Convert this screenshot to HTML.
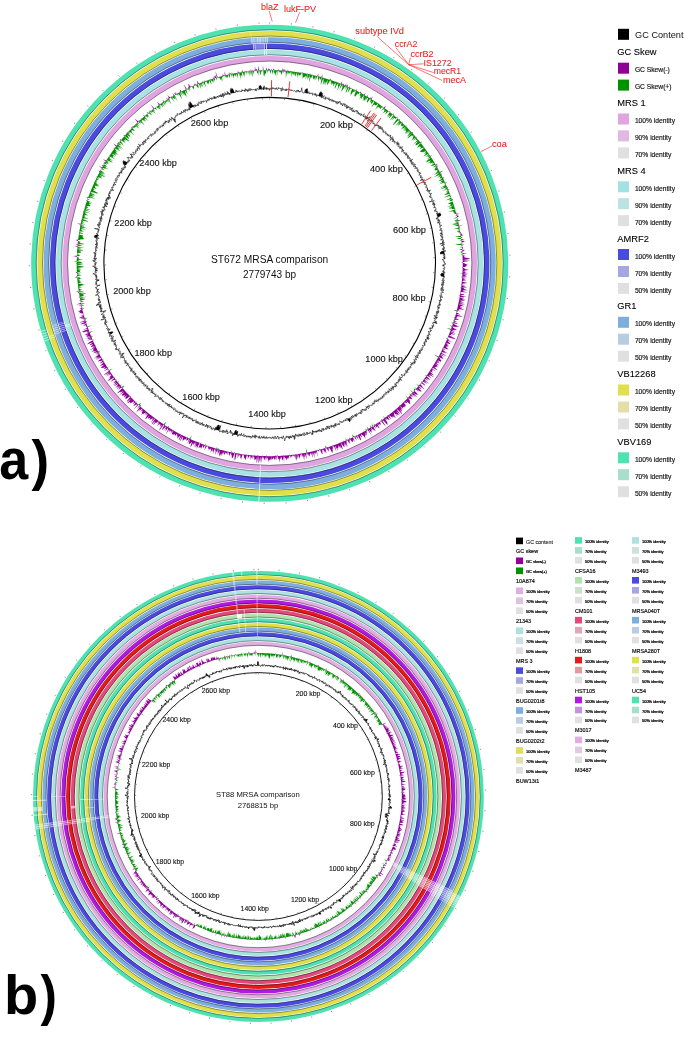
<!DOCTYPE html>
<html><head><meta charset="utf-8"><title>BRIG comparison</title>
<style>
html,body{margin:0;padding:0;background:#fff;}
body{width:685px;height:1056px;overflow:hidden;}
svg{display:block;font-family:"Liberation Sans", sans-serif;will-change:transform;}
</style></head><body>
<svg width="685" height="1056" viewBox="0 0 685 1056">
<rect width="685" height="1056" fill="#fff"/>
<circle cx="269.7" cy="263.2" r="235.8" fill="none" stroke="#4ee2b0" stroke-width="5.5"/>
<circle cx="269.7" cy="263.2" r="233.5" fill="none" stroke="#000" stroke-opacity="0.42" stroke-width="0.9"/>
<circle cx="269.7" cy="263.2" r="229.5" fill="none" stroke="#e0e04c" stroke-width="5.5"/>
<circle cx="269.7" cy="263.2" r="227.2" fill="none" stroke="#000" stroke-opacity="0.42" stroke-width="0.9"/>
<circle cx="269.7" cy="263.2" r="223.3" fill="none" stroke="#7caede" stroke-width="5.5"/>
<circle cx="269.7" cy="263.2" r="221" fill="none" stroke="#000" stroke-opacity="0.42" stroke-width="0.9"/>
<circle cx="269.7" cy="263.2" r="217" fill="none" stroke="#4a4adf" stroke-width="5.5"/>
<circle cx="269.7" cy="263.2" r="214.8" fill="none" stroke="#000" stroke-opacity="0.42" stroke-width="0.9"/>
<circle cx="269.7" cy="263.2" r="210.8" fill="none" stroke="#a8e2e2" stroke-width="5.5"/>
<circle cx="269.7" cy="263.2" r="208.5" fill="none" stroke="#000" stroke-opacity="0.42" stroke-width="0.9"/>
<circle cx="269.7" cy="263.2" r="204.5" fill="none" stroke="#e0a4e0" stroke-width="5.5"/>
<circle cx="269.7" cy="263.2" r="202.2" fill="none" stroke="#000" stroke-opacity="0.42" stroke-width="0.9"/>
<path d="M250.4 37.9L268.1 37.1L268.2 42.8L250.9 43.6Z" fill="#fff" fill-opacity="0.22"/>
<path d="M251.2 37.9L252 37.8L252.4 43.4L251.6 43.5Z" fill="#fff" fill-opacity="0.5"/>
<path d="M253.3 37.7L254.1 37.6L254.5 43.3L253.7 43.3Z" fill="#fff" fill-opacity="0.45"/>
<path d="M257.1 37.5L257.9 37.4L258.2 43.1L257.4 43.1Z" fill="#fff" fill-opacity="0.5"/>
<path d="M258.7 37.4L259.4 37.3L259.7 43L258.9 43Z" fill="#fff" fill-opacity="0.5"/>
<path d="M260.2 37.3L261 37.3L261.2 42.9L260.5 42.9Z" fill="#fff" fill-opacity="0.5"/>
<path d="M262.6 37.2L263.4 37.2L263.5 42.8L262.8 42.9Z" fill="#fff" fill-opacity="0.5"/>
<path d="M265.4 37.1L266.1 37.1L266.2 42.8L265.5 42.8Z" fill="#fff" fill-opacity="0.5"/>
<path d="M266.9 37.1L267.7 37.1L267.8 42.8L267 42.8Z" fill="#fff" fill-opacity="0.5"/>
<path d="M252.8 44L263.6 43.4L263.7 49.1L253.3 49.6Z" fill="#fff" fill-opacity="0.3"/>
<path d="M252.8 44L253.6 43.9L254 49.6L253.3 49.6Z" fill="#fff" fill-opacity="0.6"/>
<path d="M254.7 43.9L255.5 43.8L255.9 49.4L255.1 49.5Z" fill="#fff" fill-opacity="0.45"/>
<path d="M263.8 43.4L264.6 43.4L264.8 49.1L263.9 49.1ZM264 49.7L264.8 49.7L264.9 55.3L264.1 55.3Z" fill="#fff" fill-opacity="0.85"/>
<path d="M266.1 43.4L266.9 43.4L267 49L266.1 49ZM266.2 49.6L267 49.6L267.1 55.3L266.3 55.3Z" fill="#fff" fill-opacity="0.85"/>
<path d="M250.3 31.7L251 31.6L251.5 37.2L250.8 37.3Z" fill="#fff" fill-opacity="0.35"/>
<path d="M259.3 501.6L258.4 501.5L258.7 495.9L259.6 495.9ZM259.6 495.3L258.7 495.3L259 489.6L259.9 489.7ZM259.9 489.1L259 489L259.3 483.4L260.1 483.4ZM260.1 482.8L259.3 482.8L259.6 477.2L260.4 477.2ZM260.4 476.6L259.6 476.6L259.9 470.9L260.7 471ZM260.7 470.4L259.9 470.3L260.2 464.7L260.9 464.7Z" fill="#fff" fill-opacity="0.8"/>
<path d="M44.4 341.7L44.1 340.8L49.4 339L49.7 339.8Z" fill="#fff" fill-opacity="0.6"/>
<path d="M43.6 339.3L43.3 338.5L48.6 336.7L48.9 337.5Z" fill="#fff" fill-opacity="0.6"/>
<path d="M42.8 337L42.5 336.1L47.9 334.4L48.2 335.2Z" fill="#fff" fill-opacity="0.55"/>
<path d="M42 334.6L41.8 333.7L47.2 332L47.4 332.9Z" fill="#fff" fill-opacity="0.6"/>
<path d="M41.2 331.8L40.9 330.9L46.3 329.3L46.6 330.2Z" fill="#fff" fill-opacity="0.55"/>
<path d="M50 338.9L49.7 338L55.1 336.2L55.4 337Z" fill="#fff" fill-opacity="0.55"/>
<path d="M49.4 337L49.1 336.1L54.5 334.3L54.7 335.2Z" fill="#fff" fill-opacity="0.55"/>
<path d="M55.2 334.6L54.9 333.8L60.3 332L60.5 332.8ZM61.1 332.6L60.8 331.8L66.2 330.1L66.5 330.8Z" fill="#fff" fill-opacity="0.6"/>
<path d="M54.6 332.7L54.3 331.9L59.7 330.2L59.9 331ZM60.5 330.8L60.2 330L65.6 328.3L65.9 329.1Z" fill="#fff" fill-opacity="0.6"/>
<path d="M54 330.9L53.7 330L59.1 328.4L59.3 329.2ZM59.9 329L59.7 328.2L65.1 326.5L65.3 327.3Z" fill="#fff" fill-opacity="0.65"/>
<path d="M53.4 329L53.1 328.1L58.5 326.5L58.8 327.3ZM59.4 327.1L59.1 326.3L64.5 324.7L64.8 325.5Z" fill="#fff" fill-opacity="0.6"/>
<path d="M52.8 327.1L52.6 326.2L58 324.7L58.2 325.5ZM58.8 325.3L58.6 324.5L64 322.9L64.2 323.7Z" fill="#fff" fill-opacity="0.55"/>
<path d="M52.4 325.6L52.1 324.7L57.6 323.2L57.8 324ZM58.4 323.8L58.1 323L63.6 321.5L63.8 322.3Z" fill="#fff" fill-opacity="0.4"/>
<path d="M66.1 327.6L65.8 326.9L71.2 325.2L71.4 325.9Z" fill="#fff" fill-opacity="0.7"/>
<path d="M65.5 325.9L65.3 325.1L70.7 323.4L70.9 324.2Z" fill="#fff" fill-opacity="0.7"/>
<path d="M269.7 70.2L270.2 72.7L270.6 74.3L271.1 70.5L271.6 70.2L272 71.7L272.5 73L272.9 74.6L273.4 70.2L273.9 70.2L274.3 73.6L274.8 73.1L275.1 75.7L275.6 74.3L276.2 71.7L276.7 71.2L276.9 77.8L277.6 71.2L278.1 70.4L278.6 70.4L278.9 72.3L279.4 72.4L279.9 71.2L280.3 71.9L280.8 72.8L281.2 73.9L281.5 74.9L282.1 72.7L282.7 70.6L283 74L283.7 70.7L284.1 71.9L284.6 70.8L284.9 72.4L285.5 70.9L285.8 73L285.8 78.4L286.8 72.4L287.1 74.7L287.9 71.1L288.2 72L288.5 74.4L289.1 72.6L289.5 73.8L290 73.1L290.6 71.3L290.8 74.4L291.6 71.4L291.3 77.7L292.5 71.9L292.6 74.9L293.2 73.3L293.4 75.7L294.3 71.9L294.3 75.9L295.1 73.2L295.1 76.7L295.8 75.2L296.4 74L297.1 72.2L297.1 75.7L297.6 75L297.7 78L298.9 73.1L299 75.5L299.4 75.4L300 74.9L300.5 74.8L300.9 74.8L301.7 73L302.2 73L302.5 73.6L302.6 76.1L302.6 78.5L303.3 77.3L303.7 77.5L304.3 76.9L304.8 76.8L305.5 75.6L305.7 77.2L305.6 79.7L307.1 74.7L307.7 74L306.9 80.4L308.2 76.3L308.2 78.2L308.7 78.1L310 74.4L308.9 81.9L309.6 80.5L310.9 76.7L311 78.2L311.8 76.8L312.7 75.1L312.9 76.4L313 77.7L313.1 79.6L313.7 78.8L314.6 77.3L314.3 80.5L315.9 75.8L315.5 79.4L315.7 80.3L317 77L317.7 76.3L318.1 76.4L318 78.6L318.3 79.4L318.1 82L320 76.9L320 78.5L320 80.2L321 78.4L321.8 77.4L320.9 82.1L320.6 84.8L321.6 82.8L323.4 78.3L323.5 79.6L323.5 81.3L322.7 85.4L324.1 82.5L324.9 81.4L324.3 85L325.9 81.2L324.9 86L327.3 80.1L327.5 80.7L327.1 83.7L327 85.5L328 83.8L328.7 83.1L330.2 79.9L330.4 81L330.7 81.4L331.1 81.7L330.6 84.5L331.8 82.5L331.3 85.3L332.3 83.8L333.1 83L333.2 84.2L333.4 85.1L333.4 86.2L335 83.2L335.2 84L336.4 82.1L334.5 88.6L335 88.4L336.9 84.7L337.6 84.2L338.6 82.9L337.9 86L338.3 86.3L337.2 90.4L339.1 86.7L340.5 84.5L341.2 83.9L339.3 89.9L340.8 87.3L342.5 84.4L341.7 87.6L343.3 84.8L340.9 91.9L342.1 90.3L343 89.2L344.2 87.7L345.5 85.7L345 88.1L346.3 86.1L345.1 90.1L347.2 86.4L347.4 87.1L345.7 92.1L345.7 93.3L348.9 87.2L349.3 87.4L347.7 92.1L348.1 92.2L350.5 88.2L350.6 89.1L351 89.3L351.9 88.6L351.8 89.7L350.2 94.3L351.2 93.2L350.3 96.1L352.9 91.9L353.3 91.9L354.7 90.2L354.2 92.4L355.7 90.4L356.1 90.6L354.5 94.8L354 96.7L355.1 95.6L355 96.9L356.6 94.7L358.1 92.7L357.6 94.7L358.5 93.9L359.8 92.5L360.2 92.7L360.6 93L359.7 95.6L360 96.2L361.1 95L359.2 99.4L361.1 96.9L361.1 98L360.7 99.6L363.6 95.4L364.3 95L362.4 99.2L364.6 96.3L362.5 100.9L364.1 99L363.7 100.7L364.4 100.4L367.1 96.6L365.2 100.8L367.4 98L367.9 98.1L367.9 99L366.7 101.8L367 102.3L367.2 102.8L370.3 98.5L370.1 99.8L371.1 99L370.2 101.4L369.7 103.1L371.9 100.5L370.9 102.8L371.3 103.1L370.7 104.9L373.5 101.3L373.9 101.6L374.2 102L371.2 107.5L372.5 106.3L374.5 104.1L374.4 105L375 105.1L375.2 105.5L376.2 104.9L376.7 104.9L378.2 103.6L377.9 104.8L375.1 109.8L377 107.7L378.1 107L378.8 106.7L378.8 107.5L378.8 108.4L380.6 106.6L379.7 108.6L380.1 109L381.9 107.2L382.3 107.4L383 107.3L383.5 107.4L381 111.6L384.3 107.9L383.4 109.8L384.3 109.4L384.7 109.7L384 111.4L382.8 113.7L384.7 111.9L385.4 111.8L386.5 111.1L386.1 112.3L384.9 114.7L387.3 112.4L388.7 111.3L389.1 111.6L389.5 111.9L389.8 112.1L386.8 116.7L388.3 115.6L389.6 114.7L387.2 118.3L390.9 114.5L389.1 117.5L389.3 117.9L392.7 114.5L393.1 114.8L393.2 115.4L390.6 119.2L390.3 120.3L394.5 116L391.4 120.4L394.1 118L394.4 118.2L395 118.2L395 119L396.6 117.8L396.8 118.3L397.3 118.4L395 121.7L393 124.6L393.4 124.9L397.5 121.1L399.1 120L398.3 121.6L399.5 120.9L395 126.5L397.6 124.3L400.2 122.2L397.7 125.6L398.7 125.2L401.8 122.5L401.2 123.9L401 124.7L400.9 125.5L401 126L402.2 125.5L401.6 126.8L403.3 125.7L404.2 125.5L400.3 130.1L402.6 128.3L402.8 128.8L405.8 126.4L404.5 128.4L403.1 130.4L406.8 127.4L403.2 131.6L406.2 129.3L405.1 131L406.4 130.4L406.1 131.3L404.6 133.4L407.8 130.9L404.6 134.7L409.2 131L409.8 131L407.1 134.2L410.6 131.5L409.7 133L407.7 135.5L407.4 136.4L412 132.8L409.3 135.8L407.1 138.5L408.7 137.7L411.6 135.6L412.6 135.4L412.4 136.2L414.2 135.2L412.9 136.9L413.1 137.4L413.3 137.8L411.1 140.4L414.1 138.4L416 137.3L412.2 141.2L416.6 138.1L415.7 139.4L415.4 140.3L416.1 140.3L417.6 139.6L416.5 141.2L412.6 145L417.8 141.3L417.1 142.4L415 144.8L416 144.5L416.3 144.9L416.4 145.4L420.5 142.7L420.3 143.4L418.6 145.3L418.2 146.3L416.9 147.9L418.8 147L420.5 146.2L420.2 147L421 147L420.4 148.1L419.8 149.1L422.1 147.9L423.3 147.6L423.7 147.9L420.1 151.2L420 151.8L420.8 151.7L421.3 151.9L421.7 152.2L423.6 151.4L422.5 152.7L426.3 150.6L424.8 152.2L426.2 151.8L423.5 154.3L426.4 152.8L425.7 153.8L424.9 154.9L423.2 156.7L427.9 154L428.5 154.2L425.1 157L429.3 154.7L426.4 157.3L428.7 156.2L428 157.3L430.4 156.3L426.8 159.2L429.6 157.9L430.7 157.7L425.1 161.9L427.8 160.7L425.6 162.7L429 161L430.8 160.4L430.1 161.4L427.2 163.8L430.9 162L430.1 163L430.2 163.5L433.5 162L431.5 163.8L433.1 163.3L434.6 163L430.6 165.9L431.3 166L432.8 165.7L435.2 164.8L435.8 165L432.6 167.4L434.1 167L436.5 166.2L434.5 167.9L437 167L434.9 168.7L434.8 169.3L434.5 170L435.1 170.2L435.4 170.5L438.4 169.4L437 170.7L437.5 170.9L437.2 171.7L436.3 172.7L435.7 173.5L433.7 175.1L439.9 172.3L436.8 174.4L438.4 174.1L434 177L436.3 176.3L441 174.3L437.9 176.5L440.2 175.8L437 178L441.8 176L439.9 177.5L440.1 177.9L440.3 178.4L441.6 178.2L442.9 178.1L439.6 180.2L438.6 181.2L441.2 180.5L443.5 179.9L441 181.6L440.4 182.4L442.2 182L442.1 182.6L439 184.5L444.9 182.3L443.9 183.3L445.3 183.1L444.6 184L444.9 184.4L445.6 184.6L445.1 185.3L439.6 188.2L444.4 186.6L444.4 187.1L439.9 189.5L444.6 188L447.2 187.4L443.9 189.3L447.2 188.4L441.4 191.3L447.9 189.1L446.9 190.1L448.3 190L445.7 191.5L448.4 190.9L446.4 192.2L447.3 192.4L448 192.6L444.6 194.5L444.7 194.9L446.9 194.5L449.4 194.1L449.9 194.4L447 196L443.3 197.8L449 196.2L449.9 196.3L449.9 196.9L451 197L450.8 197.5L449.2 198.6L445.5 200.4L449 199.6L450.4 199.6L451.9 199.6L449 201.1L449.7 201.3L452.4 200.9L452.5 201.4L450.2 202.6L447.8 203.9L448.9 204L450 204.1L451.4 204.2L450 205.1L450.9 205.3L446.5 207.2L453.8 205.3L452.2 206.3L448.4 208L452.2 207.3L448.3 209L452 208.3L451.7 208.9L453 209L454.9 208.9L454.7 209.4L448 211.9L451.1 211.4L453.7 211.2L453 211.9L454.1 212L453.1 212.8L455.9 212.5L456 212.9L453.5 214.1L456.3 213.8L456.4 214.3L456.5 214.8L456.6 215.2L455 216.1L456.9 216.1L457 216.6L457.1 217L453.2 218.4L457.2 217.9L456.8 218.5L457.3 218.9L456.7 219.5L455.2 220.3L454.2 221L457.9 220.6L454.5 221.9L457.9 221.6L458.3 222L452.2 223.8L458.5 222.9L451.6 224.8L454.1 224.8L458.7 224.3L455.4 225.4L454.9 226L457.1 226L459.1 226.1L457.8 226.8L457.5 227.4L459.4 227.5L452.8 229.2L457.9 228.7L458.4 229.1L458.2 229.6L459.5 229.8L459.6 230.3L457.5 231.1L457 231.7L459.1 231.8L458.2 232.4L460.3 232.5L459 233.2L460.4 233.5L459.9 234L460.5 234.4L460.6 234.9L460.1 235.4L460.7 235.8L454.7 237.1L460.9 236.7L460.9 237.2L461 237.6L457.1 238.6L457.7 239L460.4 239.1L461.2 239.5L461.3 239.9L459.8 240.6L461.4 240.9L461.5 241.3L461.5 241.8L461.6 242.3L461.6 242.7L461.7 243.2L461.7 243.6L454.8 244.8L457.4 245L461.8 245L461 245.6L461.7 246L462 246.4L459.4 247.1L462 247.4L462.1 247.8L462.1 248.3L462.2 248.8L459 249.5L460.3 249.8L462.3 250.2L462.3 250.6L462.3 251.1L460.3 251.7L461.8 252L460.2 252.6L462.4 252.9L462.5 253.4L461.3 253.9L461.9 254.4L461.2 254.9L462.5 255.3L462.4 255.7L462.6 256.2L462.6 256.7L462.6 257.1L462.6 257.6L462.6 258.1L462.6 258.5L462.7 259L462.7 259.5L462.6 259.9L462.7 260.4L462.7 260.9L462.7 261.3L462.7 261.8L461.3 262.3L462.5 262.7L462.7 263.2L462.7 263.7L462.7 264.1L462.7 264.6L462.7 265.1L462.7 265.5L462.7 266L462.7 266.5L462.7 266.9L461.8 267.4L462.6 267.9L462.6 268.3L462.6 268.8L462.6 269.3L462.6 269.7L462.6 270.2L462.6 270.7L462.2 271.1L462.5 271.6L462.5 272.1L462.5 272.5L462.5 273L460 273.3L462.4 273.9L462.4 274.4L462.3 274.9L462.3 275.3L462.3 275.8L462.3 276.2L462.2 276.7L460.1 277L462.2 277.6L462.1 278.1L462.1 278.6L462 279L462 279.5L462 280L461.9 280.4L461.9 280.9L461.6 281.3L461.8 281.8L461.8 282.3L461.7 282.8L461.7 283.2L461.6 283.7L460.5 284L461.5 284.6L461.5 285.1L461.2 285.5L461.3 286L461.3 286.5L461.2 286.9L460.4 287.3L461.1 287.9L461.1 288.3L461 288.8L460.9 289.2L460.9 289.7L460.8 290.2L460.7 290.6L460.7 291.1L460.6 291.5L460.2 292L460.5 292.5L460.4 292.9L459.8 293.3L460.3 293.9L460.2 294.3L460.1 294.8L458.6 295L459.9 295.7L459.9 296.2L459.8 296.6L459.7 297.1L458.7 297.4L459.5 298L459.5 298.4L459.4 298.9L459.3 299.4L459.2 299.8L459.1 300.3L459 300.7L458.9 301.2L458.8 301.7L458.7 302.1L458.6 302.6L458.5 303L458.5 303.5L457.7 303.8L458.3 304.4L458.2 304.8L458.1 305.3L457.9 305.8L457.8 306.2L457.7 306.7L457.6 307.1L457.5 307.6L457.4 308L457.3 308.5L457.2 308.9L457.1 309.4L457 309.8L456.9 310.3L453.2 309.9L456.6 311.2L456.5 311.6L456.4 312.1L456.3 312.6L456.2 313L456 313.5L455.9 313.9L455.8 314.4L455.7 314.8L455.5 315.3L455.4 315.7L455.3 316.1L455.2 316.6L455 317L454.9 317.5L453.6 317.6L454.6 318.4L454.5 318.8L454.4 319.3L454.2 319.7L454.1 320.2L453 320.3L453.8 321.1L453.5 321.5L453.5 322L453.4 322.4L453.3 322.8L450.8 322.5L453 323.7L452.8 324.2L452.7 324.6L452.5 325.1L452.4 325.5L452.2 325.9L449.2 325.4L451.9 326.8L451.8 327.3L451.6 327.7L451.4 328.1L451.3 328.6L451.1 329L446.5 327.8L450.8 329.9L450.6 330.3L450.4 330.7L450.3 331.2L450.2 331.6L449.6 331.9L449.8 332.5L449.7 332.9L449.5 333.4L449.3 333.8L449.1 334.2L449 334.7L448.8 335.1L448.6 335.5L448.5 336L448.3 336.4L448.1 336.8L447.6 337.1L447.7 337.7L446.9 337.9L445.6 337.8L447.2 339L447 339.4L446.8 339.8L446.6 340.3L446.5 340.7L446.3 341.1L446.1 341.6L445.9 342L445.7 342.4L445.1 342.7L445.3 343.3L445.1 343.7L444.9 344.1L444.7 344.5L444.5 345L444.3 345.4L444.1 345.8L443.9 346.2L443.7 346.6L443.5 347.1L443.3 347.5L443.1 347.9L441.8 347.8L442.7 348.7L442.5 349.2L442.3 349.6L442.1 350L441.9 350.4L441.7 350.8L441.5 351.2L441.1 351.6L441 352.1L440.8 352.5L440.6 352.9L440.4 353.3L440.2 353.7L439.9 354.1L439.7 354.5L439.5 354.9L439.3 355.4L439.1 355.8L438.8 356.2L438.6 356.6L434 354.6L438.1 357.4L437.9 357.8L437.7 358.2L437.5 358.6L437.2 359L437 359.4L436.8 359.8L436.5 360.2L436.3 360.6L436.1 361L435.8 361.4L435.6 361.8L435.3 362.2L435.1 362.6L434.9 363L434.4 363.3L434.4 363.8L434.1 364.2L433.9 364.6L433.6 365L433.4 365.4L433.2 365.8L432.9 366.2L432.7 366.6L432.4 367L432.2 367.4L431.9 367.8L431.6 368.2L431.4 368.6L431.1 369L430.9 369.4L430.6 369.7L430.4 370.1L430.1 370.5L429.8 370.9L429.6 371.3L429.3 371.7L429.1 372.1L428.8 372.5L428.5 372.8L428.3 373.2L428 373.6L427.7 374L427.5 374.4L427.2 374.7L426.9 375.1L426.7 375.5L425.1 374.9L426.1 376.3L425.8 376.6L425.6 377L425.3 377.4L425 377.8L424.7 378.1L424.2 378.4L424.2 378.9L423.9 379.3L423.6 379.6L423.3 380L423.1 380.4L422.8 380.8L422.5 381.1L421.5 381L421.9 381.9L421.6 382.2L421.3 382.6L421 383L420.8 383.3L420.2 383.5L420 383.9L419.9 384.4L419.6 384.8L419.3 385.1L419 385.5L416.4 384L418.4 386.2L418.1 386.6L417.8 386.9L417.5 387.3L417.2 387.7L416.9 388L416.6 388.4L414.6 387.2L416 389.1L415.7 389.4L413.8 388.4L413.6 388.8L414.2 389.9L413.5 390L414.2 391.2L413.9 391.5L413.5 391.9L413.2 392.2L410.1 390L412.6 392.9L412.3 393.3L412 393.6L411.2 393.5L411 394L411 394.6L408.9 393.3L410.4 395.3L409.7 395.3L409.8 396L409.4 396.3L409.1 396.7L408.8 397L408.5 397.3L408.1 397.7L405.6 395.8L407.5 398.3L407.2 398.7L406.8 399L406.5 399.3L406.2 399.7L405.8 400L405.5 400.3L405.2 400.7L404.8 401L404.5 401.3L404.2 401.6L403.8 402L403.5 402.3L403.2 402.6L402.8 402.9L402.5 403.3L402.2 403.6L401.8 403.9L401.5 404.2L401.1 404.5L400.8 404.8L400.5 405.2L400.1 405.5L399.4 405.4L399.4 406.1L399.1 406.4L398.7 406.7L398.4 407L398 407.4L397.7 407.7L397.3 408L397 408.3L396.6 408.6L396.3 408.9L395.9 409.2L395.6 409.5L395.2 409.8L394.9 410.1L394.5 410.4L394.2 410.7L393.8 411L393.4 411.3L393.1 411.6L392.7 411.9L392.4 412.2L392 412.5L391.6 412.8L391.3 413.1L390.9 413.4L390.6 413.7L390.2 414L389.8 414.3L389.5 414.5L389.1 414.8L388.7 415.1L388.4 415.4L388 415.7L387.1 415.3L387.3 416.3L386.9 416.6L386.5 416.8L386.1 417.1L385.8 417.4L385.4 417.7L385 418L383 416L384.3 418.5L383.9 418.8L383.5 419.1L383.1 419.3L382.8 419.6L382.4 419.9L381.2 419.1L381.6 420.4L381.2 420.7L380.4 420.3L380.5 421.2L380.1 421.5L379.7 421.8L379.3 422L379 422.3L378.6 422.6L378.2 422.8L377.8 423.1L377.4 423.3L376.5 422.9L376.6 423.9L376.2 424.1L375.9 424.4L375.5 424.6L375.1 424.9L373.3 423.1L374.3 425.4L373.9 425.7L373.5 425.9L371.2 423.2L372.7 426.4L372.3 426.7L371.9 426.9L371.5 427.1L369.7 425.1L370.7 427.6L370.3 427.9L369.9 428.1L369.5 428.4L369.1 428.6L368.7 428.8L366.7 426.3L367.9 429.3L367.5 429.6L366.8 429.3L366.7 430L365.3 428.5L365.9 430.5L365.5 430.7L365.1 431L364.7 431.2L363.7 430.3L363.9 431.6L363.5 431.9L363.1 432.1L362.7 432.3L362.3 432.6L361.9 432.8L361.4 433L361 433.2L360.6 433.4L360.2 433.7L359.8 433.9L359.4 434.1L359 434.3L358.6 434.5L358.2 434.7L357.7 435L357.3 435.2L356.9 435.4L356.5 435.6L356.1 435.8L355.7 436L355 435.7L354.8 436.4L354.4 436.6L353.6 436.1L352.1 434.1L352.7 436.3L352.7 437.4L352.3 437.6L351.9 437.8L351.5 438L351 438.2L350.6 438.4L350.2 438.6L349 437.2L349.3 439L348.9 439.2L348.5 439.4L348.1 439.6L347.6 439.8L347.1 439.6L346.8 440.1L345.5 438.3L345.9 440.5L345.5 440.7L345.1 440.9L344.6 441.1L344.2 441.2L343.4 440.4L343.3 441.6L342.9 441.8L342.5 442L342 442.1L341.6 442.3L341.2 442.4L340.7 442.6L340.3 442.8L339.9 443L339.4 443.2L339 443.3L338.6 443.5L338.1 443.7L337.7 443.8L337.3 444L336.8 444.1L336.4 444.3L336 444.5L335.5 444.6L335.1 444.8L334.6 444.9L334.2 445.1L333.8 445.3L333.3 445.3L332.9 445.6L332.3 445.3L332 445.9L331.6 446L331.1 446.2L330.7 446.3L330.2 446.5L329.8 446.6L329.3 446.8L328.9 446.9L328.4 446.9L328 447.2L327.6 447.3L327.1 447.5L326.7 447.6L325.7 446.1L325.2 445.8L325.3 448L324.9 448.1L324.4 448.3L324 448.4L323.5 448.5L323.1 448.7L322.6 448.8L322.2 448.9L321.8 449L321.3 449.2L320.9 449.3L320.4 449.4L319.8 449L319.2 448.5L319.1 449.8L318.6 449.9L318.1 450L317.7 450.1L317.1 449.8L316.8 450.4L316.3 450.5L315.9 450.6L315.4 450.7L315 450.8L314.5 450.9L314.1 451L313.6 451.1L313.2 451.2L312.7 451.3L312.3 451.4L311.8 451.6L311.3 451.7L310.9 451.8L310.4 451.9L310 452L309.5 452L309.1 452.1L308.6 452.2L308.2 452.3L307.7 452.4L307.2 452.5L305.7 447.3L306.3 452.7L305.9 452.8L305.4 452.9L304.9 453L304.5 453L304 453.1L303.6 453.2L303.1 453.3L302.7 453.4L302.2 453.4L301.7 453.5L301.2 452.9L300.8 453.7L300.4 453.8L299.9 453.8L299.4 453.9L299 454L298.5 454L298 453.7L297.6 454.2L297.1 454.2L296.7 454.3L296.2 454.4L295.7 454.4L295.2 454.3L294.8 454.6L294.3 454.4L293.9 454.7L293.4 454.7L293 454.8L292.5 454.7L292 454.9L291.6 455L291.1 455L290.6 455.1L290.2 455.1L289.7 455.2L289.2 454.2L288.8 455.3L288.3 455.3L287.9 455.3L287.4 455.4L286.9 455.4L286.5 455.5L286 455.5L285.5 455.5L285.1 455.6L284.6 455.6L284.1 455.7L283.7 455.7L283.2 454.9L282.7 455.8L282.3 455.8L281.8 455.8L281.4 455.8L280.9 455.9L280.4 455.9L280 455.9L279.5 456L279 456L278.6 456L278.1 456L277.6 456L277.1 454.3L276.7 456.1L276.2 456.1L275.7 455L275.3 456.1L274.8 456.1L274.4 456.1L273.9 456.2L273.4 456.2L273 456.2L272.5 456.2L272 456.2L271.6 456.2L271.1 456.2L270.6 456.2L270.2 456.2L269.7 456.2L269.2 456.2L268.8 456.2L268.3 456.2L267.8 456.2L267.4 456.2L266.9 456.2L266.5 455L266 456.2L265.5 456.2L265 456.1L264.6 456.1L264.1 456.1L263.6 456.1L263.2 456.1L262.7 456.1L262.3 455.3L261.8 456L261.3 456L260.8 456L260.4 456L259.9 456L259.4 455.9L259 455.9L258.5 455.9L258.1 454.9L257.6 455.8L257.1 455.8L256.7 455.8L256.2 455.7L255.7 455.7L255.3 455.7L254.8 455.6L254.3 455.6L253.9 455.5L253.4 455.5L252.9 455.5L252.5 455.4L252 455.4L251.5 455.3L251.1 455.3L250.6 455.3L250.1 455.2L249.7 454.7L249.2 455.1L248.8 455.1L248.3 455L247.8 455L247.4 454.9L246.9 454.8L246.4 454.8L246 454.7L245.5 454.7L245 454.6L244.6 454.6L244.1 454.5L243.7 454.4L243.2 454.4L242.7 454.3L242.3 454.2L241.8 454.2L241.4 454.1L240.9 454L240.4 454L240 453.9L239.5 453.8L239 453.8L238.6 453.7L238.1 453.6L237.8 452.6L237.2 453.4L236.7 453.4L236.3 453.3L235.8 453.2L235.4 453.1L234.9 453L234.7 451.7L234 452.9L233.5 452.8L233.1 452.7L232.6 452.6L232.2 452.5L231.7 452.4L231.6 450.5L230.8 452.2L230.3 452.1L229.9 452L229.4 452L229 451.9L228.5 451.8L228.1 451.7L227.6 451.6L227.1 451.4L226.7 451.3L226.2 451.2L225.8 451.1L225.3 451L224.9 450.9L224.5 450.4L224 450.7L223.5 450.6L223.1 450.5L222.6 450.4L222.2 450.3L221.7 450.1L221.3 450L220.8 449.9L220.3 449.8L219.9 449.7L219.4 449.5L219 449.4L219 447.8L218.1 449.2L217.9 448.2L217.2 448.9L216.8 448.8L216.8 446.9L215.9 448.5L215.4 448.4L215 448.1L214.5 448.1L214.1 448L213.6 447.9L213.2 447.7L212.7 447.6L212.3 447.5L211.8 447.3L211.4 447.2L210.9 447L210.5 446.9L210.1 446.8L209.6 446.6L209.2 446.5L208.7 446.3L208.4 445.8L207.8 446L207.4 445.9L207 445.7L206.5 445.6L206.1 445.4L205.6 445.3L205.7 443.7L204.8 444.9L204.3 444.8L203.9 444.6L203.5 444.3L203 444.3L202.6 444.1L202.1 444L201.7 443.8L201.3 443.7L200.8 443.5L200.4 443.3L200.3 442.3L199.5 443L199.1 442.8L198.7 442.6L198.2 442.5L197.8 442.3L197.4 442.1L196.9 442L196.5 441.8L196.1 441.6L195.6 441.4L195.2 441.2L194.8 441.1L194.3 440.9L193.9 440.7L193.5 440.5L193.1 440.3L192.6 440.1L192.2 440L191.8 439.8L191.3 439.6L190.9 439.4L190.5 439.2L191.8 435.3L189.6 438.8L189.6 437.7L188.8 438.4L188.4 438.2L187.9 438L187.5 437.8L187.6 436.5L186.7 437.4L186.3 437.2L185.8 437L185.4 436.8L185 436.6L184.6 436.4L184.2 436.2L183.7 436L183.3 435.8L182.9 435.6L182.5 435.4L182.1 435.2L181.7 435L181.2 434.7L180.8 434.5L180.4 434.3L180 434.1L179.6 433.9L179.2 433.7L178.8 433.4L178.4 433.2L178 433L177.5 432.8L177.1 432.6L176.7 432.3L176.3 432.1L175.9 431.9L175.5 431.6L175.1 431.4L174.7 431.2L174.3 431L173.9 430.7L173.5 430.5L173.1 430.2L172.7 430L172.3 429.8L171.9 429.6L171.5 429.3L171.1 429.1L170.7 428.8L170.3 428.6L169.9 428.4L169.5 428.1L169.1 427.9L168.7 427.6L169.3 425.6L167.9 427.1L167.5 426.9L167.1 426.7L166.7 426.4L166.4 426L165.9 425.9L165.5 425.7L165.1 425.4L164.7 425.1L166 422.3L165.3 422.5L163.5 424.4L163.2 424.1L162.8 423.9L162.4 423.6L162 423.3L161.6 423.1L161.2 422.8L160.8 422.6L160.4 422.3L160.1 422L160 421.4L159.3 421.5L158.9 421.2L158.5 421L158.2 420.7L157.8 420.4L157.4 420.2L157 419.9L156.6 419.6L156.3 419.3L155.9 419.1L155.5 418.8L155.1 418.5L154.8 418.2L154.4 418L154 417.7L153.6 417.4L153.3 417.1L152.9 416.8L152.5 416.6L152.1 416.3L151.8 416L151.4 415.7L151 415.4L150.7 415.1L150.3 414.8L149.9 414.5L149.6 414.3L149.2 414L148.8 413.7L148.5 413.4L148.1 413.1L147.8 412.8L147.4 412.5L147 412.2L146.7 411.9L146.3 411.6L146 411.3L145.6 411L145.2 410.7L144.9 410.4L144.5 410.1L144.2 409.8L143.8 409.5L143.5 409.2L143.1 408.9L142.8 408.6L142.5 408.1L142.1 408L141.7 407.7L141.4 407.4L141 407L140.7 406.7L140.3 406.4L141.5 404.5L139.6 405.8L140 404.7L141 403L139.9 403.4L138.3 404.5L137.9 404.2L137.6 403.9L137.2 403.6L136.9 403.3L136.6 402.9L136.2 402.6L136.6 401.6L135.6 402L135.2 401.6L134.9 401.3L134.6 401L134.2 400.7L133.9 400.3L133.6 400L133.2 399.7L132.9 399.3L132.6 399L132.2 398.7L131.9 398.3L131.6 398L131.3 397.7L130.9 397.3L130.6 397L130.9 396.1L130.2 396.1L129.6 396L129.3 395.7L129 395.3L128.7 395L128.4 394.6L128.1 394.3L127.7 394L127.4 393.6L127.1 393.3L126.8 392.9L126.5 392.6L126.2 392.2L125.9 391.9L125.5 391.5L125.2 391.2L124.9 390.8L124.6 390.5L124.3 390.1L124 389.8L123.7 389.4L123.4 389.1L123.1 388.7L122.8 388.4L122.6 387.9L124.1 386L123.9 385.6L121.6 386.9L121.3 386.6L121 386.2L120.7 385.9L121.6 384.5L120.1 385.1L119.8 384.8L119.5 384.4L119.2 384.1L118.9 383.7L118.6 383.3L118.4 383L118.1 382.6L119.2 381.1L117.5 381.9L117.2 381.5L116.9 381.1L116.6 380.8L116.3 380.4L116.7 379.5L115.9 379.6L115.5 379.3L115.2 378.9L114.9 378.5L114.7 378.1L115.8 376.7L114.1 377.4L113.8 377L113.6 376.6L113.3 376.3L113 375.9L112.7 375.5L112.5 375.1L112.2 374.7L111.9 374.4L111.7 374L111.7 373.4L111.1 373.2L110.9 372.8L110.6 372.5L110.3 372.1L110.4 371.5L109.8 371.3L109.6 370.9L112.6 368.3L109.4 369.9L108.8 369.7L109.1 369L108.4 368.9L108 368.6L107.8 368.2L108.1 367.4L107.2 367.4L107 367L106.7 366.6L106.5 366.2L106.2 365.8L106 365.4L105.8 365L105.5 364.6L105.3 364.2L105 363.8L104.8 363.4L104.5 363L104.3 362.6L104.1 362.2L104.2 361.6L103.6 361.4L103.3 361L103.1 360.6L103.8 359.7L102.6 359.8L102.4 359.4L102.2 359L101.9 358.6L101.7 358.2L101.5 357.8L101.3 357.4L101 357L100.8 356.6L100.6 356.2L100.3 355.8L100.1 355.4L99.9 354.9L99.7 354.5L99.9 353.9L99.2 353.7L99.5 353.1L98.8 352.9L100.5 351.5L98.4 352.1L100 350.7L97.9 351.2L97.7 350.8L97.5 350.4L97.3 350L97.1 349.6L96.9 349.2L96.7 348.7L96.5 348.3L96.3 347.9L96.1 347.5L95.9 347.1L95.7 346.6L95.5 346.2L96.1 345.4L95.1 345.4L94.9 345L94.7 344.5L94.5 344.1L94.3 343.7L94.1 343.3L93.9 342.8L93.7 342.4L93.5 342L93.3 341.6L93.1 341.1L92.9 340.7L94.2 339.7L92.9 339.7L92.4 339.4L92.2 339L92 338.6L91.9 338.1L91.7 337.7L91.5 337.3L93.3 336L91.1 336.4L91.6 335.7L90.8 335.5L90.6 335.1L90.4 334.7L90.3 334.2L90.1 333.8L89.9 333.4L89.7 332.9L93.3 331.1L89.4 332.1L89.2 331.6L89.1 331.2L88.9 330.8L88.8 330.3L88.6 329.9L88.4 329.5L88.3 329L88.1 328.6L88 328.1L87.8 327.7L87.6 327.3L91.9 325.3L87.3 326.4L87.2 325.9L87 325.5L86.9 325.1L86.7 324.6L86.6 324.2L86.4 323.7L86.7 323.2L86.1 322.8L86 322.4L85.9 322L87.4 321L85.6 321.1L85.4 320.6L85.3 320.2L85.2 319.7L87.1 318.6L84.9 318.8L86.9 317.7L84.6 317.9L84.5 317.5L84.4 317L84.2 316.6L84.1 316.1L84.6 315.5L83.9 315.2L83.7 314.8L83.7 314.3L83.5 313.9L83.4 313.5L83.2 313L83.1 312.6L83 312.1L82.9 311.6L82.8 311.2L82.6 310.7L82.5 310.3L82.4 309.8L82.3 309.4L84.8 308.3L82.1 308.5L82 308L82.5 307.4L81.8 307.1L82.5 306.5L81.6 306.2L84.4 305.1L81.3 305.3L81.2 304.8L83 304L85.2 303L80.9 303.5L80.9 303L80.9 302.5L83.2 301.6L84.3 300.9L80.5 301.2L80.4 300.7L84.5 299.5L85.3 298.8L83.8 298.7L82.8 298.4L80.5 298.3L87.2 296.6L79.8 297.5L79.7 297.1L84.6 295.7L82.8 295.6L83.7 295L82.8 294.6L86.1 293.6L85.4 293.3L80.4 293.7L84.2 292.6L79 292.9L78.9 292.5L84.5 291.2L80.3 291.3L78.7 291.1L81.2 290.3L79.5 290L82.4 289.2L80.9 288.9L79.1 288.7L79.1 288.2L82.8 287.3L78.5 287.4L81.1 286.6L78.2 286.4L81.8 285.6L85.1 284.7L82 284.6L83.3 284L81.6 283.7L78 283.7L79.6 283L80.5 282.5L81.4 281.9L78.7 281.7L81.7 281L78.3 280.8L80.2 280.2L80 279.7L77.4 279.5L82.5 278.6L80 278.4L80.2 277.9L79.8 277.5L77.2 277.2L77.2 276.7L77.5 276.2L82.2 275.4L78.2 275.2L81.2 274.6L77 274.4L77.5 273.9L78.4 273.4L82.2 272.7L76.9 272.5L79.1 272L80.5 271.4L79.8 271L79.4 270.6L81.4 270L80.2 269.6L76.9 269.3L81 268.7L77.4 268.3L78.5 267.8L83 267.3L84.2 266.8L83 266.4L80.4 265.9L77.4 265.5L77.4 265.1L83.5 264.5L80.2 264.1L76.7 263.7L83.3 263.2L80.8 262.7L82.6 262.3L80.3 261.8L76.7 261.3L77.5 260.9L79 260.4L78.9 260L83.2 259.6L77.7 259L79.1 258.6L79.2 258.1L79.2 257.7L76.8 257.1L76.8 256.7L76.8 256.2L80.3 255.9L79 255.4L80 254.9L76.9 254.3L79.5 254L77.1 253.4L77 252.9L80.5 252.7L81.2 252.3L81.1 251.8L79.6 251.2L78.7 250.7L83.3 250.6L82.9 250.1L78.2 249.3L77.2 248.8L80.8 248.6L80.7 248.1L77.7 247.4L84.9 247.5L77.4 246.4L78 246L80.7 245.8L82.6 245.5L77.6 244.6L79.2 244.3L83.9 244.3L83.9 243.8L79.8 242.9L80.5 242.5L78.3 241.8L81.5 241.7L78 240.9L78.1 240.4L78.1 239.9L80.9 239.8L78.2 239L83.6 239.2L84.1 238.8L83.5 238.3L82.7 237.7L83.9 237.5L81.8 236.7L83.4 236.5L82.5 235.9L83.3 235.5L78.9 234.4L79.9 234.1L79.1 233.5L83.7 233.7L83 233.2L79.8 232.2L79.4 231.6L80.5 231.4L84.2 231.5L81.8 230.6L81.6 230.1L80.6 229.5L82.1 229.3L86.4 229.6L80.8 228.1L81.7 227.8L86.9 228.3L84.6 227.4L80.3 226.1L85.6 226.7L80.5 225.2L84.5 225.5L80.7 224.3L80.9 223.9L85.7 224.4L82 223.2L81.8 222.6L83.8 222.6L83.8 222.1L82.8 221.4L82.3 220.8L88.5 221.8L87.9 221.2L85.1 220.1L81.9 218.8L83.2 218.7L83.9 218.4L85.9 218.4L88.8 218.6L83.7 216.9L85.4 216.8L84.1 216L85.6 215.9L83.7 215L86.5 215.2L88.5 215.3L84.8 213.8L85.1 213.4L86.3 213.3L83.6 212L90.6 213.5L83.9 211.1L85.6 211.2L84.5 210.4L90.4 211.6L85.7 209.7L85.8 209.3L91.7 210.6L87 208.7L85.5 207.8L87.5 207.9L88.1 207.6L86 206.4L87.5 206.4L87.6 206L90 206.2L90.2 205.8L90.5 205.5L88.3 204.3L90.7 204.6L88.4 203.3L91.8 204L90.2 202.9L88.3 201.8L92.4 202.8L87.2 200.5L87.5 200.1L88.1 199.8L89.8 199.9L87.8 198.7L88 198.3L88.1 197.8L91 198.4L89.1 197.2L95.6 199.1L93 197.7L88.9 195.6L94.6 197.3L91.9 195.8L94.4 196.2L89.6 193.9L94.9 195.5L94.9 195L91.5 193.2L90.7 192.3L92 192.3L93.6 192.5L97.7 193.7L97.6 193.1L97 192.4L93.2 190.3L93.1 189.8L94.9 190.1L93.6 189L93.4 188.4L94.1 188.2L96.7 188.9L94.8 187.5L95.7 187.4L94.7 186.5L95.1 186.1L95 185.6L98.8 186.8L96.6 185.3L99.7 186.2L96.1 184L99.1 184.9L94.5 182.3L96.1 182.5L97.1 182.5L96 181.5L97.4 181.6L95.7 180.3L97.7 180.7L96.7 179.7L98.4 180.1L98 179.3L96.6 178.1L98.1 178.4L99.3 178.4L97.1 176.8L99.9 177.7L102.7 178.6L99.6 176.5L101.5 177L101.9 176.7L98.9 174.6L103.9 176.7L105.4 177L99.1 173.1L105.9 176.2L100.2 172.7L105.2 174.8L99.9 171.5L104.9 173.7L103 172.1L100.6 170.2L101.3 170.1L101 169.4L101.6 169.2L104.6 170.3L103.6 169.3L101.9 167.8L103.8 168.3L105.7 168.9L105.1 168L108.8 169.6L103.1 165.8L106.1 167L105.9 166.3L107.6 166.8L104.1 164.2L104.3 163.8L106.4 164.5L107.2 164.4L105 162.6L108.3 164L107.7 163.1L109.5 163.7L106 161L109.5 162.6L106.8 160.4L107.9 160.5L110.9 161.9L113 162.7L110 160.2L109.7 159.5L113 161.1L108.6 157.6L110.4 158.3L109.9 157.4L109.2 156.3L111.9 157.6L115.8 159.7L112.5 156.9L113.3 156.9L112.4 155.8L115.1 157L113.4 155.3L111.5 153.4L113.7 154.4L116.8 156L113.9 153.4L116.8 154.9L114.5 152.7L118.8 155.3L115.7 152.5L116.7 152.6L115.1 150.9L117.6 152.2L115.8 150.2L114.4 148.6L117.4 150.3L114.9 147.9L120.3 151.3L119.2 149.9L117.9 148.4L119.5 149L116.3 146L121.8 149.6L117.7 145.9L120.6 147.5L123.4 149.2L117.8 144.2L119.3 144.8L121.1 145.6L121.5 145.4L118.9 142.7L119.4 142.5L124.5 146L120.7 142.3L123.2 143.8L120.4 140.9L120.9 140.7L121 140.2L123.8 141.9L125.8 143L124.1 140.9L123.7 140L124.9 140.5L125.7 140.5L124.5 138.9L126.4 139.9L128.6 141.2L129.4 141.3L124.4 136.3L124.6 135.9L129.7 139.8L128.2 137.9L129 137.9L128.1 136.5L126.9 134.8L129.4 136.5L130 136.4L130.4 136.2L127.4 132.8L130.8 135.2L128.5 132.5L128.8 132.2L130.5 133.1L129.5 131.5L134.7 135.8L131.8 132.4L131.6 131.6L131 130.4L132.2 130.9L131.6 129.7L133.4 130.8L134.2 131L134.5 130.6L132.2 127.7L133.1 127.9L134.1 128.3L133.2 126.7L135.3 128.2L134.7 126.9L135.4 126.9L136.3 127.2L134.9 125.1L139 128.7L138.4 127.4L136 124.2L138.1 125.7L138.9 125.9L136.9 123.1L137.7 123.3L139.8 124.9L137.9 122.2L138.3 121.9L140.2 123.3L141 123.5L139.3 120.9L142.1 123.3L144.7 125.5L141.7 121.5L141.6 120.7L142.2 120.6L141.4 119L143.6 120.9L143.4 119.9L144.7 120.7L146.1 121.7L144.2 118.7L144.8 118.7L145.4 118.7L148 121.1L144.5 116.3L145.9 117.1L145.2 115.7L146.8 116.8L148.3 117.9L147.4 116.1L148.8 117.1L148.3 115.7L147.4 113.9L147.8 113.6L148.1 113.3L149.8 114.6L149.2 113.1L151.5 115.3L152 115.2L149.9 111.9L150.3 111.6L152.6 113.7L151 111L152.7 112.3L153.6 112.8L152.5 110.6L156.2 114.6L152.9 109.6L154.8 111.4L153.9 109.4L154 108.7L155 109.3L155.4 109.1L156.9 110.3L156.2 108.6L155.9 107.3L156.4 107.2L157.1 107.4L159 109.3L157.9 106.9L160.5 109.7L160.3 108.7L158.5 105.4L161.3 108.5L159.3 104.9L160.6 105.9L160.1 104.4L161.2 105.2L163.3 107.5L162.1 104.8L162.2 104.2L164.6 107L162.4 102.8L162.8 102.5L165.4 105.6L165.2 104.6L163.9 101.8L165.4 103.1L166.6 104.2L165.7 101.9L165.8 101.2L166.9 102.1L167.4 102L166.7 100L169 102.8L167.5 99.5L168.6 100.4L171.9 104.9L168.7 98.8L169.8 99.7L169.5 98.3L169.9 98L170.3 97.8L171.5 99L171.2 97.6L174.6 102.4L171.9 96.8L173 97.9L173.7 98.2L174.6 98.9L175.4 99.2L173.9 95.7L177.8 101.5L175.1 95.9L175.1 95L175.5 94.8L176.1 94.9L176.3 94.3L177.7 95.8L177.1 93.9L178.7 95.7L178 93.4L179.2 94.7L182.1 99.2L181.3 96.7L180.5 94.2L180 92.3L182.8 96.7L180.8 91.9L181.2 91.7L183.8 95.7L182.1 91.3L184.7 95.4L184.2 93.5L186.5 96.9L186.4 95.8L185.5 92.9L184.6 90L186.3 92.5L187.6 94.1L186.7 91.1L186.3 89.2L186.9 89.5L187.4 89.3L188.1 89.8L188.2 89L190.2 92.1L188.8 88L190.3 90.2L189.6 87.6L190.1 87.4L190.5 87.2L190.9 87L191.3 86.8L191.8 86.6L193.4 89.2L193.8 89L193.7 87.6L194.3 87.7L193.9 85.7L194.3 85.5L194.8 85.3L195.4 85.6L195.6 85L196.3 85.4L197.8 87.7L198 87.1L199.2 88.8L197.8 84.1L198.2 83.9L198.7 83.8L201.5 89.6L200.7 86.4L200.1 83.6L202.1 87.6L201 83.3L203.3 88.1L201.9 83L202.3 82.9L203.7 85.3L203 82.1L203.8 83L206.1 87.7L205.2 84.1L204.8 81.5L205.5 82.1L206.1 82.5L206.1 81L207.4 83.2L208.5 85.1L207.9 82.1L209 83.9L209 82.4L209.3 81.8L209.2 79.9L210.8 83.5L211.6 84.3L210.6 79.9L210.9 79.4L212.2 81.9L212.4 80.8L213.6 83.1L213.5 81.4L213.5 79.8L213.6 78.5L214.9 81.3L215 79.9L215 78.1L215.4 78L215.9 77.9L217.1 80.7L216.9 78L217.2 77.5L217.6 77.4L218.1 77.2L218.9 78.3L219.4 78.5L219.6 77.5L220.8 80L221.4 80.5L221 77.4L222.6 81.7L222 77.4L222.2 76.1L223.1 77.9L223.1 75.9L223.7 76.5L224 75.7L224.5 76L225.3 77.4L225.3 75.4L226.3 77.7L226.7 77.3L226.9 76L227.9 78.2L228.1 77.1L228.2 75.3L228.5 74.6L229.7 77.8L230.1 77.8L229.9 74.4L230.3 74.3L230.8 74.2L232 77.6L231.7 74L232.2 73.9L233.6 79L233.6 76.3L233.9 75.7L234.4 75.6L234.6 74.5L235.2 74.9L236 77L236.3 75.8L236.3 73.5L237 74.7L238.2 79L237.7 73L238.1 72.8L238.9 74.5L239 72.6L240.7 80L240.4 75.5L240.9 75.4L241.3 74.7L242.3 78.6L241.8 72.2L242.5 73.5L242.7 72.1L243.8 76.6L243.8 73.2L244.9 77.8L244.7 72.6L245 71.8L245.5 71.7L246.4 75.1L246.4 71.6L247.2 73.7L247.4 71.5L247.8 71.4L248.3 71.5L249.4 76.9L249.2 71.3L249.9 73.5L250.5 74.7L250.6 71.1L251.1 71.1L252 76.3L252.5 76.8L252.5 71.8L252.9 70.9L253.7 74.5L254 72.2L254.3 70.8L254.8 71.3L255.3 70.7L255.7 70.7L256.2 70.7L256.7 70.6L257.3 73.5L257.7 72.7L258.4 76.3L258.5 70.5L259 70.5L259.4 70.5L260.2 75.2L260.6 74.5L260.9 72.2L261.4 72.1L261.8 70.4L262.2 70.5L262.7 70.7L263.2 70.3L263.8 76.5L264.2 73.6L264.7 77L265.1 74.8L265.6 73L266 73.8L266.4 70.2L266.9 70.2L267.4 73.8L267.8 70.7L268.3 70.2L268.8 71.6L269.2 70.2L269.7 71.7L269.7 70.2L266 70.2L262.2 70.3L258.5 70.5L254.8 70.8L251.1 71.1L247.4 71.5L243.7 72L240 72.5L236.3 73.1L232.6 73.8L229 74.5L225.3 75.4L221.7 76.3L218.1 77.2L214.5 78.3L210.9 79.4L207.4 80.5L203.9 81.8L200.4 83.1L196.9 84.4L193.5 85.9L190.1 87.4L186.7 89L183.3 90.6L180 92.3L176.7 94.1L173.5 95.9L170.3 97.8L167.1 99.7L163.9 101.8L160.8 103.8L157.8 106L154.8 108.2L151.8 110.4L148.8 112.7L146 115.1L143.1 117.5L140.3 120L137.6 122.5L134.9 125.1L132.2 127.7L129.6 130.4L127.1 133.1L124.6 135.9L122.2 138.7L119.8 141.6L117.5 144.5L115.2 147.5L113 150.5L110.9 153.6L108.8 156.7L106.7 159.8L104.8 163L102.9 166.2L101 169.4L99.2 172.7L97.5 176L95.9 179.3L94.3 182.7L92.8 186.1L91.3 189.6L89.9 193L88.6 196.5L87.3 200L86.1 203.6L85 207.1L84 210.7L83 214.3L82.1 217.9L81.2 221.6L80.5 225.2L79.8 228.9L79.1 232.5L78.6 236.2L78.1 239.9L77.7 243.6L77.4 247.4L77.1 251.1L76.9 254.8L76.8 258.5L76.7 262.3L76.7 266L76.8 269.7L77 273.5L77.2 277.2L77.5 280.9L77.9 284.6L78.3 288.3L78.9 292L79.5 295.7L80.1 299.4L80.9 303L81.7 306.7L82.5 310.3L83.5 313.9L84.5 317.5L85.6 321.1L86.7 324.6L88 328.1L89.2 331.6L90.6 335.1L92 338.6L93.5 342L95.1 345.4L96.7 348.7L98.4 352.1L100.1 355.4L101.9 358.6L103.8 361.8L105.8 365L107.8 368.2L109.8 371.3L111.9 374.4L114.1 377.4L116.3 380.4L118.6 383.3L121 386.2L123.4 389.1L125.9 391.9L128.4 394.6L130.9 397.3L133.6 400L136.2 402.6L138.9 405.2L141.7 407.7L144.5 410.1L147.4 412.5L150.3 414.8L153.3 417.1L156.3 419.3L159.3 421.5L162.4 423.6L165.5 425.7L168.7 427.6L171.9 429.6L175.1 431.4L178.4 433.2L181.7 435L185 436.6L188.4 438.2L191.8 439.8L195.2 441.2L198.7 442.6L202.1 444L205.6 445.3L209.2 446.5L212.7 447.6L216.3 448.7L219.9 449.7L223.5 450.6L227.1 451.4L230.8 452.2L234.5 453L238.1 453.6L241.8 454.2L245.5 454.7L249.2 455.1L252.9 455.5L256.7 455.8L260.4 456L264.1 456.1L267.8 456.2L271.6 456.2L275.3 456.1L279 456L282.7 455.8L286.5 455.5L290.2 455.1L293.9 454.7L297.6 454.2L301.3 453.6L304.9 453L308.6 452.2L312.3 451.4L315.9 450.6L319.5 449.7L323.1 448.7L326.7 447.6L330.2 446.5L333.8 445.3L337.3 444L340.7 442.6L344.2 441.2L347.6 439.8L351 438.2L354.4 436.6L357.7 435L361 433.2L364.3 431.4L367.5 429.6L370.7 427.6L373.9 425.7L377 423.6L380.1 421.5L383.1 419.3L386.1 417.1L389.1 414.8L392 412.5L394.9 410.1L397.7 407.7L400.5 405.2L403.2 402.6L405.8 400L408.5 397.3L411 394.6L413.5 391.9L416 389.1L418.4 386.2L420.8 383.3L423.1 380.4L425.3 377.4L427.5 374.4L429.6 371.3L431.6 368.2L433.6 365L435.6 361.8L437.5 358.6L439.3 355.4L441 352.1L442.7 348.7L444.3 345.4L445.9 342L447.4 338.6L448.8 335.1L450.2 331.6L451.4 328.1L452.7 324.6L453.8 321.1L454.9 317.5L455.9 313.9L456.9 310.3L457.7 306.7L458.5 303L459.3 299.4L459.9 295.7L460.5 292L461.1 288.3L461.5 284.6L461.9 280.9L462.2 277.2L462.4 273.5L462.6 269.7L462.7 266L462.7 262.3L462.6 258.5L462.5 254.8L462.3 251.1L462 247.4L461.7 243.6L461.3 239.9L460.8 236.2L460.3 232.5L459.6 228.9L458.9 225.2L458.2 221.6L457.3 217.9L456.4 214.3L455.4 210.7L454.4 207.1L453.3 203.6L452.1 200L450.8 196.5L449.5 193L448.1 189.6L446.6 186.1L445.1 182.7L443.5 179.3L441.9 176L440.2 172.7L438.4 169.4L436.5 166.2L434.6 163L432.7 159.8L430.6 156.7L428.5 153.6L426.4 150.5L424.2 147.5L421.9 144.5L419.6 141.6L417.2 138.7L414.8 135.9L412.3 133.1L409.8 130.4L407.2 127.7L404.5 125.1L401.8 122.5L399.1 120L396.3 117.5L393.4 115.1L390.6 112.7L387.6 110.4L384.6 108.2L381.6 106L378.6 103.8L375.5 101.8L372.3 99.7L369.1 97.8L365.9 95.9L362.7 94.1L359.4 92.3L356.1 90.6L352.7 89L349.3 87.4L345.9 85.9L342.5 84.4L339 83.1L335.5 81.8L332 80.5L328.5 79.4L324.9 78.3L321.3 77.2L317.7 76.3L314.1 75.4L310.4 74.5L306.8 73.8L303.1 73.1L299.4 72.5L295.7 72L292 71.5L288.3 71.1L284.6 70.8L280.9 70.5L277.2 70.3L273.4 70.2L269.7 70.2Z" fill="#009000"/>
<path d="M269.7 68.7L270.2 70.2L270.6 70.2L271.1 70.2L271.6 68.5L272 70.2L272.5 70.2L273 70.2L273.5 68.8L273.9 68.6L274.4 70.3L274.8 70.3L275.3 70.3L275.8 70.3L276.2 70.3L276.7 70.3L277.2 70.3L277.6 70.4L278.1 70L278.6 69.2L279 70.4L279.5 70.4L280 70.5L280.4 70.5L280.9 70.5L281.4 70.6L281.8 70.6L282.3 70.6L282.9 67.8L283.2 70.7L283.8 68.8L284.1 70.7L284.8 68.7L285.1 70.8L285.6 70.5L286 70.9L286.5 70.9L286.9 71L287.4 71L288 69.4L288.3 71.1L288.8 71.1L289.3 71.2L289.7 71.2L290.2 71.3L290.7 70.4L291.1 71.4L291.6 71L292 71.5L292.5 71.6L293 71.6L293.4 71.7L293.9 71.7L294.4 71.8L294.8 71.8L295.3 71.9L295.7 72L296.2 72L296.7 72.1L297.2 71.8L297.6 72.2L298 72.3L298.5 72.4L299 72.4L299.4 72.5L299.9 72.6L300.4 72.6L300.8 72.7L301.3 72.8L301.7 72.9L302.4 72L302.7 73L303.1 73.1L303.6 73.2L304 73.3L304.5 73.4L304.9 73.4L305.4 73.5L305.9 73.6L306.3 73.7L306.8 73.8L307.2 73.9L307.7 73.8L308.2 74.1L308.6 74.2L309.1 74.3L309.5 74.4L310.2 73.2L310.4 74.5L310.9 74.6L311.3 74.7L311.8 74.8L312.3 75L312.8 74.5L313.2 75.2L313.6 75.3L314.1 75.4L314.5 75.5L315 75.6L315.4 75.7L316 75.5L316.3 75.9L316.8 76L317.2 76.1L318.4 73.5L318.3 75.7L318.6 76.5L319.1 76.6L319.5 76.7L320.2 76L320.4 77L320.9 77.1L321.3 77.2L322.6 74.3L322.2 77.5L322.6 77.6L323.1 77.7L323.5 77.9L324 78L324.4 78.1L324.9 78.3L325.3 78.4L325.8 78.5L326.2 78.7L326.7 78.8L327.1 78.9L327.6 79.1L328 79.2L328.5 79.4L328.9 79.5L329.3 79.6L329.8 79.8L330.8 78.2L330.7 80.1L331.1 80.2L331.6 80.4L332 80.5L332.4 80.7L332.9 80.8L333.3 81L333.8 81.1L334.2 81.3L334.6 81.5L335.1 81.6L335.5 81.8L336 81.9L336.6 81.5L336.8 82.3L337.3 82.4L337.7 82.6L338.1 82.7L338.7 82.6L339 83.1L339.4 83.2L339.9 83.4L340.3 83.6L340.7 83.8L342.4 80.8L341.6 84.1L342 84.3L343 83.3L342.9 84.6L343.8 83.6L343.8 85L344.2 85.2L344.6 85.3L345.1 85.5L346.5 83.3L345.9 85.9L346.8 85L346.8 86.3L348.2 84.1L347.6 86.6L348.1 86.8L348.5 87L349 87L349.8 86.4L349.8 87.6L350.2 87.8L350.6 88L351 88.2L351.5 88.4L352 88.4L352.3 88.8L352.7 89L353.1 89.2L353.6 89.4L354 89.6L354.4 89.8L354.8 90L355.2 90.2L355.9 89.9L356.8 89.1L356.5 90.8L356.9 91L357.3 91.2L357.7 91.4L358.2 91.7L358.6 91.9L359 92.1L359.4 92.3L359.8 92.5L360.9 91.4L361.1 92.1L361 93.2L361.4 93.4L361.9 93.6L362.3 93.8L362.7 94.1L363.1 94.3L363.5 94.5L363.9 94.8L365.4 93.1L364.7 95.2L365.1 95.4L365.5 95.7L365.9 95.9L366.3 96.1L366.7 96.4L368.4 94.5L367.5 96.8L367.9 97.1L368.3 97.3L368.7 97.6L369.1 97.8L369.5 98L369.9 98.3L371.1 97.3L370.7 98.8L372.8 96.3L371.5 99.3L371.9 99.5L372.3 99.7L372.7 100L373.1 100.2L373.5 100.5L373.9 100.7L374.3 101L374.7 101.3L375.1 101.5L375.5 101.8L375.9 102L376.2 102.3L376.6 102.5L377 102.8L377.4 103.1L377.8 103.3L378.4 103.2L378.6 103.8L379 104.1L379.3 104.4L379.7 104.6L380.1 104.9L380.5 105.2L380.9 105.4L381.2 105.7L381.6 106L382 106.2L382.4 106.5L382.8 106.8L383.1 107.1L383.5 107.3L383.9 107.6L386.1 105.4L384.6 108.2L385 108.4L385.4 108.7L385.8 109L386.1 109.3L386.5 109.6L386.9 109.8L387.3 110.1L387.6 110.4L388 110.7L388.4 111L388.8 111.2L389.3 111.2L389.5 111.8L390.3 111.6L390.2 112.4L390.6 112.7L390.9 113L391.3 113.3L391.6 113.6L392 113.9L392.4 114.2L393.4 113.6L393.8 113.9L393.4 115.1L393.8 115.4L394.2 115.7L394.7 115.7L394.9 116.3L395.2 116.6L395.6 116.9L395.9 117.2L396.3 117.5L397.8 116.5L397 118.1L397.6 118.2L397.7 118.7L398 119L398.4 119.4L398.7 119.7L400.1 118.8L399.4 120.3L399.8 120.6L400.1 120.9L400.5 121.2L400.8 121.6L401.1 121.9L401.5 122.2L402.7 121.6L402.2 122.8L402.5 123.1L402.8 123.5L403.2 123.8L403.5 124.1L403.8 124.4L404.2 124.8L404.5 125.1L404.8 125.4L405.2 125.7L405.5 126.1L406.7 125.5L406.2 126.7L406.5 127.1L407.2 127.1L407.2 127.7L407.5 128.1L407.8 128.4L408.1 128.7L408.5 129.1L408.8 129.4L409.1 129.7L409.4 130.1L409.8 130.4L410.1 130.7L410.4 131.1L410.7 131.4L411 131.8L411.3 132.1L411.7 132.4L413.2 131.7L412.3 133.1L412.6 133.5L412.9 133.8L413.2 134.2L413.5 134.5L413.9 134.9L414.3 135.1L414.5 135.6L414.8 135.9L415.1 136.3L415.4 136.6L415.7 137L416.7 136.7L416.3 137.7L416.6 138L416.9 138.4L417.2 138.7L417.5 139.1L417.8 139.5L418.1 139.8L418.4 140.2L418.7 140.5L419 140.9L419.3 141.3L419.6 141.6L419.9 142L420.2 142.3L422.2 141.4L420.8 143.1L421 143.4L421.3 143.8L421.6 144.2L421.9 144.5L422.2 144.9L422.5 145.3L422.8 145.6L423.1 146L423.3 146.4L423.6 146.8L423.9 147.1L424.2 147.5L424.5 147.9L424.7 148.3L425 148.6L425.3 149L425.6 149.4L425.8 149.8L426.1 150.1L426.4 150.5L426.7 150.9L426.9 151.3L427.2 151.7L427.5 152L427.7 152.4L428 152.8L428.3 153.2L428.5 153.6L428.8 153.9L429.1 154.3L429.3 154.7L429.6 155.1L429.8 155.5L430.1 155.9L431.9 155.3L430.6 156.7L430.9 157L431.1 157.4L431.4 157.8L431.6 158.2L431.9 158.6L432.2 159L432.4 159.4L432.7 159.8L432.9 160.2L433.2 160.6L433.4 161L433.6 161.4L433.9 161.8L434.1 162.2L434.4 162.6L434.9 162.8L434.9 163.4L435.1 163.8L435.3 164.2L435.6 164.6L437.8 163.8L436.1 165.4L436.3 165.8L437.8 165.4L436.8 166.6L437.9 166.4L437.2 167.4L437.5 167.8L437.7 168.2L437.9 168.6L438.1 169L438.5 169.4L438.6 169.8L438.8 170.2L439.1 170.6L439.3 171L439.5 171.5L439.7 171.9L443.2 170.5L440.2 172.7L440.4 173.1L440.6 173.5L440.8 173.9L442.3 173.7L441.2 174.7L441.5 175.2L441.7 175.6L441.9 176L442.1 176.4L442.3 176.8L442.5 177.2L442.7 177.7L444.6 177.3L443.1 178.5L443.3 178.9L443.5 179.3L443.7 179.8L443.9 180.2L444.1 180.6L444.3 181L444.5 181.4L444.7 181.9L445 182.3L445.1 182.7L447.1 182.3L445.5 183.6L445.7 184L445.9 184.4L446.1 184.8L446.3 185.3L446.5 185.7L446.6 186.1L446.8 186.6L447 187L448.7 186.8L447.4 187.8L447.6 188.3L447.7 188.7L448.3 189L448.1 189.6L449.4 189.5L448.5 190.4L448.6 190.9L448.8 191.3L449 191.7L449.1 192.2L449.3 192.6L449.5 193L449.7 193.5L449.8 193.9L450 194.3L450.2 194.8L450.3 195.2L450.5 195.6L450.6 196.1L450.8 196.5L451 196.9L451.1 197.4L451.3 197.8L451.4 198.3L451.6 198.7L451.8 199.1L453.1 199.2L452.1 200L452.2 200.5L452.7 200.8L452.5 201.3L452.7 201.8L452.8 202.2L453 202.7L453.1 203.1L453.3 203.6L453.4 204L453.5 204.4L453.7 204.9L453.9 205.3L454 205.8L454.1 206.2L454.2 206.7L454.4 207.1L454.5 207.6L454.6 208L454.8 208.5L455.6 208.7L455 209.4L455.2 209.8L455.3 210.3L455.4 210.7L455.5 211.1L455.7 211.6L455.8 212L456.3 212.4L456.3 212.9L456.2 213.4L456.9 213.7L459.4 213.5L456.8 214.7L457.7 214.9L456.8 215.7L458.4 215.7L459.3 216L457.7 216.9L457.2 217.5L457.3 217.9L457.4 218.4L457.5 218.8L457.6 219.3L457.7 219.7L457.8 220.2L461.7 219.8L458.1 221.1L458.2 221.6L458.8 221.9L458.4 222.5L458.6 222.9L458.5 223.4L458.6 223.8L459.1 224.2L458.8 224.7L458.9 225.2L459 225.7L462.6 225.4L459.2 226.6L459.3 227L459.9 227.4L459.5 228L459.5 228.4L459.6 228.9L459.7 229.3L459.8 229.8L459.9 230.2L459.9 230.7L460 231.2L460.1 231.6L460.2 232.1L461.5 232.4L460.3 233L462.2 233.2L460.5 233.9L462.8 234.1L461.9 234.7L460.7 235.3L463.7 235.3L460.8 236.2L461 236.7L461.1 237.1L462.8 237.4L461.1 238.1L461.1 238.5L461.2 239L464.6 239.1L462.5 239.8L461.3 240.4L462.7 240.7L464.4 241L464.5 241.5L463.5 242L461.6 242.7L463.3 243L461.7 243.6L461.8 244.1L461.8 244.6L464.4 244.8L461.9 245.5L461.9 246L462.3 246.4L462 246.9L462.9 247.3L462.9 247.8L463.1 248.2L462.4 248.7L462.2 249.2L462.2 249.7L465.6 249.9L463.4 250.5L464.3 251L462.3 251.5L462.4 252L462.4 252.5L462.6 252.9L467.2 253.2L462.5 253.9L462.5 254.3L462.5 254.8L465.8 255.1L462.6 255.7L464.3 256.1L464.3 256.6L464.5 257.1L464.5 257.5L467.6 257.9L469.7 258.4L470.2 258.8L466.9 259.4L462.7 259.9L465.6 260.4L470.2 260.8L467.6 261.3L464.4 261.8L462.7 262.3L462.7 262.7L464.5 263.2L465 263.7L468.1 264.2L466.6 264.6L466.3 265.1L467.4 265.6L465.3 266L466.4 266.5L464.6 267L462.7 267.4L463.5 267.9L464.3 268.4L466 268.9L469.2 269.5L465.6 269.8L464 270.2L467.8 270.9L462.5 271.1L466.1 271.7L464.3 272.1L466 272.7L468.3 273.3L462.4 273.5L468 274.2L462.8 274.4L466.5 275.1L464.4 275.4L467 276.1L466 276.5L462.7 276.7L462.2 277.2L467 278L464.8 278.3L462.5 278.6L466.4 279.4L463 279.6L466.7 280.4L463.2 280.5L463.5 281.1L461.8 281.4L463.6 282L467.5 282.9L462.8 282.9L467.1 283.8L462.5 283.8L461.6 284.1L462.8 284.8L465.6 285.5L461.4 285.5L463.7 286.3L467.1 287.2L464.8 287.4L461.2 287.4L464.6 288.3L463.5 288.6L464.6 289.3L467.8 290.2L464.9 290.3L462.6 290.4L462.9 290.9L463.8 291.5L468 292.6L460.5 292L461.4 292.6L460.6 293L460.3 293.4L464.1 294.5L464.4 295L462 295.1L460 295.2L466.8 296.9L463.1 296.7L464.3 297.4L461 297.3L459.6 297.5L463 298.6L465.2 299.5L461.9 299.4L462.7 300L465.7 301.1L459.6 300.4L463 301.5L459.9 301.4L464.7 302.9L458.7 302.1L464.9 303.9L458.7 303L465.6 305L458.4 303.9L461.9 305.2L464.6 306.3L461.3 306L459.8 306.2L462.9 307.4L461.6 307.6L459.7 307.6L460.6 308.3L464.7 309.8L461 309.4L458.8 309.3L459 309.9L457.2 309.9L461.2 311.4L456.8 310.7L457.4 311.4L458.4 312.1L456.4 312.1L456.6 312.6L458.6 313.6L460.2 314.6L456.1 314L457.4 314.8L462.9 316.8L460.9 316.7L456.9 316.1L457.7 316.8L457.1 317.2L456.1 317.4L457.2 318.2L454.8 317.9L458.7 319.6L458.1 319.9L456.2 319.8L455.1 320L454.8 320.4L454 320.6L457.6 322.2L453.7 321.5L455 322.4L458.5 324L456.2 323.8L453.1 323.3L453.7 324L456.5 325.4L459.8 327L456.9 326.5L456.6 326.9L454.6 326.8L452.1 326.4L452.7 327.1L453.6 327.9L456.4 329.4L456.8 330.1L454.4 329.7L454.8 330.4L451 329.5L454.3 331.2L454.7 331.8L450.5 330.8L452.7 332.1L455.6 333.7L450 332.1L453.1 333.8L455.3 335.1L451.3 334.1L450.7 334.4L452.5 335.6L449.9 335.1L449.4 335.4L453.2 337.4L455.4 338.8L455.2 339.3L450.9 338L447.9 337.3L448 337.8L447.6 338.1L447.4 338.6L449.7 340.1L447.1 339.5L452.9 342.5L447.6 340.7L448.1 341.4L449 342.3L449.6 343.1L450.9 344.2L447.9 343.4L445.5 342.8L448.6 344.8L446.4 344.3L448.9 346L446.6 345.4L449.3 347.2L446 346.1L447.1 347.2L445.7 347.1L447.6 348.5L448.7 349.5L446.5 349L443.3 348L442.9 348.3L445.9 350.3L443.2 349.5L443.1 350L443.7 350.8L447.8 353.4L443.4 351.7L446.1 353.6L441.2 351.7L441.7 352.4L441.9 353L447.2 356.4L441.4 353.9L441 354.2L445.2 356.9L440 354.7L441.8 356.2L442.1 356.9L443 357.9L443.5 358.7L442 358.4L438.4 357L440.1 358.5L439.9 358.9L441.5 360.4L441.2 360.7L440.8 361.1L441.3 361.9L437.3 360.1L439.5 362L436.8 360.9L440.9 363.9L436.2 361.7L438 363.3L436.3 362.8L437.7 364.2L439.1 365.6L434.6 363.4L437.7 365.8L436.8 365.9L438.1 367.2L435.5 366.2L436.6 367.4L434.9 366.9L434.5 367.2L436.4 369L437.7 370.4L433.6 368.3L432.3 368L432.5 368.7L436.1 371.6L432.2 369.6L432.4 370.3L432.3 370.9L431.8 371.1L433.1 372.5L431.7 372.1L429.9 371.5L432.6 373.9L434.3 375.6L431.3 374.2L430.4 374.1L434.3 377.4L431.6 376.1L428.8 374.7L430 376.2L429.3 376.2L431.7 378.5L427.1 375.8L426.4 375.9L428.7 378.2L429.5 379.3L430.1 380.3L425.7 377.7L427 379.2L428.5 381L424.5 378.5L424.9 379.4L424.9 380L429.3 384L425.7 381.8L424 381.1L427.4 384.3L422.8 381.4L422.2 381.5L422 382L425.2 385L424.9 385.4L421.4 383.2L421 383.5L420.5 383.7L420.2 384.1L422.2 386.3L422.5 387.2L425 389.8L419.6 386L418.7 385.9L421.4 388.7L421.1 389.1L418.7 387.7L418.9 388.5L421.9 391.6L420.4 390.9L420.8 391.9L416.3 388.7L419.4 392L416.2 389.8L415.4 389.8L415.1 390.1L414.8 390.5L414.5 390.8L418.5 395.1L416.6 393.9L416.9 394.9L415.8 394.5L412.9 392.6L417.7 397.6L413.3 394.2L416.3 397.6L411.7 394L411.3 394.3L414 397.4L410.7 395L412.3 397.1L410.1 395.7L411.2 397.4L412.4 399.2L411.8 399.2L411 399.1L409.3 398.2L409.9 399.4L407.8 398L409.8 400.6L409.9 401.4L410.1 402.2L409.8 402.7L410.7 404.2L409.5 403.7L405.9 400.7L407 402.5L407.1 403.3L405.8 402.7L404.2 401.7L404.7 402.8L404.1 402.9L406 405.6L405.2 405.4L405.7 406.7L404.2 405.7L405.1 407.4L404 406.9L403.3 406.9L403 407.3L402.8 407.7L402.8 408.4L399.8 405.8L401.8 408.8L402.6 410.3L400.2 408.4L402 411.1L401.6 411.4L399.4 409.6L401.9 413.2L401.9 413.9L398 410.1L396.4 409L400.5 414.4L398.8 413.3L396.1 410.8L399.7 415.8L397.7 414.2L397.9 415.1L395.9 413.5L398.2 417.1L393.4 412L394.7 414.3L393.6 413.7L394.3 415.3L396.4 418.6L393.3 415.5L394.7 418.1L392.3 415.8L393.2 417.8L392 417L391.5 417.1L389.6 415.5L389.2 415.8L391.6 419.6L389.7 417.9L387.6 416L388.2 417.5L389.7 420.2L388.4 419.3L388.3 420L386 417.7L387 419.8L386.1 419.4L384.6 418.2L387.9 423.5L387 423.1L387.7 424.8L387.1 424.8L383.1 420.1L383.6 421.5L382 420.2L386 426.5L384.1 424.7L380.9 421L380.6 421.4L380.4 421.9L380 422.2L380.9 424.2L380.5 424.6L380.1 424.8L378.5 423.4L379.6 425.7L378.5 425L377 423.6L379.7 428.5L378.8 428L376.6 425.5L377.3 427.5L376.8 427.5L374.7 425.1L375.2 426.8L375.9 428.8L373.5 425.9L373.1 426.2L375.7 431.1L374.7 430.4L373.2 429L373.8 430.8L371.1 427.4L371.5 428.9L372.3 431.1L370.7 429.4L372 432.4L371.3 432.3L370 431L368.3 429.1L371.8 435.8L368.4 431L367.1 429.8L367.2 430.8L366.3 430.3L366.7 431.9L366.7 432.8L366.6 433.6L367.1 435.4L364.3 431.4L366.7 436.6L365 434.5L365.1 435.7L364.9 436.5L365.9 439.1L363.6 436L362.6 435.1L362.2 435.3L360.9 434L361.7 436.4L361.8 437.7L360.3 435.8L359.5 435.3L360.9 439L361.2 440.6L360.2 439.7L357.4 435.3L357 435.6L358.7 440L357.2 438L355.9 436.6L355.2 436.2L356.8 440.4L355.9 439.6L354 436.8L353.6 437L353.1 437.2L355.1 442.5L353 439.1L353.4 441L352.7 440.7L352.9 442.2L352.3 442L351.3 441.1L349.8 438.8L349.7 439.9L349.6 440.7L349.6 441.8L349.9 443.8L349 442.8L347.2 440L347 440.8L346.3 440.3L346.7 442.4L346.6 443.3L347.7 447.1L345.3 442.7L346.9 447.8L343.8 441.4L345 445.6L344 444.3L344.8 447.6L343.5 445.8L343.5 447L341.2 442.5L341.5 444.6L342.4 448.1L342.6 450L340.5 445.9L340.4 447L340.5 448.7L338.6 444.9L338.8 446.8L338.1 446.3L338.3 448.1L337.8 448.2L337.3 448.1L337.8 451L335.5 445.9L335.2 446.6L336.6 451.8L334.6 447.6L333.3 445.4L333.6 447.6L332.4 445.7L333.1 449.1L332.4 448.6L333 451.9L332.3 451.1L332.5 453.4L331.3 451.3L330 448.8L329.3 448.3L328.5 447L328.7 449.5L329.1 452.3L327.6 449.1L327.6 450.6L326.2 447.7L325.8 447.9L325.4 448.3L326.5 453.5L325.6 452.2L324.6 450.6L324.8 452.9L323.5 450.1L322.9 449.8L322.4 449.6L322.3 451.1L322.6 454L322.1 454L321.2 452.4L320 449.5L319.5 449.7L319.1 450.1L319.1 451.7L318.4 451L317.9 450.8L317.2 450.3L316.9 451L317.9 456.9L316 450.9L315.9 452.4L315.9 454.6L314.9 452.3L314.5 453L314.3 453.9L314.7 458L313.3 453.8L312.6 452.8L312.4 454.4L312.8 458.2L311.2 453.3L310.6 452.8L310.5 454.2L309.9 453.7L309.8 455.7L309.5 456.5L308.4 453.7L308.4 456L307.7 454.8L306.8 452.6L306.5 453.6L306.3 455.1L306.7 459.6L305.4 455.4L304.6 453.9L304.8 457.6L304.2 456.5L304.4 460.7L302.9 454.7L302.9 457.6L301.9 454.5L301.3 453.6L301.3 456.8L300.4 454L300.2 455.9L299.9 457.1L299.5 457.4L299.2 458.9L298 454.1L297.7 454.7L297.9 459.5L296.8 454.9L296.8 458.9L296.6 460.9L295.3 454.5L295.6 460.5L294.4 454.6L294.2 456.9L293.5 455.2L293.1 456.3L292.5 454.8L292.3 456.8L291.7 456.3L291.3 457.1L290.6 455.1L290.6 458.8L289.7 455.4L289.3 455.2L289.1 458.1L288.5 456.9L288.2 459.4L287.7 458.8L287.1 457.5L286.8 459.1L286.4 460.5L285.8 458.4L285.3 457.9L284.8 457.6L284.2 456.6L284.2 462.9L283.2 455.7L283 458.9L282.6 460.5L282 459.5L281.5 457.5L280.9 456.4L280.6 459.6L280.1 458.3L279.8 462.7L279.1 458.3L278.7 459L278.3 459.8L277.6 456.6L277.2 456.1L276.7 456.2L276.4 460.8L275.8 456.1L275.4 459.7L274.9 459L274.5 460.3L273.9 457.8L273.5 457.5L273 458.6L272.5 459.5L272.1 459.3L271.6 459.9L271.1 456.5L270.7 460.2L270.2 459.3L269.7 459.5L269.2 460.8L268.8 459.5L268.3 462.6L267.8 457.9L267.4 457.6L266.9 459.7L266.4 456.2L265.9 461L265.5 457.5L265 457.7L264.5 460.2L264 459.5L263.6 456.6L263.1 458.7L262.6 458.1L262.2 456.1L261.7 458.2L261 462.9L260.6 460.6L260.3 456.6L259.8 459L259.2 461.4L258.6 463.4L258.4 457.8L258 455.8L257.2 461.7L256.6 463.3L256.5 457.3L255.9 459.8L255.5 459.2L255 459.2L254.4 460.6L254.2 457.2L253.8 456L253.2 457.3L252.6 459.6L252.5 455.6L251.7 458.4L251.4 456.6L250.6 460.3L250.5 456.4L250.1 456.1L249.7 455.2L248.9 457.8L248.6 456.7L247.8 459.2L247.8 455.5L247.3 455.7L246.9 454.9L246 458.5L245.3 460.5L245.1 457.6L244.6 457.9L244 459.1L244 455.7L243.6 454.8L243 456.1L242.7 454.3L242 456L241.1 459.3L240.7 458.3L240.4 457.6L240.3 455L239.9 454.4L239.1 456.2L239 454L237.8 458.4L237.6 456.6L237.7 453.5L236.9 455.1L236.7 453.5L235 460.6L234.6 460L234.5 457.9L234.9 453.3L234.5 453L233.2 457.1L232.6 457.9L232.1 457.8L231.7 457.5L231.9 453.9L231 455.9L231.2 452.3L230.6 453.2L229.4 456.5L229.4 454.2L228.8 455L228.8 452.6L228.4 452.3L227.3 455.2L227.5 452.1L226.8 452.8L226 454.2L225.8 453.3L225.5 452.2L224.5 454.5L223.8 455.2L224.4 450.8L223.3 453.4L222.5 454.7L222.7 452L221.1 456.5L221.5 452.8L220.2 456L220.3 453.7L219 456.8L219.2 454.1L219.8 450.2L218.6 452.6L217.5 454.9L218.5 449.3L217 453.3L217.6 449L216.1 452.8L215 454.9L216.3 448.7L214.8 452.2L215.2 449.2L215 448.3L212.8 453.9L213.3 450.5L212.4 451.8L212.8 448.9L211.9 450.2L210.5 453L211.1 449.8L211.1 448L209.9 450.3L210.1 448.2L208.8 450.6L208.7 449.3L208.6 448.2L208 448.6L208.3 446.2L207.7 446.4L207.2 446.5L206.6 446.6L205.8 447.8L204.2 450.7L205.6 445.4L205.2 445.1L204 447L203.2 447.9L202.9 447.3L203.4 444.5L202.3 446.2L200.8 449L201 446.9L200.1 448.1L200.1 446.7L199.1 448.1L198.6 447.9L200 443.2L199.5 443.1L196.6 449L196.8 447.4L196.8 446L196.4 445.7L195.1 447.8L196.7 442.5L194 448L195.7 442.6L195.2 442.4L193.8 444.6L193.1 445.1L193.3 443.3L193 442.9L190.5 447.4L190.7 445.6L192.1 441.5L191 442.7L190.3 443.2L189.2 444.3L189.1 443.5L188.6 443.4L190.1 439L187.2 444.1L189.2 438.6L188.1 439.8L187.4 440.2L187 440.1L186 441.1L187.1 437.6L186 438.8L185 439.8L184.5 439.8L184.4 438.8L182.6 441.6L183 439.6L182.3 440L183.2 437.1L182.8 436.9L179.6 442.1L181 438.3L181.9 435.4L179 440.2L178.7 439.7L180.7 434.8L179 437L178.2 437.5L176.9 438.9L178.1 435.7L176.8 437L177.3 435.2L177.1 434.5L177.1 433.7L175.4 435.6L174.8 435.8L175 434.4L174.5 434.5L174.4 433.7L173.1 434.9L173.1 434.1L172.2 434.6L171.8 434.3L172.3 432.5L173.1 430.3L170.6 433.5L171.6 430.9L170.9 431.2L170.2 431.4L170.5 430L168.6 432.4L169.6 429.8L168.8 430.1L165.6 434.5L168.1 429.5L168 428.7L168.3 427.4L165.1 431.7L166.1 429L166.1 428.2L164 430.7L166.3 426.2L165 427.3L163 429.6L162 430.2L162.7 428.3L164.3 424.9L163.9 424.6L159.4 430.6L159.2 430.1L162.2 424.8L160.7 426.1L159.6 426.9L160.9 424.1L159.8 424.9L159.7 424.2L159.3 424L157 426.5L159.7 421.8L157.1 424.7L158.9 421.2L157.9 421.8L156.6 422.9L156.4 422.4L155.7 422.5L152.8 425.8L154.6 422.5L155.3 420.7L151.9 424.5L151.7 423.9L155.1 418.6L154.3 418.8L150.5 423.2L153 419L151.9 419.7L153.1 417.4L150.8 419.6L150.5 419.2L149.4 419.9L150.4 417.8L149.5 418.1L148.4 418.8L148.5 417.9L147.5 418.4L149.2 415.5L146.3 418.4L145.1 419.1L145.7 417.7L148.4 413.4L145.6 416.2L147 413.7L146.8 413.2L144.5 415.3L146.1 412.6L145.4 412.8L144.1 413.5L142.7 414.4L143.4 412.9L141.1 414.9L142.3 412.7L141.5 413L142.7 410.8L142.2 410.6L140.3 412.1L142.4 409L142.4 408.3L140.4 409.9L138.7 411.1L140.4 408.5L136 412.6L137.9 409.8L139.5 407.4L140 406.1L136.6 409.2L139.3 405.5L138.9 405.2L138.6 404.8L133.2 410L137.9 404.2L136 405.5L137.1 403.7L134.7 405.6L133.6 406L133.9 405L135.9 402.3L135.1 402.4L132.8 404.1L133.6 402.6L134.1 401.4L133.3 401.6L131.9 402.4L130.5 403.1L130 402.9L130.2 402L129.7 401.9L127.5 403.3L127.5 402.7L131.2 398.4L127.3 401.5L126.6 401.5L128.6 399L130.3 396.7L130 396.3L126.9 398.6L125.5 399.3L126 398.1L125 398.4L125.4 397.4L126.9 395.3L123.8 397.6L124 396.8L124.6 395.5L124.7 394.8L123 395.7L122.7 395.4L121.7 395.6L122.1 394.6L124.2 392.1L122.4 393L119 395.4L123.4 390.9L121.8 391.7L120 392.6L120.8 391.3L117.4 393.6L117.6 392.8L122.5 388L122.2 387.7L121.9 387.3L118.1 389.9L119.3 388.3L120.4 386.7L116.2 389.6L120.4 385.5L116.6 388L118.4 386L115.2 387.9L117.8 385.2L116.8 385.4L118.6 383.4L113.9 386.4L115.9 384.3L117.8 382.2L113 385.4L115.7 382.6L115.6 382.1L113.5 383.2L113.6 382.5L116.1 380L115.8 379.6L114.4 380.1L113.6 380.1L110.5 381.9L112.6 379.6L114.4 377.8L114 377.5L108.9 380.6L107.5 381.1L109.7 378.8L111.1 377.2L109.4 377.9L109.6 377.2L110.7 375.8L111.5 374.7L109.8 375.3L111.4 373.6L105.9 376.8L109.6 373.7L109.2 373.4L105 375.7L110.1 371.7L104.2 375.1L104.3 374.5L109.3 370.5L109 370.1L107.3 370.7L108.5 369.4L108.3 369L103.3 371.6L106.5 369L107.5 367.8L104.6 369.1L104.8 368.4L103.4 368.7L105.7 366.7L102.7 368L102.4 367.7L100.8 368.1L101.2 367.3L103.4 365.4L103.7 364.7L101.6 365.4L99.9 365.8L102.7 363.6L102.5 363.2L103.8 361.8L100.1 363.5L100.1 363L101.8 361.4L102.9 360.2L100.1 361.3L99.8 360.9L97.7 361.6L98.7 360.4L101.4 358.4L100.9 358.1L101.3 357.4L95 360.3L100.2 356.9L96.1 358.6L99.2 356.4L93.5 358.9L97.3 356.4L95.3 356.9L99.5 354.1L97.1 354.9L99 353.3L95.4 354.7L98.6 352.5L94.9 353.8L98.2 351.7L94.4 353L93.1 353.2L97.1 350.6L94 351.7L94.5 350.9L91.4 351.9L93.5 350.3L94.3 349.4L92.2 349.9L94.5 348.2L89.1 350.3L95.2 346.9L92.1 347.8L95.3 345.8L91.8 346.9L90.9 346.8L91.2 346.2L92.6 345L93.2 344.2L90.5 344.9L89.6 344.8L92.2 343.1L92.9 342.3L86.8 344.5L88.2 343.3L88.9 342.5L92.8 340.3L92.6 339.8L91.7 339.7L90.8 339.6L86.9 340.7L91.8 338.1L88.1 339.2L87.1 339.1L91.3 336.8L85.2 338.8L90.9 336L88.7 336.4L85.9 337L88.3 335.5L85.7 336L88 334.6L85.8 335L84.4 335L89.6 332.5L85.7 333.5L89 331.7L86.4 332.2L87.9 331.1L83.2 332.4L83.5 331.8L81.4 332L88.1 329.1L86.6 329.1L82.6 330.1L87.2 327.9L86.5 327.7L87.5 326.8L85.3 327.1L86.8 326.1L85.9 325.9L86.1 325.3L84.1 325.5L83 325.4L85.5 324L86.3 323.3L80.7 324.6L80.7 324.1L83.1 322.8L85.7 321.5L82.5 322L78.7 322.7L84.6 320.4L84.4 320L85 319.3L82.7 319.5L84.8 318.4L80.2 319.2L84.1 317.6L82.1 317.7L78.7 318.2L80.8 317.1L84 315.7L83.9 315.3L80.2 315.8L83.6 314.4L83 314L82.9 313.6L81.3 313.5L81.2 313.1L78.3 313.3L80.1 312.4L80.4 311.8L78.2 311.9L79.2 311.1L80.2 310.4L80.2 309.9L82.2 308.9L79.6 309.1L81 308.3L81.9 307.6L80.8 307.3L81.7 306.7L80.4 306.5L81.5 305.8L80.8 305.4L78.5 305.5L81.1 304.4L81 303.9L76.2 304.5L80.5 303.1L80.8 302.6L80.7 302.1L80.6 301.7L80.1 301.3L79.1 301L80.3 300.3L80.2 299.8L80.1 299.4L80 298.9L79.9 298.4L79.9 298L79.4 297.6L78.5 297.3L79.6 296.6L79.5 296.2L79.5 295.7L79.4 295.2L79.3 294.8L79.2 294.3L79.1 293.9L79.1 293.4L78.6 293L77.3 292.7L78.9 292L78.8 291.5L75.9 291.5L78.7 290.6L78.6 290.2L78.5 289.7L78.5 289.2L78.4 288.8L78.3 288.3L78.3 287.9L78.2 287.4L78.2 286.9L78.1 286.5L78.1 286L78 285.5L77.9 285.1L77.9 284.6L77.8 284.1L77.8 283.7L77.7 283.2L77.7 282.8L77.6 282.3L77.6 281.8L77.6 281.4L77.5 280.9L77.5 280.4L77.4 280L77.1 279.5L77.4 279L77.3 278.6L77.3 278.1L77.2 277.6L74.5 277.4L76.3 276.8L77.1 276.2L77.1 275.8L77.1 275.3L77.1 274.9L77 274.4L77 273.9L77 273.5L76.9 273L75.4 272.6L76.9 272.1L76.9 271.6L76.9 271.1L76.8 270.7L76.8 270.2L76.8 269.7L76.8 269.3L76.8 268.8L76.8 268.3L76.8 267.9L76.7 267.4L76.7 266.9L76.7 266.5L76.7 266L76.7 265.5L76.7 265.1L76.7 264.6L76.7 264.1L75.8 263.7L76.7 263.2L76.7 262.7L76.7 262.3L76.7 261.8L73.9 261.3L76.7 260.9L76.7 260.4L76.7 259.9L76.7 259.5L76.7 259L76.8 258.5L76.8 258.1L76.8 257.6L76.8 257.1L76.3 256.7L72.9 256.1L76.8 255.7L76.9 255.3L76.9 254.8L76.9 254.3L76.9 253.9L76.9 253.4L77 252.9L77 252.5L77 252L77.1 251.5L77.1 251.1L77.1 250.6L77.1 250.2L77.2 249.7L77.2 249.2L77.1 248.7L77.3 248.3L77.3 247.8L77.4 247.4L77.4 246.9L74.8 246.2L77.5 246L77.5 245.5L77.6 245L75.6 244.4L77.6 244.1L77.7 243.6L77.7 243.2L77.8 242.7L77.8 242.3L77.9 241.8L77.9 241.3L78 240.9L75.6 240.1L76.9 239.8L78.2 239.5L77.5 238.9L78.3 238.5L78.3 238.1L78.4 237.6L78.5 237.2L78.5 236.7L78.6 236.2L78.7 235.8L78.7 235.3L78.8 234.9L78.9 234.4L78.9 233.9L79 233.5L79.1 233L79.1 232.5L79.2 232.1L79.3 231.6L79.4 231.2L79.5 230.7L79.5 230.2L79.6 229.8L79.7 229.3L79.8 228.9L79.9 228.4L79.9 228L80 227.5L80.1 227L80.2 226.6L80 226.1L80.4 225.7L79.9 225.1L80.6 224.7L77 223.5L80.8 223.8L80.9 223.4L80.9 222.9L81 222.5L81.1 222L81.2 221.6L81.3 221.1L81.5 220.6L81.6 220.2L81.7 219.7L81.8 219.3L81.6 218.8L82 218.4L82.1 217.9L82.2 217.5L82.3 217L82.4 216.6L82.5 216.1L82.6 215.7L82.8 215.2L82.9 214.8L83 214.3L83.1 213.8L83.2 213.4L83.4 212.9L83.5 212.5L82.9 211.9L83.7 211.6L83.1 210.9L84 210.7L84.1 210.3L84.2 209.8L84.4 209.4L84.5 208.9L84.6 208.5L84.8 208L84.9 207.6L85 207.1L85.2 206.7L85.3 206.2L85.4 205.8L85.6 205.3L85.7 204.9L85.9 204.4L86 204L86.1 203.6L86.3 203.1L86.4 202.7L86.6 202.2L86.7 201.8L86.9 201.3L87 200.9L86.1 200.1L87.3 200L87.5 199.6L87.6 199.1L87.3 198.5L87.6 198.1L86.1 197.1L88.3 197.4L88.4 196.9L88.6 196.5L88.8 196.1L88.7 195.5L89.1 195.2L89.2 194.8L89.4 194.3L89.4 193.8L89.7 193.5L89.9 193L90.1 192.6L90.3 192.2L90.4 191.7L90.6 191.3L90.8 190.9L90.9 190.4L91.1 190L91.3 189.6L91.5 189.1L91.7 188.7L91.8 188.3L92 187.8L92.2 187.4L92.4 187L92.6 186.6L92.8 186.1L92.9 185.7L93.1 185.3L93.3 184.8L93.5 184.4L93.7 184L93.9 183.6L94.1 183.1L94.3 182.7L93.7 181.9L94.7 181.9L94.9 181.4L95.1 181L95.3 180.6L95.5 180.2L95.7 179.8L95.9 179.3L96.1 178.9L96.3 178.5L96.5 178.1L96.7 177.7L96.9 177.2L96.6 176.6L97.3 176.4L97.5 176L97.7 175.6L97.9 175.2L98.2 174.7L98.4 174.3L98.6 173.9L98.8 173.5L99 173.1L99.2 172.7L99.5 172.3L99.7 171.9L98.2 170.5L100.1 171L100.3 170.6L100 169.9L100.8 169.8L101 169.4L101.3 169L101.5 168.6L101.7 168.2L98.7 166L102.2 167.4L102.4 167L102.6 166.6L102.9 166.2L101.4 164.7L103.3 165.4L103.6 165L103.8 164.6L103.4 163.8L103.7 163.4L104.5 163.4L104.8 163L103.4 161.5L105.3 162.2L105.5 161.8L105.8 161.4L102.7 158.9L106.2 160.6L106.5 160.2L106.7 159.8L107 159.4L107.2 159L107.5 158.6L107.8 158.2L108 157.8L108.3 157.4L108.5 157L108.8 156.7L109 156.3L109.3 155.9L109.6 155.5L109.8 155.1L110.1 154.7L110.3 154.3L110.6 153.9L110.9 153.6L111.1 153.2L111.4 152.8L111.7 152.4L111.9 152L112.2 151.7L112.5 151.3L112.7 150.9L113 150.5L113.3 150.1L113.6 149.8L113.8 149.4L114.1 149L113.5 148L114.7 148.3L114.6 147.6L115.2 147.5L115.5 147.1L115.8 146.8L116.1 146.4L113.2 143.6L116.6 145.6L116.9 145.3L117.2 144.9L117.5 144.5L116.6 143.3L118.1 143.8L118.4 143.4L118.6 143.1L117.7 141.7L119.2 142.3L119.5 142L119.8 141.6L120.1 141.3L119.8 140.4L120.7 140.5L119.5 138.9L121.3 139.8L121.6 139.5L121.9 139.1L122.2 138.7L122.5 138.4L122.8 138L123.1 137.7L123.4 137.3L123.7 137L124 136.6L124.3 136.3L123.4 134.8L124.9 135.6L125.2 135.2L125.5 134.9L125.9 134.5L126.2 134.2L126.5 133.8L126.8 133.5L127.1 133.1L126.5 132L127.7 132.4L128.1 132.1L128.4 131.8L128.7 131.4L129 131.1L129.3 130.7L129.6 130.4L130 130.1L130.3 129.7L130.6 129.4L130.9 129.1L131.3 128.7L131.6 128.4L131.9 128.1L131.1 126.6L132.6 127.4L132.9 127.1L132.1 125.6L133.6 126.4L133.9 126.1L134.2 125.7L134.6 125.4L134.9 125.1L135.2 124.8L135.6 124.4L135.9 124.1L136.2 123.8L136.6 123.5L136.6 122.9L137.2 122.8L137.6 122.5L134.5 118.6L137 120.6L138.6 121.6L138.9 121.2L138.7 120.3L139.6 120.6L140 120.3L140.3 120L140.7 119.7L141 119.4L140.7 118.3L141.7 118.7L142.1 118.4L142.4 118.1L142.8 117.8L143.1 117.5L143.5 117.2L143.8 116.9L144.2 116.6L143.1 114.7L144.9 116L145.2 115.6L145.6 115.4L146 115.1L146.3 114.8L146.7 114.5L147 114.2L147.2 113.7L147.7 113.5L146.9 111.8L148.5 113L148.8 112.7L149.2 112.4L149.6 112.1L149.5 111.3L149.6 110.6L150.7 111.3L150.6 110.5L151.4 110.7L151.8 110.4L152.1 110.1L152.5 109.8L152.6 109.2L153.3 109.3L153.6 109L150.6 104.2L154.4 108.4L154.8 108.2L155.1 107.9L155.5 107.6L155.7 107.1L156.3 107.1L156.6 106.8L157 106.5L157.4 106.2L157.8 106L158.2 105.7L158.3 105.2L158.9 105.2L156.9 101.5L159.7 104.6L159.5 103.6L160.4 104.1L160.8 103.8L161.2 103.6L161.6 103.3L162 103.1L162.2 102.5L162.5 102.1L163.2 102.3L163.5 102L162.8 100L164.3 101.5L164.7 101.3L165.1 101L165.5 100.7L165.9 100.5L166.3 100.2L166.6 99.8L167.1 99.7L166.2 97.4L167.9 99.3L168.3 99L168.1 97.8L169.1 98.5L167.3 94.7L169.6 97.6L169.6 96.6L170.7 97.6L171.1 97.3L171.5 97.1L171.5 96.2L172.3 96.6L172.7 96.4L173.1 96.1L173.5 95.9L172.7 93.6L174.3 95.4L174.7 95.2L175 94.7L174.2 92.5L175.9 94.5L174.9 91.7L176.7 94.1L177.1 93.8L177.5 93.6L177.7 93L178.4 93.2L178.8 93L179.2 92.7L179.6 92.5L179.6 91.5L180.4 92.1L179.6 89.5L180.3 89.9L181.7 91.4L182.1 91.2L182.5 91L182.9 90.8L183.3 90.6L183.7 90.4L184.2 90.2L184.6 89.9L185 89.8L185.4 89.6L185.8 89.4L183.8 84L186.7 89L187.1 88.8L187.5 88.6L187.9 88.4L188.4 88.2L188.1 86.5L189.2 87.8L188.2 84.4L188.4 83.8L190.1 86.3L190.8 86.7L191 86.2L191.7 86.4L192.2 86.4L192.6 86.3L193.1 86.1L193.5 85.9L193.8 85.5L194 84.6L194 83.4L195.2 85.2L195.1 83.8L196.1 84.8L196.5 84.6L196.9 84.4L197.4 84.3L197.5 83.3L196.7 80.2L198.2 82.6L199.1 83.6L199.5 83.4L200 83.2L200.4 83.1L200.8 82.9L201.3 82.7L201.7 82.6L202.1 82.4L202.6 82.3L202.5 80.8L203.4 81.9L203.9 81.8L204.3 81.6L204.3 80.3L205.2 81.3L205.6 81.1L206 80.6L206.5 80.8L207 80.7L207.4 80.5L207.8 80.4L208.3 80.2L208.7 80.1L209.1 79.6L209.6 79.8L210.1 79.6L210.5 79.5L210.7 78.7L211.4 79.2L211.8 79.1L212.3 78.9L212.7 78.8L213.2 78.7L213 76.6L214.1 78.4L214.5 78.3L214.5 76.5L214.8 75.9L215 74.9L216.3 77.7L216.8 77.6L215.3 70.9L217.5 76.7L218.1 77.1L218.5 77.1L219 77L219.4 76.9L219.9 76.7L220.3 76.6L220.8 76.5L221.3 76.4L221.7 76.3L222 75.5L222.6 76L222.6 73.9L223.5 75.8L223.7 74.6L224.4 75.6L224.9 75.5L224.3 70.9L225.8 75.3L226.2 75.2L226.7 75.1L227.1 75L227.6 74.8L228.1 74.7L228.3 73.6L229 74.5L229.4 74.4L229.4 72.2L230.3 73.9L230.5 72.7L231.2 74.1L231.7 74L231.8 72.3L232.6 73.8L233.1 73.7L233.5 73.6L234 73.5L234.5 73.4L234.9 73.4L235.4 73.3L235.8 73.2L236.3 73.1L236.7 73L237.2 73L237.7 72.9L237.8 71L238.6 72.7L238.8 71.3L239.5 72.6L240 72.5L240.4 72.4L240.9 72.4L241.4 72.3L241.7 71.2L242.3 72.2L242.4 69.4L243.2 72L243.7 72L244.1 71.9L244.6 71.8L244.9 70.7L245.5 71.4L246 71.7L246.4 71L246.9 71.6L247.3 71.2L247.8 71.1L248.3 71.4L248.8 71.3L249.1 70.1L249.7 71.2L250.1 71.2L250.6 70.8L250.9 68.8L251.5 71.1L252 71L252.5 71L252.8 69.4L253.4 70.9L253.9 70.9L254.3 70.2L254.8 70.8L254.9 66.2L255.7 70.1L256.1 69.1L256.5 68.8L257.1 70.6L257.6 70.6L258 70.6L258.2 65.3L259 70.3L259.4 69.8L259.9 70.4L260.4 70.4L260.8 70.4L261.3 70.4L261.8 69.9L262.2 70.3L262.7 70.3L263 65.4L263.6 70.3L264.1 70.3L264.6 70.3L265 70.3L265.5 70.2L266 70.2L266.4 67.4L266.9 69.1L267.4 70.2L267.8 70.2L268.3 67.6L268.8 70.2L269.2 68.4L269.7 70.2L269.7 70.2L266 70.2L262.2 70.3L258.5 70.5L254.8 70.8L251.1 71.1L247.4 71.5L243.7 72L240 72.5L236.3 73.1L232.6 73.8L229 74.5L225.3 75.4L221.7 76.3L218.1 77.2L214.5 78.3L210.9 79.4L207.4 80.5L203.9 81.8L200.4 83.1L196.9 84.4L193.5 85.9L190.1 87.4L186.7 89L183.3 90.6L180 92.3L176.7 94.1L173.5 95.9L170.3 97.8L167.1 99.7L163.9 101.8L160.8 103.8L157.8 106L154.8 108.2L151.8 110.4L148.8 112.7L146 115.1L143.1 117.5L140.3 120L137.6 122.5L134.9 125.1L132.2 127.7L129.6 130.4L127.1 133.1L124.6 135.9L122.2 138.7L119.8 141.6L117.5 144.5L115.2 147.5L113 150.5L110.9 153.6L108.8 156.7L106.7 159.8L104.8 163L102.9 166.2L101 169.4L99.2 172.7L97.5 176L95.9 179.3L94.3 182.7L92.8 186.1L91.3 189.6L89.9 193L88.6 196.5L87.3 200L86.1 203.6L85 207.1L84 210.7L83 214.3L82.1 217.9L81.2 221.6L80.5 225.2L79.8 228.9L79.1 232.5L78.6 236.2L78.1 239.9L77.7 243.6L77.4 247.4L77.1 251.1L76.9 254.8L76.8 258.5L76.7 262.3L76.7 266L76.8 269.7L77 273.5L77.2 277.2L77.5 280.9L77.9 284.6L78.3 288.3L78.9 292L79.5 295.7L80.1 299.4L80.9 303L81.7 306.7L82.5 310.3L83.5 313.9L84.5 317.5L85.6 321.1L86.7 324.6L88 328.1L89.2 331.6L90.6 335.1L92 338.6L93.5 342L95.1 345.4L96.7 348.7L98.4 352.1L100.1 355.4L101.9 358.6L103.8 361.8L105.8 365L107.8 368.2L109.8 371.3L111.9 374.4L114.1 377.4L116.3 380.4L118.6 383.3L121 386.2L123.4 389.1L125.9 391.9L128.4 394.6L130.9 397.3L133.6 400L136.2 402.6L138.9 405.2L141.7 407.7L144.5 410.1L147.4 412.5L150.3 414.8L153.3 417.1L156.3 419.3L159.3 421.5L162.4 423.6L165.5 425.7L168.7 427.6L171.9 429.6L175.1 431.4L178.4 433.2L181.7 435L185 436.6L188.4 438.2L191.8 439.8L195.2 441.2L198.7 442.6L202.1 444L205.6 445.3L209.2 446.5L212.7 447.6L216.3 448.7L219.9 449.7L223.5 450.6L227.1 451.4L230.8 452.2L234.5 453L238.1 453.6L241.8 454.2L245.5 454.7L249.2 455.1L252.9 455.5L256.7 455.8L260.4 456L264.1 456.1L267.8 456.2L271.6 456.2L275.3 456.1L279 456L282.7 455.8L286.5 455.5L290.2 455.1L293.9 454.7L297.6 454.2L301.3 453.6L304.9 453L308.6 452.2L312.3 451.4L315.9 450.6L319.5 449.7L323.1 448.7L326.7 447.6L330.2 446.5L333.8 445.3L337.3 444L340.7 442.6L344.2 441.2L347.6 439.8L351 438.2L354.4 436.6L357.7 435L361 433.2L364.3 431.4L367.5 429.6L370.7 427.6L373.9 425.7L377 423.6L380.1 421.5L383.1 419.3L386.1 417.1L389.1 414.8L392 412.5L394.9 410.1L397.7 407.7L400.5 405.2L403.2 402.6L405.8 400L408.5 397.3L411 394.6L413.5 391.9L416 389.1L418.4 386.2L420.8 383.3L423.1 380.4L425.3 377.4L427.5 374.4L429.6 371.3L431.6 368.2L433.6 365L435.6 361.8L437.5 358.6L439.3 355.4L441 352.1L442.7 348.7L444.3 345.4L445.9 342L447.4 338.6L448.8 335.1L450.2 331.6L451.4 328.1L452.7 324.6L453.8 321.1L454.9 317.5L455.9 313.9L456.9 310.3L457.7 306.7L458.5 303L459.3 299.4L459.9 295.7L460.5 292L461.1 288.3L461.5 284.6L461.9 280.9L462.2 277.2L462.4 273.5L462.6 269.7L462.7 266L462.7 262.3L462.6 258.5L462.5 254.8L462.3 251.1L462 247.4L461.7 243.6L461.3 239.9L460.8 236.2L460.3 232.5L459.6 228.9L458.9 225.2L458.2 221.6L457.3 217.9L456.4 214.3L455.4 210.7L454.4 207.1L453.3 203.6L452.1 200L450.8 196.5L449.5 193L448.1 189.6L446.6 186.1L445.1 182.7L443.5 179.3L441.9 176L440.2 172.7L438.4 169.4L436.5 166.2L434.6 163L432.7 159.8L430.6 156.7L428.5 153.6L426.4 150.5L424.2 147.5L421.9 144.5L419.6 141.6L417.2 138.7L414.8 135.9L412.3 133.1L409.8 130.4L407.2 127.7L404.5 125.1L401.8 122.5L399.1 120L396.3 117.5L393.4 115.1L390.6 112.7L387.6 110.4L384.6 108.2L381.6 106L378.6 103.8L375.5 101.8L372.3 99.7L369.1 97.8L365.9 95.9L362.7 94.1L359.4 92.3L356.1 90.6L352.7 89L349.3 87.4L345.9 85.9L342.5 84.4L339 83.1L335.5 81.8L332 80.5L328.5 79.4L324.9 78.3L321.3 77.2L317.7 76.3L314.1 75.4L310.4 74.5L306.8 73.8L303.1 73.1L299.4 72.5L295.7 72L292 71.5L288.3 71.1L284.6 70.8L280.9 70.5L277.2 70.3L273.4 70.2L269.7 70.2Z" fill="#8e0096"/>
<path d="M269.7 89.9L270 88.5L270.3 87.9L270.6 88.6L270.9 89.1L271.2 89.8L271.5 88.1L271.8 88L272.2 87.3L272.4 88.2L272.7 89.2L273.1 88L273.4 87.7L273.7 88.9L274 88.3L274.3 88.2L274.6 88.9L274.9 89L275.2 89.5L275.5 88.3L275.8 89L276.1 88.7L276.4 87.6L276.7 89L277 89.3L277.3 90L277.6 89.5L278 88.1L278.3 87.4L278.5 88.6L278.8 88.8L279.2 88.1L279.5 88.1L279.8 88.3L280.1 88.3L280.4 88.9L280.7 88.2L281 88.8L281.1 91.2L281.6 88.8L281.9 88.2L282.3 87.5L282.5 89.2L282.7 90.4L283.1 88.7L283.4 88.8L283.7 89.7L284 89.4L284.3 89.6L284.6 89.9L284.8 90.3L285.2 89.4L285.4 90.7L285.9 89L286.2 88.7L286.4 89.3L286.6 90.9L287.1 89.1L287.3 89.5L287.6 89.6L287.9 89.7L288.3 89.2L288.7 88.7L288.9 89.4L289.1 89.8L289.5 89.6L289.7 90.3L290.1 89.6L290.3 90.5L290.6 90.6L291 89.9L291.3 89.9L291.5 90.6L291.9 89.8L292.2 90.3L292.4 90.7L292.7 90.6L293 91.2L293.2 91.3L293.6 91.1L294 90.6L294.3 90.2L294.6 90.6L294.8 91.2L295.1 91.2L295.4 91.3L295.7 91.4L296 91.4L296.1 92.4L296.8 90.3L297.1 90.1L297.3 91.1L297.6 91.2L298.1 90L298.1 91.5L298.6 90.2L298.8 91.4L298.9 92.1L299.4 91.1L299.6 92.1L299.8 92.2L300.3 91.5L300.5 92.1L300.8 91.8L301.9 87.7L301.8 90.2L302.1 90.2L302.2 91L302.3 92.3L302.6 92.3L302.9 92.3L303.2 92.3L303.4 92.8L303.6 93.3L304.1 92.6L304.4 92.8L305.3 89.7L305.3 91.1L306 89.6L306 91.1L306.8 88.7L306.5 91.5L307.4 88.7L307.2 91.4L307 93.4L307.8 91.3L307.7 93.1L308 93.1L308.5 92.5L309 91.7L309 93L309 94.3L309.4 94L310 92.7L310.2 93L310.4 93.5L310.7 93.8L311.2 92.9L311.4 93.6L311.6 93.9L312.1 93.1L312.5 92.8L312.7 93.2L312.5 95.3L313 94.4L313.4 94L313.7 94.2L314.2 93.6L314.3 94.3L314.5 94.7L315.2 93.5L315 95.3L315.7 93.7L315.7 95L315.9 95.6L316.1 95.7L316.8 94.4L316.6 96.5L317.2 95.4L317.6 95.1L317.9 95L318.1 95.6L318.5 95.2L318.7 95.5L320 92.4L319.4 95.4L320.9 91.5L320.3 94.7L321.3 92.2L320.7 95.2L321.6 93.3L321.3 95.5L322.4 93.1L321.3 97.6L321.5 98.1L322.8 94.7L322.2 97.6L322.8 96.9L323 97.2L323.6 96.4L324.2 95.6L323.6 98.3L323.8 98.6L324.1 98.7L324.4 98.8L324.7 98.8L325.7 96.7L325.6 98L325.4 99.5L326.1 98.5L326.7 97.7L327.1 97.5L327.1 98.3L327.2 99.1L327.7 98.4L328.2 98.1L328.4 98.3L329 97.7L328.5 99.9L329.1 99L329.5 98.8L329.6 99.6L329.5 100.6L330.3 99.4L330.4 100.1L331.1 99.1L331 100.2L331.2 100.5L331.2 101.3L332 100L332.4 99.9L332.8 99.6L332.4 101.4L333.2 100.3L333.4 100.5L333.3 101.8L334.1 100.5L334.3 100.8L334.3 101.8L334.7 101.4L335.1 101.3L335.2 101.9L335.8 101.2L336.1 101.4L335.8 102.7L336.6 101.7L336.2 103.5L336.8 102.8L337.6 101.6L337.6 102.5L337.2 104.2L338 103.2L339 101.5L338.6 103.2L339.8 101.3L339.8 101.9L340.3 101.7L340.4 102.2L340.4 103L340.4 103.7L340.9 103.2L341 103.7L340.9 104.7L341.9 103.2L341.8 104.2L341.9 104.7L342.1 105L342.6 104.7L342.3 106.1L344 103.1L343.9 104.2L344 104.5L344.4 104.5L344.3 105.4L345.4 103.9L344.6 106.2L344.8 106.4L345.1 106.4L345.4 106.6L346.6 104.8L346.7 105.3L346.5 106.4L347.2 105.7L346.3 108.2L347.4 106.6L346.8 108.6L348.3 106.2L348 107.6L348.7 106.8L348.6 107.6L349 107.6L349.6 107.1L349.8 107.3L349.7 108.2L350.4 107.6L349.9 109.2L349.8 109.9L350.8 108.6L351.5 108.1L351.1 109.5L351.9 108.5L352.7 107.7L351.5 110.6L352.3 109.8L352.5 110L352.7 110.3L352.3 111.7L353.7 109.8L353.3 111.2L353.3 111.8L354.1 111L354.5 110.9L354.6 111.2L354.5 112.2L355.8 110.4L355.8 111.1L356.5 110.4L356.9 110.4L357 110.8L356.7 112L357.7 110.8L357.1 112.5L356.9 113.4L357.7 112.6L358 112.7L358.7 112.1L358 113.9L358.6 113.4L358.5 114.2L359.5 113.2L359.6 113.5L359.3 114.7L360.3 113.6L360.4 114.1L360.4 114.5L360.8 114.5L361.6 113.9L360.7 115.9L361.9 114.5L362 114.9L362.2 115.1L362.4 115.4L363.2 114.7L364 114L364.5 113.8L363.3 116.3L363.8 116L363.5 117L364.5 116L364.7 116.3L365.5 115.7L364.7 117.5L365.6 116.7L365.8 116.9L365.2 118.4L366 117.7L366.9 116.9L366 118.8L367.7 116.8L366.2 119.5L368.2 117.2L367.5 118.8L368.1 118.4L368.4 118.5L370.2 116.4L367.2 121.3L368.6 119.8L369.1 119.6L369.1 120.1L369.9 119.6L370.2 119.6L370.1 120.4L370 121L370.7 120.5L370.7 121L371 121.2L372.1 120.1L371.8 121.1L372.2 121L372.1 121.8L372.5 121.7L373 121.6L373.3 121.6L372.7 123L372.7 123.5L372.9 123.7L373.7 123.1L373.6 123.9L374.4 123.2L374.5 123.6L374.7 123.9L375 123.9L374.5 125.1L374.7 125.4L374.7 125.9L376 124.6L375.4 125.9L376.5 125L376.4 125.6L377.5 124.7L377.2 125.7L378 125.1L378.2 125.3L377.9 126.2L379 125.2L378.2 126.8L378.6 126.7L378.4 127.5L379.7 126.4L379.4 127.3L380.6 126.2L378.6 129.2L380.6 127.2L381.2 126.9L380 128.9L380.5 128.7L381.5 128L382.3 127.5L381.4 129.1L382.4 128.4L381.8 129.7L382.6 129.1L383 129.1L382.9 129.7L382.5 130.6L383 130.6L383.3 130.6L382.8 131.7L384 130.7L383.5 131.9L383.4 132.4L383.7 132.5L384.4 132.2L385.2 131.8L385.7 131.6L385 132.9L385.2 133.1L386.1 132.6L385.9 133.2L385.5 134.2L386.6 133.4L387 133.4L387 133.9L386.8 134.5L386.9 134.9L388.1 134L387.3 135.3L387.6 135.4L388.5 134.9L387.9 136L388.6 135.7L389.3 135.4L388.9 136.2L389.2 136.4L390.9 135L390.1 136.4L390.8 136L390.5 136.8L390.5 137.2L389.9 138.3L390.9 137.7L391.1 138L392.7 136.7L390.7 139.2L389.9 140.5L392.1 138.6L393.3 137.9L392 139.6L393 139L392.7 139.8L393.7 139.2L392.6 140.7L392.2 141.6L394 140.2L393.1 141.5L393.3 141.8L394.4 141.1L394.4 141.5L395.2 141.1L394.5 142.2L394.8 142.4L394.3 143.2L395.3 142.7L395.7 142.7L396.5 142.4L397.7 141.7L396.8 143L397.4 142.9L396.4 144.2L398.4 142.8L397.2 144.3L398.8 143.2L397.3 145.1L397.9 144.9L399.4 143.9L398.4 145.2L398.4 145.7L398.1 146.4L398.1 146.8L399.3 146.1L400 145.9L400.1 146.2L399.7 147L399.4 147.7L399.5 147.9L401.1 146.9L399.8 148.5L402.3 146.7L402.6 146.8L401.2 148.5L401.1 148.9L401.9 148.7L401.7 149.3L402.2 149.2L403 148.9L401.8 150.4L403 149.8L403 150.1L401.5 151.8L403.9 150.2L403.7 150.8L403 151.7L403.4 151.8L403.7 152L403.7 152.4L403.6 152.8L403.8 153L405.1 152.4L404.2 153.5L405.1 153.1L405.3 153.4L406 153.2L406.9 152.9L405.3 154.6L406.5 154L405.5 155.2L407.3 154.2L407.4 154.4L406.7 155.4L407.2 155.4L407.5 155.5L407.4 156L408.4 155.6L407.2 156.9L408.8 156.1L407.3 157.6L407.9 157.6L407.5 158.3L409.4 157.2L408.9 157.9L408.6 158.5L409.9 157.9L410 158.2L409.7 158.8L410.5 158.6L410.1 159.3L410.1 159.7L409.7 160.4L410.9 159.9L409.8 161L412.7 159.3L410.2 161.5L410.8 161.4L411.9 161L410.8 162.2L410.9 162.5L411.2 162.6L412.7 161.9L411.6 163.1L411 163.9L413.4 162.6L412.9 163.3L412.1 164.2L411.9 164.7L413.3 164.1L414.5 163.7L413.9 164.4L413.1 165.4L414.8 164.6L415.5 164.5L415.1 165.1L413.4 166.6L414 166.6L414.7 166.5L416 166L415.3 166.8L415.9 166.8L414.5 168.1L415.2 168L415.1 168.4L417.2 167.4L416.9 168L416.4 168.7L417.5 168.3L417.3 168.8L417.2 169.2L417.8 169.2L417.5 169.8L416.9 170.5L418.6 169.8L418 170.5L417.6 171.1L418.5 170.9L417.5 171.9L418.4 171.7L418.6 171.9L418.9 172.2L419 172.4L418.6 173L420.1 172.5L419.2 173.4L420.1 173.2L420.9 173.1L420.1 173.9L418.8 175L419.6 174.9L420 175L420 175.4L420.6 175.4L421.2 175.4L420.9 175.9L420.8 176.3L420.2 177L421.3 176.7L420.1 177.7L421.6 177.2L422.3 177.2L421.8 177.9L422.5 177.8L421.9 178.5L422 178.8L422.2 179L420.1 180.5L423 179.3L421.8 180.3L423.2 179.9L424.4 179.6L423.3 180.5L423.8 180.6L423.9 180.9L423.1 181.6L423.2 181.9L422.7 182.6L424.1 182.2L424.6 182.2L423.8 183L425.6 182.4L424.5 183.3L425.2 183.3L424.5 184L424.1 184.5L425.9 183.9L425.9 184.3L425.5 184.9L426 184.9L426.2 185.2L426.7 185.3L427 185.5L427 185.8L425.4 186.9L425.4 187.2L426.6 187L427.3 187L426.9 187.5L426.7 188L427.2 188.1L427.1 188.5L428 188.4L426.8 189.3L427.1 189.5L428.1 189.3L426.5 190.4L428 190.1L428 190.4L428.7 190.4L427.5 191.3L430.6 190.2L428.6 191.4L429.6 191.4L429.6 191.7L429 192.3L428.9 192.6L429.1 192.9L429.7 192.9L429.3 193.5L430.2 193.4L430.7 193.5L431.7 193.4L431.4 193.9L429.9 194.9L430.9 194.8L430.6 195.3L430.9 195.4L430.6 195.9L429.1 196.8L430.4 196.6L431.1 196.7L431.1 197L430.3 197.6L431.4 197.6L431.8 197.7L431.6 198.1L432.1 198.3L432.1 198.6L431.6 199.1L431.5 199.5L432.5 199.4L432.6 199.7L432.6 200L432 200.6L429.3 201.9L433 200.9L434.3 200.7L432.5 201.7L432.2 202.1L432.7 202.3L433.5 202.3L433.1 202.7L433.6 202.9L432.6 203.6L434.6 203.2L432.6 204.2L432.6 204.6L435.1 204L433.8 204.8L435.2 204.6L434 205.3L433.5 205.8L434.3 205.9L434.2 206.2L434.5 206.5L434.6 206.7L435.1 206.9L433.5 207.7L435.4 207.4L435.1 207.8L435.2 208.1L435.7 208.3L436 208.5L436 208.9L436.4 209L435.9 209.5L434.7 210.2L435.7 210.2L434.2 211L434.9 211.1L435.8 211.2L436.9 211.1L436.3 211.6L437.1 211.7L436.9 212.1L437.6 212.2L436.8 212.8L437.3 212.9L437.5 213.2L436.3 213.8L440.3 213L438.5 213.8L439.9 213.8L437.9 214.6L441.2 214L438 215.2L440.6 214.8L438.6 215.7L441 215.4L438.5 216.4L438.2 216.8L438.5 217L436.9 217.8L437.1 218L436 218.6L437.7 218.5L436.7 219.1L437.3 219.2L438.8 219.1L438.8 219.5L438.3 219.9L439.2 220L437.4 220.8L439.9 220.4L439.3 220.9L439.9 221.1L439.2 221.6L437.6 222.3L439.1 222.2L437.6 222.9L439.9 222.7L440.5 222.8L439.6 223.3L439.1 223.8L439.9 223.9L439.2 224.4L439.6 224.6L439.3 225L440.4 225.1L441.1 225.2L441.8 225.4L439.5 226.2L440.5 226.3L440.3 226.6L440.5 226.9L440.2 227.3L439.9 227.6L439.9 227.9L440 228.2L440.8 228.4L441.7 228.5L441.5 228.9L440.7 229.3L441.2 229.6L439.5 230.2L441.7 230.1L442.2 230.3L441.4 230.8L442.4 230.9L442.2 231.2L441.5 231.7L441.1 232.1L441.5 232.3L442.3 232.4L441.8 232.8L439.9 233.5L442.1 233.4L441 233.9L441.8 234.1L443 234.2L441.9 234.7L440.1 235.3L441.5 235.4L442 235.6L442.6 235.8L442.3 236.2L440.8 236.7L441.1 237L443.2 237L442 237.4L441.9 237.8L441.6 238.1L442.9 238.2L442.8 238.6L442.5 238.9L442.9 239.2L440.5 239.8L442.6 239.8L443.2 240L444 240.3L443.7 240.6L442.5 241.1L443.6 241.2L442.1 241.7L442.8 241.9L443.1 242.2L442 242.6L444.5 242.7L442.9 243.2L439.8 243.8L443.5 243.7L443 244.1L442.5 244.4L444.5 244.5L442.9 245L441.4 245.5L443 245.6L443.6 245.8L443.1 246.2L444 246.4L443.7 246.8L444 247L443.3 247.4L444.8 247.6L444.3 247.9L444.8 248.2L442.1 248.7L442.5 249L444.4 249.1L442.7 249.6L443.9 249.8L443.3 250.1L442.8 250.5L443.5 250.7L446 250.9L443.4 251.4L441.1 251.8L443.6 252L440.1 252.5L442.5 252.6L440.6 253L442.5 253.2L440 253.7L444.4 253.7L445 254L444.1 254.4L445 254.6L443 255L444.1 255.3L444.3 255.6L444 255.9L445.3 256.1L444.3 256.5L443.7 256.8L444.8 257.1L443.3 257.4L444.3 257.7L445.5 258L444 258.3L445 258.6L442.9 259L443.2 259.3L442.1 259.6L443.2 259.9L442.9 260.2L443.6 260.5L444.1 260.8L443.5 261.1L443.7 261.4L443.7 261.7L444.9 262L443.9 262.3L444.3 262.6L444.5 262.9L444.3 263.2L445.4 263.5L445.1 263.8L445.8 264.1L444.3 264.4L443.6 264.7L442.8 265L444.4 265.3L442.5 265.6L444.1 265.9L443.9 266.2L444 266.5L444.5 266.9L444.8 267.2L444.8 267.5L444.3 267.8L444.9 268.1L443.4 268.4L443 268.6L443.3 269L444.7 269.3L444.4 269.6L444.2 269.9L443.8 270.2L443.5 270.5L444.2 270.8L444.2 271.1L442.4 271.3L444.2 271.7L442.7 272L443.2 272.3L445.2 272.7L443.6 272.9L443.5 273.2L441.4 273.4L442.7 273.8L441.6 274L443.3 274.4L440.8 274.6L442.6 275L441.1 275.2L443.7 275.7L441.2 275.8L443.1 276.2L444.7 276.7L443.6 276.9L444.4 277.3L443.9 277.5L444 277.8L444 278.1L443.8 278.4L442.7 278.6L443.3 279L442.4 279.2L443.1 279.6L444 280L444.5 280.3L441.9 280.4L442 280.7L442 281L444 281.5L443.7 281.8L442.9 282L444.3 282.5L442.9 282.6L441.7 282.8L443.2 283.3L443.3 283.6L443.9 284L441.5 284L442.3 284.4L443.5 284.8L441.1 284.8L442.1 285.3L443.3 285.7L443.2 286L442.2 286.2L442.6 286.6L442.1 286.8L441.7 287.1L443.2 287.6L443.3 287.9L441.4 287.9L441 288.2L442.3 288.7L443.3 289.1L440.4 289L442.8 289.7L444.1 290.2L443.6 290.4L441.5 290.4L440.8 290.6L442.3 291.2L442.1 291.4L442.4 291.8L443.5 292.3L442.4 292.4L442.3 292.7L442.4 293L440.7 293L441.2 293.4L441.2 293.7L441.5 294.1L441.5 294.4L441.4 294.7L440.6 294.9L441.5 295.4L441.8 295.7L441.5 296L439.5 295.9L441 296.5L442.8 297.2L440.6 297L440.8 297.4L440.1 297.6L440.9 298L440.4 298.2L440.6 298.6L440.1 298.8L440.6 299.2L441.8 299.8L440.3 299.8L441.4 300.3L441.1 300.6L438.8 300.4L440.5 301.1L439.9 301.3L440.4 301.7L439.4 301.8L439.4 302.1L439 302.3L439.9 302.8L439.1 302.9L439.7 303.4L440.1 303.8L440.3 304.2L438.6 304.1L440.7 304.9L438.9 304.8L439.6 305.2L438.6 305.3L438.7 305.7L439.3 306.1L437.5 306L438 306.4L437.7 306.6L437.9 307L439.8 307.8L437.6 307.6L439.1 308.3L437.8 308.2L437.8 308.6L438 308.9L437.7 309.2L438 309.5L438.1 309.9L438.4 310.3L438 310.5L438.4 310.9L437.6 311L439.2 311.8L436.5 311.3L436.4 311.6L438.7 312.6L437.3 312.5L436.2 312.5L437.7 313.3L438.1 313.7L436.4 313.5L436 313.7L436.3 314.1L437.2 314.7L437.6 315.2L435.8 314.9L436.6 315.5L435.7 315.5L435.3 315.7L433.9 315.6L435.6 316.5L437.6 317.4L434.8 316.9L437.1 317.9L435.5 317.7L436.7 318.4L434.7 318.1L433.8 318.1L435 318.8L435.3 319.2L435.5 319.7L435.3 319.9L434.7 320L434.1 320.1L434.7 320.7L436 321.4L436.9 322.1L435 321.7L436.4 322.6L433.9 322L437.2 323.5L432.8 322.2L433.3 322.7L433.7 323.2L433 323.3L432.5 323.4L432.7 323.8L433.5 324.5L433.2 324.7L433.6 325.1L433.1 325.3L434 325.9L434.1 326.3L431.7 325.7L433 326.5L432.2 326.6L433.1 327.2L431.9 327.1L432.8 327.8L432.2 327.9L431.5 327.9L432.1 328.5L429.8 327.9L431 328.7L430.4 328.8L429.2 328.6L429.7 329.1L430.7 329.9L431.7 330.6L430.4 330.4L430.8 330.9L430 330.9L430.4 331.4L430.6 331.8L429.7 331.8L428 331.4L429.2 332.2L429.1 332.5L429.6 333.1L429.1 333.2L428.3 333.1L429.5 334L430.5 334.8L429 334.4L428.8 334.7L428.1 334.7L428 335L429 335.8L427.1 335.3L427.5 335.8L428.4 336.5L428.6 336.9L428.4 337.2L426.9 336.9L429.4 338.3L426.6 337.4L428.5 338.6L427.1 338.3L428.6 339.3L426.3 338.6L426.2 338.8L426.4 339.3L426.2 339.5L425.4 339.5L426.4 340.3L425 339.9L426.5 341L425.7 341L426.8 341.9L425.2 341.4L424.7 341.5L425.4 342.2L424.4 342L424.3 342.3L424.8 342.9L423.9 342.8L425.4 343.9L423.6 343.3L424.8 344.3L425.1 344.8L424.1 344.6L425.1 345.5L424.1 345.3L423.6 345.4L423.5 345.7L422.2 345.3L422.9 346L423.2 346.6L423.1 346.8L423.3 347.3L422.8 347.4L422.2 347.4L422 347.6L422.4 348.2L421.5 348L422.3 348.8L422.3 349.2L422.8 349.8L421.4 349.4L420.7 349.3L422.1 350.5L421 350.2L420.5 350.3L420 350.3L420.4 350.9L419 350.5L421.1 352L420.8 352.2L419.1 351.6L419.4 352.1L420.5 353.1L419.1 352.6L419.9 353.5L417.9 352.6L418.6 353.4L418.9 353.9L418.7 354.1L417.5 353.8L418 354.5L418.8 355.3L418.6 355.6L417.5 355.2L417.8 355.7L416.3 355.2L417.3 356.2L417.9 356.9L417.1 356.7L418.3 357.9L414.7 355.9L416.9 357.7L416.6 357.9L416.3 358.1L415.2 357.7L415.3 358.1L415.7 358.7L416.8 359.8L415.6 359.4L415.2 359.5L415.5 360.1L414.5 359.8L413.7 359.6L414.8 360.7L415.7 361.7L413.9 360.8L414.6 361.7L414.2 361.8L415.4 363L413.9 362.3L415 363.4L412.7 362.2L413.1 362.9L413.4 363.5L412.4 363.2L413.3 364.2L410.7 362.7L411.9 363.9L411.9 364.3L412.2 364.8L411.5 364.7L410.5 364.4L411.4 365.4L411.1 365.6L410.8 365.7L410.7 366L410.8 366.4L410.2 366.4L411.2 367.6L409.7 366.8L409.9 367.3L409.7 367.5L410.1 368.3L409.4 368.1L408.6 367.8L408 367.8L409.5 369.3L408.7 369.1L407.8 368.8L408.9 370L407.4 369.2L406.9 369.2L407.7 370.2L407 370L407.8 371.1L406.7 370.6L406.9 371.2L408.1 372.5L405.4 370.7L405.4 371.2L406.1 372.1L406.9 373.1L405.7 372.5L405.6 372.9L405.4 373.1L405.2 373.3L405.5 374L405.3 374.2L404.8 374.2L403.9 373.8L405 375.1L404.3 375L404 375.1L404.4 375.8L403.1 375.1L402.2 374.8L401.2 374.3L402.2 375.6L401.6 375.4L402.6 376.7L402.3 376.8L401.9 377L401.6 377.1L402.1 377.9L401 377.3L400.7 377.5L399.2 376.6L399.8 377.5L400.8 378.8L399.6 378.2L401.8 380.5L399.7 379L400.2 379.9L399.2 379.4L398.4 379.1L400.1 381L399.3 380.7L398.2 380.1L398.1 380.4L399.1 381.7L398.1 381.3L397.9 381.5L398.2 382.2L397.8 382.3L398.3 383.1L397.1 382.4L397.2 382.9L396 382.2L396.7 383.3L396.5 383.5L396.2 383.7L396.4 384.3L395.5 383.8L394.8 383.6L397.1 386.2L395.6 385.2L394.6 384.6L395 385.5L396.1 387L395.1 386.5L395.2 386.9L394 386.2L393.8 386.5L393.2 386.3L393.8 387.3L393.9 387.8L392 386.4L393.6 388.4L392.1 387.4L392.9 388.5L393.5 389.7L392.2 388.7L390.8 387.8L392 389.4L390.8 388.6L391 389.3L391.2 389.9L390.8 389.9L391.4 391L388.7 388.6L389.4 389.8L389.8 390.7L389.6 390.9L389.5 391.3L389.5 391.7L388.2 390.7L388.9 391.9L387.9 391.3L388.9 392.9L388.5 392.8L387.1 391.7L387.2 392.4L386.9 392.5L387.2 393.2L385.5 391.9L386.2 393.1L386.1 393.3L386.4 394.2L385.9 394.1L384.9 393.5L385.1 394.1L385.3 394.7L384.4 394.2L384.1 394.3L383.7 394.3L383.7 394.8L384.5 396.2L383.4 395.4L383 395.4L382.9 395.8L383.6 397L383.4 397.2L382 396.1L382.9 397.7L382.2 397.2L381.7 397.2L382.3 398.4L382.1 398.6L382 398.9L380.6 397.7L380.6 398.2L380.1 398.1L380.8 399.4L380.4 399.4L380.1 399.5L378.8 398.5L379.3 399.5L379.3 400L378.6 399.6L378 399.3L378.6 400.6L378.1 400.4L377.5 400.2L378.2 401.5L376.4 399.7L377 401L377 401.5L376.5 401.4L376.6 402L374.5 399.8L375.3 401.3L375.4 401.9L374.7 401.5L373.9 401L374.6 402.4L373.9 402L374.2 402.8L374.5 403.8L374.1 403.8L373.2 403.1L373.6 404.1L372.3 402.8L372.7 404L372.9 404.7L372.6 404.8L372.4 405L371.8 404.7L372.1 405.7L371.5 405.4L371.3 405.6L370.6 405.2L370.4 405.4L370 405.4L369.8 405.6L369.3 405.4L368.6 405L369.7 407L369.6 407.5L368.7 406.6L367.9 406.1L368.1 407L367.1 406L368.7 408.8L367.6 407.7L367.3 408L366 406.5L366.8 408.2L366.1 407.8L366 408.1L366.3 409.2L366.6 410.1L365.6 409.2L365.3 409.2L365.5 410.2L364.6 409.3L365.1 410.7L363.8 409.3L363.9 409.9L363.9 410.5L362.7 409.1L363 410.1L361.9 409L362.1 410L362.1 410.5L362.1 411.1L362 411.5L360.8 410.2L362 412.6L361 411.6L360.8 411.9L360.5 411.9L361.4 414.1L359.9 412.2L360.3 413.4L359.9 413.3L359.4 413.1L358.8 412.6L358.8 413.3L358.7 413.6L358.1 413.2L358.1 413.8L358 414.4L357.6 414.2L357.3 414.3L356.5 413.6L357.1 415.3L356.5 414.8L356.6 415.5L355.4 414.1L356.4 416.5L355 414.6L355.7 416.4L354.8 415.5L354.3 415.1L354.3 415.8L354.2 416.3L354 416.5L354 417.2L352.6 415.3L352.7 416.1L352.9 417L353 418L352.7 418L351.3 416L351.5 417.1L351.1 417L351.1 417.6L351.8 419.6L350.5 417.8L350 417.4L349.8 417.6L350.2 419.2L350.4 420.2L349.4 419L350.1 421L348.8 419.1L349.9 422L348.6 420.2L348 419.5L346.9 418L346.7 418.3L347.1 419.8L347.2 420.6L346.7 420.4L346.1 419.9L345.3 418.9L345.3 419.5L345.6 420.9L345 420.4L345 421L344.7 421.1L343.8 420.1L343.6 420.2L343.7 421.2L343.2 420.9L343.2 421.5L342.7 421.3L342.9 422.3L342.6 422.4L342 421.8L341.6 421.6L341.7 422.6L341.3 422.6L340.7 421.9L339.8 420.8L339.8 421.3L340 422.6L340 423.3L339.7 423.5L339.5 423.8L339.4 424.3L339.4 425L338.3 423.4L338 423.3L338.3 424.8L337.7 424.1L337.4 424.3L337.3 424.9L336.8 424.5L336.3 424.1L335.6 423.2L335.8 424.4L336.1 425.9L334.9 423.8L335.6 426.4L334.6 424.6L334.4 424.9L334.6 426.2L333.8 425.1L333.5 425.2L334.2 427.8L333.1 425.8L332.8 426L332.4 425.6L332.2 425.9L332.3 427L331.1 424.9L331.4 426.4L330.8 425.7L331.2 427.7L330.7 427.2L330.2 426.7L329.9 426.9L329.4 426.4L328.9 425.8L329.7 429L329 428L328.9 428.5L327.7 426L328 427.9L327.6 427.7L326.7 426L327.3 428.7L326.9 428.4L326.4 427.8L326.4 428.8L326.4 429.7L325.5 427.9L325.3 428.3L325.3 429.3L325 429.3L324.8 429.7L324.3 429.2L323.8 428.6L323.4 428.4L323.8 430.5L322.8 428.7L323 430.2L322.2 428.6L321.8 428.5L321.7 429.3L321.8 430.3L321.9 431.7L321.2 430.5L321.3 432L320.4 430.2L320.3 430.8L319.8 430.1L319.2 429.2L319.5 431.4L319 430.6L318.4 429.9L318.5 431.2L317.9 430.2L318 431.6L317.8 431.9L317.1 430.6L317 431.6L316.5 430.9L316.6 432.2L315.9 431L316 432.6L315.3 430.9L315.1 431.3L314.9 431.8L314.5 431.6L314.4 432.3L313.8 431.4L313.7 432.2L313.1 430.9L313.1 432.4L312.3 430.2L313 434.2L312.2 432.5L312.4 434.6L311.9 433.8L311.8 434.6L311.2 433.3L310.8 433.1L310.2 432.1L309.9 431.8L309.9 433.1L309.5 433L309.3 433.4L308.9 433.1L308.8 433.9L308.3 433.3L308 433L307.5 432.3L307.7 434.7L307 433L306.6 432.3L306.6 433.8L306.3 434L306.1 434.4L305.9 435.2L305.3 433.8L305.1 434.2L304.6 433L304.1 432.5L304.1 434L304.2 436L303.7 434.7L303.1 433.5L302.9 433.9L302.5 433.7L302.4 434.6L302 434.3L301.9 435.5L301.4 434.1L301.4 435.8L301 435.2L300.8 436L300.1 433.9L299.9 434.6L299.9 436.3L299.2 434.2L298.9 433.8L298.7 434.9L298.5 435.3L298.4 436.6L298 435.8L297.5 434.8L297.2 434.8L297.1 436.5L296.6 435L296.3 434.8L296 435.3L295.5 433.9L295.5 435.6L295.3 436.2L294.9 435.6L295 438.5L294.2 435.6L294.5 439.5L293.7 436.4L293.3 435.7L293.2 436.8L292.7 435.3L292.3 435.1L292.3 436.9L292 437.3L291.7 437.6L291.3 436.6L291.1 437.9L290.6 435.8L290.3 436L290.2 438L289.8 436.6L289.4 436.1L289.4 439.1L289 438.3L288.5 436.5L288.4 437.8L287.9 436.7L287.6 436.2L287.3 436.5L286.9 435.8L286.8 437.7L286.4 437L286.1 436.3L285.9 437.3L285.6 438.2L285.3 437.9L285.1 439.8L284.9 440.4L284.6 440.9L284.1 437.9L283.7 437.6L283.3 435.8L283.1 437.3L282.8 437.1L282.5 437.7L282.3 438.9L281.9 437.7L281.5 436.7L281.3 438.1L281 437.7L280.7 437.7L280.4 437.7L280 437L279.7 437.4L279.4 437.4L279.2 437.9L278.9 439.3L278.5 437.7L278.2 436.6L277.9 437.2L277.6 436.1L277.3 436.9L277 436.7L276.7 437.2L276.4 438.8L276.1 438L275.8 438.5L275.5 436.9L275.1 435.9L274.8 436.7L274.6 437.7L274.3 438L274 439.1L273.7 438.7L273.3 436.8L273 437.5L272.7 437.9L272.4 436.8L272.1 437L271.8 438.5L271.5 439L271.2 438.6L270.9 437.6L270.6 437.6L270.3 437.4L270 438.2L269.7 436.9L269.4 437.2L269.1 437.3L268.8 437.7L268.5 437.6L268.2 437L267.9 438.6L267.6 438.4L267.3 437.9L267 437.5L266.6 438.3L266.4 436.5L266 437.6L265.7 438.5L265.4 438L265.1 437L264.8 438.2L264.5 438.4L264.2 437.8L264 435.8L263.6 436.6L263.3 438.2L263 436.9L262.7 437.5L262.4 438.3L262.1 436.8L261.8 436.8L261.5 436.2L261.2 438L260.8 438.4L260.5 438.2L260.2 438.5L260 437.2L259.6 438.1L259.4 435.8L259.1 437L258.7 438.3L258.4 437.8L258.2 436.4L257.9 436.5L257.6 436.8L257.2 437.1L256.9 436.9L256.6 437L256.4 435.7L256 436.7L255.8 435.5L255.3 438.3L255 437.9L255 434.7L254.5 437.3L254.1 437.5L254 436.2L253.6 436.8L253.3 436.8L253 437L252.8 435.2L252.3 437.2L252 437.1L251.8 436.5L251.4 437.7L251 438.4L250.8 437.5L250.6 436L250.2 436.7L249.8 437.5L249.7 436L249.3 437L249 436.6L248.8 435.7L248.3 437.1L248 437.4L247.8 436.2L247.5 436.3L247.3 435.8L246.9 436L246.5 437.3L246.4 435.8L246 436.2L245.7 436.3L245.5 435.2L245.2 435.7L244.8 436.1L244.4 436.7L244.2 435.7L243.8 436.4L243.9 433.8L243.4 435.1L243 435.5L242.7 435.7L242.4 435.5L242 436L241.9 435.1L241.6 434.7L241.6 433.2L240.8 435.7L240.5 435.7L240.4 434.4L240 434.9L239.7 435.3L239.6 434.1L239.3 434L238.7 435.3L238.3 435.8L238.2 434.7L237.6 436.5L237.6 434.7L237.4 434.4L237.7 431.1L236.9 433.7L236.9 432.1L236.2 434.1L236.3 432.1L235.7 433.6L236 430.3L235.2 433L235.4 430.5L234.2 434.5L233.9 434.6L233.5 435.1L233.6 433L233.2 433.7L232.4 435.9L232.5 433.6L232.2 433.8L232.1 432.9L231.9 432.3L231.3 433.5L231.2 432.8L230.8 433.2L231 431L230.4 432.3L230.6 430L229.8 432.1L229.3 432.7L229.1 432.5L228.8 432.3L228.3 433.1L227.9 433.5L227.7 433.1L227.1 434L227.6 430.8L226.9 432.2L226.7 432L226.7 430.6L226.7 429.6L225.6 432.5L225.5 431.7L225.3 431.3L224.9 431.5L224.8 430.6L223.9 432.9L223.8 432.2L223.7 431.3L223.4 431.3L223.4 430.2L222.4 432.6L222.7 430.4L222.2 431.2L221.8 431.2L221.4 431.8L221.1 431.5L220.8 431.6L220.8 430.6L220.2 431.4L219.7 431.9L219.4 432L219.6 430.3L220.7 425.5L219.3 429.1L219.5 427.3L218.6 429.1L219.1 426.7L218.1 428.9L218.9 425.4L217.4 429.1L218.4 424.9L216.9 428.7L217.6 425.4L216.4 428.2L215.5 430.1L215.2 429.8L215.9 426.9L214.4 430.4L214.3 429.7L214.5 428.3L214 428.7L213.7 428.7L213.5 428.4L213.4 427.7L212.4 429.5L212 429.8L212 429L211.6 429.1L211.8 427.5L211.1 428.8L211.2 427.5L210.9 427.5L210.7 427L210.8 425.9L210 427.2L209.8 426.9L209.3 427.4L209 427.3L208.9 426.7L209 425.4L208.4 426.2L207.4 428.2L207.9 425.9L207.8 425.2L206.9 426.8L207.2 425.1L206.6 425.8L206.5 425.3L206.7 424L205.2 426.9L205.4 425.6L205.2 425.2L205 425L204.7 424.8L204.3 425L203.7 425.7L203.9 424.3L203.1 425.5L203.4 424.2L203 424.2L202.2 425.3L202.5 423.8L201.9 424.4L202.4 422.4L201.5 424L201.4 423.3L200.5 424.6L200.6 423.7L199.8 424.8L199.9 423.7L200.1 422.4L199.4 423.4L199.2 423L198.7 423.3L198.1 423.9L198.5 422.4L198.4 422L197.4 423.3L198.1 421L197.4 421.9L196.5 423.2L196.9 421.5L196.2 422.3L196.3 421.4L195.5 422.4L196.4 419.6L195.9 420L195.5 420.2L195.1 420.2L194.7 420.5L194.3 420.6L193.8 420.8L194 419.7L192.9 421.3L193.1 420.3L192.4 421L192.6 419.9L192.1 420.2L192.5 418.7L192 419.1L192 418.3L191.1 419.6L191 419L191.1 418.1L190.5 418.6L190.3 418.3L189.9 418.6L190.1 417.4L189 418.9L189.7 416.9L188.6 418.3L188.5 417.9L188.5 417.2L188.4 416.7L187.5 417.7L187.3 417.6L187.3 416.8L186.8 417.2L187.2 415.7L185.8 417.6L186.9 415.1L186.2 415.7L185.9 415.6L185.5 415.7L185.6 414.9L184.5 416.2L184.9 414.9L184.7 414.7L182.4 418.1L182.7 417.1L183.7 414.6L183.4 414.5L183.7 413.4L182.9 414.2L182.9 413.6L182.7 413.3L181.9 414.1L182.1 413.1L181.4 413.7L181.7 412.5L181.1 413L180.3 413.7L179.2 415L180.8 411.8L179.7 413.1L179.6 412.5L179 413L179.3 412L179.1 411.6L177.9 413L177.7 412.7L177.5 412.5L177.4 412L177.8 410.9L177.4 410.8L176.6 411.6L176.7 410.9L176.1 411.2L176.2 410.5L175.4 411.3L175 411.2L175.7 409.7L175.5 409.3L175.5 408.8L175.2 408.8L174.2 409.7L173.7 409.9L173.3 410L174.4 407.8L173.9 407.9L173.3 408.3L172.9 408.3L172.5 408.4L172.6 407.7L172.2 407.8L172.2 407.3L171.3 408L171.8 406.7L170.9 407.4L171.7 405.8L171.4 405.7L170.1 407.1L170.4 406L169.9 406.3L169.3 406.5L168.7 407L170.1 404.4L168.6 406L169.5 404.2L168.5 405.1L168.8 404.2L167.3 405.7L168 404.2L167.4 404.5L167.8 403.4L166.8 404.3L166.5 404.2L166.5 403.7L166.7 402.8L166 403.4L165.1 404L165.4 403.1L165.2 402.9L165.4 402.2L165.1 402L164.6 402.1L164.4 402L164.2 401.7L163.8 401.8L163.3 401.9L163.6 400.9L162.9 401.4L163.1 400.7L162.1 401.4L162.7 400.2L162.1 400.5L162.4 399.5L162 399.6L161.4 399.8L161 399.9L160.8 399.7L161.9 397.8L160 399.7L159.6 399.6L160.9 397.5L159.7 398.6L160.1 397.6L159 398.4L158.7 398.3L159 397.5L158.6 397.5L158.4 397.3L158.5 396.7L157.8 397L158 396.3L158.2 395.6L157.7 395.7L156.7 396.5L156.5 396.2L156.4 395.8L155.6 396.4L155.8 395.7L154.5 396.6L155.8 394.7L156.1 393.9L155.4 394.3L154.8 394.4L154.2 394.6L154.4 394L154.5 393.4L154.4 393.1L153.9 393.2L153 393.8L153.4 392.8L152.7 393.1L153 392.3L152 393L153.2 391.2L152.2 391.8L150.7 393.1L151.9 391.3L151.4 391.4L152.8 389.5L150.8 391.2L153.1 388.2L152.1 388.9L151.9 388.6L149.4 390.8L149.6 390.2L149.4 390L149.7 389.2L148.4 390.2L149.7 388.3L148.9 388.7L148.3 388.9L148.8 388L148.2 388.1L146.9 389L147.8 387.7L147.3 387.8L146.4 388.3L146.9 387.3L148 385.7L146.6 386.7L146.5 386.4L146.2 386.3L145.6 386.4L145.4 386.2L146.3 384.9L144.5 386.2L144.9 385.5L145.4 384.5L145.1 384.3L143.9 385.1L143.3 385.3L144.3 383.8L144.1 383.6L143.6 383.7L143.2 383.7L144.2 382.3L142.4 383.6L142.5 383L141.8 383.3L142.3 382.4L142 382.3L142.4 381.5L141.1 382.3L141.7 381.3L140.7 381.8L140.9 381.2L141.3 380.4L141.5 379.9L139.8 381L139.5 380.8L141.1 379L138.8 380.7L140.1 379.1L139.2 379.5L138.5 379.7L139.6 378.3L139.7 377.8L138.1 378.8L138.6 378L138.6 377.5L138.5 377.3L137.6 377.7L136.6 378.1L138 376.4L137.7 376.3L136.7 376.8L136.7 376.3L135.4 377.1L136.3 376L136.1 375.7L136 375.4L136 375L136 374.6L135 375L136.1 373.8L134.3 374.8L135.9 373.1L134.6 373.8L133.8 374L133.7 373.7L134.7 372.5L134.2 372.5L134.5 371.9L132.8 372.9L132.9 372.4L134.3 370.9L132.5 371.9L132.3 371.7L132.4 371.2L131.8 371.4L131.4 371.2L132.6 369.9L131.4 370.5L130.1 371.1L132.2 369.1L130.7 369.8L132.3 368.3L131.7 368.3L130.1 369.1L130.5 368.4L130.8 367.9L130.1 368L130.3 367.5L128.9 368.1L130.1 366.9L129.4 367L129.2 366.8L129.4 366.2L129 366.2L128.8 366L128.1 366.1L128.6 365.4L129 364.7L128 365L127.6 364.9L126.3 365.5L128.4 363.6L127 364.2L127.3 363.7L127.7 363L127.2 363L126.1 363.4L126.6 362.6L125.3 363.2L125.9 362.4L124.7 362.9L126.5 361.3L124.8 362.1L124.9 361.6L125.9 360.5L125.8 360.3L124.1 361L124.2 360.6L124.1 360.3L124.3 359.8L124.7 359.2L124.2 359.1L124.4 358.6L124 358.6L124 358.1L124.1 357.8L123.7 357.6L124.2 356.9L122.3 357.8L122.9 357.1L123.6 356.3L120.4 357.9L122.1 356.5L122.2 356.1L122.7 355.4L122 355.5L120.2 356.2L124.2 353.4L122.2 354.3L123.4 353.2L121 354.3L120.9 354L119.6 354.4L119.9 353.9L120.9 353L120.3 352.9L118.9 353.4L119.7 352.6L119.9 352.1L120.2 351.6L120.5 351.1L119.3 351.4L119.5 351L119.3 350.7L119 350.6L117.9 350.8L118.8 350L118.4 349.8L119.7 348.7L118 349.4L116.5 349.9L117.3 349.1L115.6 349.7L115.6 349.3L116.8 348.3L115.3 348.8L116.7 347.6L116.8 347.2L116.4 347.1L116 347L116.1 346.6L115.5 346.6L116.7 345.6L116 345.6L115.7 345.4L116.2 344.8L115 345.1L115.9 344.3L113.9 345L114.9 344.1L115 343.7L115.6 343.1L113.6 343.8L115.5 342.4L115 342.4L114.8 342.2L114.9 341.7L114.6 341.6L113.2 341.9L116 340.2L114.4 340.6L112.2 341.4L112.2 341.1L111.5 341L113.3 339.8L111.7 340.3L111.9 339.8L111.6 339.6L113.4 338.4L112.1 338.7L111.1 338.9L110.6 338.7L111.9 337.8L113.8 336.6L112.1 337L111 337.2L111.4 336.7L111.2 336.4L112.4 335.6L110.7 336L109.3 336.3L110.4 335.5L110.2 335.2L110.3 334.9L109 335.1L112.1 333.4L111 333.5L113.1 332.3L110.6 333.1L111.7 332.2L110.7 332.3L107.9 333.2L109 332.4L109.1 332L108.1 332.1L108.5 331.6L108.8 331.2L109.1 330.7L108.6 330.6L108.8 330.2L110.3 329.2L107.5 330.1L107.1 329.9L108.6 329L109 328.5L107.1 328.9L106.5 328.8L106.5 328.5L107.3 327.8L107.3 327.5L108 326.9L107.3 326.8L107.1 326.6L107 326.3L106.4 326.2L107.1 325.6L106.5 325.5L106.4 325.2L106.4 324.9L106.5 324.5L104.8 324.9L105.4 324.3L105.1 324.1L106 323.4L104.3 323.7L105.6 322.9L107.4 321.9L106.2 322.1L104.3 322.4L105.1 321.8L106.2 321.1L104.9 321.2L105.7 320.6L106.2 320.1L104.9 320.3L105.8 319.6L105.2 319.5L104.8 319.4L104.3 319.2L100.8 320L104.4 318.5L105.9 317.7L104.6 317.8L104.9 317.4L102.9 317.7L104.7 316.8L103.9 316.7L102.2 317L104.4 316L103.3 316L103.4 315.6L104.1 315.1L104.2 314.7L102.5 315L102.1 314.8L102.2 314.4L101.1 314.4L102.6 313.6L102.7 313.3L104.2 312.5L104 312.3L103.8 312L102.9 312L106.1 310.7L101 311.9L100.5 311.7L101.9 311L100.2 311.2L102.1 310.3L101.4 310.2L101.9 309.7L101.2 309.6L100.5 309.5L101.2 309L102.4 308.4L100.1 308.6L101.8 307.9L100.9 307.8L100.3 307.6L101.1 307.1L99.4 307.2L101.3 306.4L99 306.7L100.8 305.9L100 305.8L101.5 305.1L99.4 305.3L100.6 304.7L97.8 305.1L96 305.2L99.2 304.1L97.2 304.3L98.4 303.7L99.6 303.1L100.9 302.5L98.9 302.6L98.2 302.5L99.2 301.9L100.6 301.3L100.5 301L100.2 300.8L99.2 300.7L98.4 300.5L100.1 299.9L98.6 299.9L99.7 299.3L98 299.4L98.4 299L98.5 298.7L98.3 298.4L99.3 297.9L98.8 297.7L99.7 297.2L98.9 297L98.5 296.8L98.5 296.5L98 296.3L98.7 295.8L98.4 295.6L98.8 295.2L97.9 295L95.4 295.2L98 294.4L97.5 294.2L98 293.8L97.6 293.5L99 293L99.7 292.6L99 292.4L98.6 292.1L96.3 292.2L96.9 291.8L98.3 291.3L97.3 291.1L96.8 290.9L98 290.4L97.1 290.2L97.2 289.9L98.9 289.3L97.2 289.3L97.1 289L96.3 288.8L95.8 288.6L97 288.1L96.8 287.8L96.5 287.5L95.3 287.4L96.6 286.9L96.9 286.6L97.6 286.2L97.2 285.9L100.1 285.2L98 285.2L96.5 285.1L96.1 284.8L96.3 284.5L96.5 284.2L95.2 284L97 283.5L96 283.3L95.8 283L96.9 282.6L96.5 282.3L95.4 282.1L95.8 281.8L97.1 281.3L96.7 281.1L98.9 280.5L96.5 280.5L99.2 279.9L96.9 279.8L97.2 279.5L95.3 279.4L96.6 279L96.9 278.6L96.8 278.3L95.8 278.1L97 277.7L96.7 277.4L97.3 277.1L95.6 276.9L96.8 276.5L95.8 276.3L96.9 275.9L95.1 275.7L96.8 275.3L95.6 275.1L96.2 274.7L94.1 274.6L94.1 274.2L94.3 273.9L92.9 273.7L94.3 273.3L96.2 272.9L96.6 272.6L95.3 272.3L95.7 272L95.7 271.7L94.8 271.4L95.2 271.1L97.5 270.7L95.3 270.5L97.1 270.1L95.7 269.9L94.9 269.6L96.1 269.3L95.7 269L97.7 268.6L94.9 268.4L95.7 268.1L95.6 267.8L94.1 267.5L96.4 267.1L94.8 266.9L94.1 266.6L92.6 266.3L95 265.9L94.7 265.6L95.4 265.3L96 265L95.8 264.7L94.6 264.4L95.9 264.1L94.7 263.8L94.6 263.5L96.5 263.2L96.7 262.9L96.5 262.6L95.2 262.3L95.6 262L93.8 261.7L93.5 261.4L95 261.1L92.6 260.7L93.7 260.4L94.8 260.1L96.2 259.9L94.7 259.5L94.5 259.2L95.3 258.9L93.5 258.6L96.8 258.4L95.3 258L94 257.7L94.2 257.4L94.3 257.1L95 256.8L95.8 256.5L94.2 256.2L95.3 255.9L95 255.6L96 255.3L94.6 254.9L95.5 254.7L96.2 254.4L95.5 254.1L94.2 253.7L96 253.5L95.7 253.2L93.5 252.7L94.5 252.5L95.2 252.2L96.3 252L95.4 251.6L95.2 251.3L95.8 251L95.4 250.7L96.3 250.5L97 250.2L95.6 249.8L95.1 249.5L95.9 249.2L95.8 248.9L96.3 248.6L96 248.3L94.9 247.9L97.6 247.8L96.8 247.5L97.1 247.2L95.9 246.8L95.5 246.4L97.2 246.3L96 245.9L97.4 245.7L97.3 245.4L96.9 245L95 244.5L97.1 244.4L97.8 244.2L95.9 243.7L97.4 243.6L97.1 243.2L96.3 242.8L97.6 242.7L97.6 242.4L96.2 241.9L95.9 241.5L97 241.4L96 241L95.7 240.6L96.1 240.3L97.5 240.2L97.9 240L96.8 239.5L95.9 239.1L96.2 238.8L96.6 238.6L95.8 238.1L99.2 238.3L94.5 237.3L95.9 237.2L94.6 236.7L96 236.6L93.9 236L96.1 236L95.3 235.6L97.3 235.6L98.8 235.5L96.6 234.9L98 234.8L97.8 234.4L97.4 234.1L96.3 233.6L97 233.4L97.8 233.2L98.2 233L97.8 232.6L97.9 232.3L98.1 232L98.9 231.8L97.5 231.3L98.1 231.1L98.3 230.8L98.8 230.6L98.6 230.2L97.7 229.8L99.4 229.8L94.4 228.5L97.1 228.7L97.5 228.5L98 228.3L98.8 228.1L99.1 227.9L99.9 227.7L99 227.2L99.1 226.9L99.3 226.7L98 226.1L98.4 225.8L99.4 225.8L97 224.9L97.2 224.6L100 225L98.4 224.3L98.6 224L100.9 224.2L100.1 223.7L98.3 223L98.9 222.8L99.8 222.7L100.5 222.6L99.4 222L99.7 221.8L100.4 221.6L99.8 221.2L100.5 221L101.8 221L99.9 220.2L100.5 220.1L100.6 219.8L101.2 219.6L99.7 218.9L100.3 218.8L102.4 219L99.3 217.9L101.5 218.1L100.7 217.6L102.1 217.7L100.8 217L101.1 216.7L100.8 216.4L102 216.4L101.3 215.9L102 215.7L102.4 215.5L101.7 215L101 214.5L103.6 214.9L102.9 214.4L102.5 214L101.1 213.3L103 213.5L102.6 213.1L102.6 212.7L100.5 211.8L102.9 212.2L101.6 211.5L102.9 211.6L102.9 211.2L102.2 210.7L104.2 211L101.6 209.9L103.3 210.1L103.4 209.8L104.3 209.8L105.3 209.8L104.5 209.2L105 209.1L104.2 208.5L104 208.1L102.5 207.3L104.3 207.5L103.5 207L105 207.1L103.9 206.4L104.9 206.5L105.3 206.3L107.1 206.6L104.4 205.3L106.3 205.7L104.3 204.6L105.5 204.7L105.9 204.6L104.4 203.7L106.7 204.2L107.9 204.3L105.5 203.1L108 203.7L105.9 202.6L105.3 202.1L106.9 202.3L107.4 202.2L106.8 201.7L107.2 201.5L105.4 200.5L106.8 200.7L107 200.4L105.9 199.7L107.4 199.9L105.8 199L106.2 198.8L107.9 199.1L109.1 199.3L106.8 198L108.7 198.5L107.1 197.5L110.3 198.5L108 197.2L108.7 197.2L110.5 197.6L110 197.1L109.7 196.6L108.3 195.7L110.2 196.2L108.4 195.1L109.6 195.2L108.5 194.4L108.9 194.3L109.2 194.1L108.7 193.5L109.6 193.6L108.9 193L110.3 193.2L110.7 193.1L109.1 192L110.3 192.2L109.8 191.7L110.2 191.5L110.6 191.4L110.8 191.1L110.8 190.8L111.3 190.7L110.3 189.9L112.1 190.4L111.5 189.8L113.8 190.5L112.4 189.5L111.7 188.9L112.8 189.1L111.7 188.2L111.7 187.8L111.6 187.4L112.5 187.5L112.3 187.1L113.4 187.3L113 186.8L112.5 186.2L112.8 186L112.9 185.7L113.3 185.6L114.2 185.7L113 184.7L114.3 185L113.4 184.2L113.6 184L115.9 184.8L114.9 184L114.6 183.5L115 183.4L113.8 182.4L114.6 182.5L114.7 182.2L115.4 182.2L116.5 182.4L116.6 182.1L116.1 181.5L115.5 180.8L114.8 180.2L116.7 180.8L116.8 180.5L117 180.3L115.2 179L115.6 178.8L116.5 179L117.7 179.3L116.6 178.3L116.8 178.1L116.6 177.6L116.9 177.5L117.3 177.3L118.3 177.5L118.3 177.2L116.9 176.1L117.6 176.1L118.3 176.1L117.9 175.5L119.5 176.1L118.6 175.3L119.4 175.4L119.9 175.3L118.9 174.4L119 174.1L119.5 174L118.9 173.3L119.7 173.5L118.9 172.6L119.4 172.5L120.9 173.1L120.4 172.4L122.1 173.1L120.5 171.8L121.5 172L122.1 172.1L120.7 170.8L121.6 171L122.4 171.2L121.7 170.4L122.5 170.5L121.6 169.6L122.1 169.6L122.6 169.5L121.3 168.3L124 169.7L123.6 169L122.5 168L123.5 168.3L123.9 168.2L123.6 167.6L125.1 168.2L123.9 167.1L124 166.7L125.5 167.4L126.1 167.4L124.6 166.1L125.5 166.3L123.8 164.8L124.6 165L122.8 163.4L124.8 164.4L123.1 162.8L125.5 164.1L122.9 161.9L126.2 163.9L123.8 161.8L126 162.9L123.1 160.6L125.7 162L127.2 162.7L128.2 163L127.9 162.5L127.2 161.5L127.6 161.5L128.6 161.8L127.8 160.9L129.1 161.4L128.8 160.8L128.6 160.3L130 161L129.3 160.1L128.6 159.2L127.5 157.9L127.3 157.4L128.8 158.2L128.4 157.5L128.4 157.1L130.6 158.3L131.3 158.6L131 157.9L130.6 157.2L131.4 157.5L132 157.5L132.7 157.7L131 156L133.1 157.2L132 156L129.8 153.9L132 155.3L131.2 154.2L131.4 154L132 154.1L133.8 155.1L133.6 154.6L134.5 154.8L133.6 153.8L133.5 153.3L132.7 152.3L133.2 152.3L134.6 153L134.9 152.8L136 153.4L136.1 153.1L135.4 152.1L135.9 152.1L135.1 151.1L135.9 151.3L136.5 151.5L136.1 150.7L135.7 149.9L135.8 149.6L136.7 150L138 150.7L136.9 149.4L137.7 149.7L137.1 148.8L137.5 148.7L137 147.8L138 148.3L139.1 148.9L140 149.2L137.3 146.5L138.5 147.2L139 147.1L139.4 147.2L138.9 146.3L139.4 146.3L139.4 145.9L140.2 146.2L138.4 144.2L140.8 146L140.5 145.2L140.9 145.1L140.7 144.6L141.2 144.6L141.5 144.5L142 144.6L141.8 144L142.6 144.2L143.7 144.9L142.7 143.6L143.5 143.8L142.2 142.2L143.2 142.8L144.3 143.4L143.7 142.4L143.6 141.8L143.2 141L145.2 142.5L144.4 141.3L146 142.5L144.7 140.8L145.3 141L145.1 140.3L145.9 140.7L145.9 140.3L145.3 139.3L146.2 139.7L146.7 139.8L147.2 139.8L147.4 139.6L147.6 139.4L147.2 138.5L147.7 138.6L147.4 137.8L148.2 138.2L149.2 138.8L148.1 137.3L148.1 136.9L148.4 136.7L149.2 137.1L149 136.4L148.9 135.9L149.2 135.7L149.5 135.6L149.7 135.4L150.2 135.5L151.5 136.4L151 135.4L151.3 135.3L150.4 134L152.3 135.5L152.2 135L152.2 134.5L151.9 133.8L152.6 134L153.2 134.3L153.1 133.7L154 134.3L154.2 134L154.5 133.9L154.6 133.6L154.5 133L155.2 133.4L154.2 131.7L155.5 132.7L155.5 132.3L155.4 131.7L155.3 131.1L156.2 131.7L155.8 130.8L155.9 130.5L156.2 130.3L156.5 130.2L157.6 131L156.6 129.4L156.6 128.9L158.1 130.2L158.1 129.7L157.1 128.1L158.4 129.2L158.4 128.7L158.6 128.5L158.9 128.3L159.2 128.2L158.9 127.3L159.1 127.1L159.9 127.6L160.2 127.5L160.7 127.6L160 126.3L159.9 125.7L161 126.6L161.3 126.4L162.1 127L162.4 126.9L162 125.8L161.9 125.3L162.8 125.9L162.3 124.7L163.8 126.2L163 124.7L163.6 124.9L163.7 124.5L163.3 123.5L163.9 123.8L163.7 123L165.1 124.3L165 123.8L164.5 122.6L164.5 122.1L164.9 122.2L166 123.1L165.1 121.3L166.1 122.2L165.5 120.8L166.8 122.1L166.5 121.2L167.6 122.1L167.8 121.9L169.1 123.2L168.3 121.6L168 120.6L169.3 121.9L168.6 120.4L169.4 121L170 121.4L169.5 120.1L170 120.3L169.8 119.5L169.5 118.5L170.8 119.8L171.6 120.5L170.8 118.8L171 118.5L171.5 118.8L172.2 119.1L172.4 119L171.4 116.9L175.5 122.4L173.3 118.6L175.6 121.6L174.1 118.8L175.4 120.1L174.8 118.7L174.5 117.7L174.7 117.4L175.2 117.8L175 116.9L175.2 116.6L175.7 116.8L176 116.7L175.6 115.5L175.9 115.4L176.2 115.4L177 116L177.3 115.8L176.8 114.5L177.3 114.8L177.6 114.6L177.2 113.5L178 114.2L178.3 114.1L178.7 114.1L179.3 114.5L179.7 114.6L179.7 114.1L179.6 113.3L180.6 114.3L180.2 113.1L181.1 114L181.4 113.9L181.4 113.2L181 112L181.6 112.4L181.4 111.4L182.6 113L182.7 112.5L183.1 112.6L183.1 112L183.2 111.5L184 112.3L184 111.7L183.5 110.2L184.6 111.6L185.4 112.4L185.1 111.2L184.7 109.8L185.7 110.9L185.2 109.5L185.4 109.2L186.3 110.2L186.7 110.4L187.4 111L187 109.6L187.7 110.3L187.6 109.4L188.1 109.8L188.5 109.8L188.5 109.1L188.7 108.9L189.6 110.1L188.7 107.7L190.1 109.7L190 108.9L188.6 105.5L189.6 106.7L188.4 103.7L189.9 106L189.6 104.6L191.1 106.9L190.1 104.2L191.5 106.4L189.9 102.5L192.3 106.6L190.2 101.7L192.2 105L193.4 106.7L194 107.4L193.2 104.9L193.9 105.8L194.6 106.4L194.8 106.2L194.6 105L195.8 106.8L195 104.5L195.9 105.6L196.1 105.4L196.7 106L196.8 105.4L196.9 105L197.5 105.6L197.5 104.8L197.3 103.6L198.6 105.7L198.4 104.6L198.5 104.1L198.8 104.1L198.6 102.7L198.9 102.6L198.8 101.7L199.9 103.5L200.2 103.4L200.3 102.9L201.1 103.9L201.4 103.8L200.8 101.6L201.6 102.7L201.1 100.9L201.8 101.6L202.4 102.2L202.3 101.2L202.8 101.7L203.4 102.3L203.5 101.8L203.4 100.7L204 101.4L204.2 101.1L204.7 101.4L204.9 101.2L205 100.6L205.3 100.6L205.9 101.2L206.7 102.5L206.4 101L206.6 100.5L207.2 101.2L207.3 100.6L207.5 100.3L208 100.7L207.8 99.4L207.9 98.7L208.9 100.6L208.8 99.5L209.4 100.1L209.4 99.3L209.6 99.1L210 99.2L209.8 97.7L210.3 98.1L210.9 99L211 98.4L211.8 99.7L211.6 98.3L212.1 98.6L212 97.6L212.7 98.7L212.8 97.9L213.1 97.9L213.6 98.4L213.9 98.5L213.7 96.7L214.6 98.6L214.3 96.7L215.3 98.7L214.8 96.3L215.6 97.6L216.1 98.3L216.1 97.2L216.4 97.2L216.7 97.2L216.9 96.7L217.3 97.1L217.3 96.1L218.2 97.7L218.1 96.5L218.3 96.1L218.5 95.9L219.1 96.7L219.1 95.5L219.7 96.6L219.7 95.4L219.9 95.2L220.2 95.1L221 96.8L220.7 94.5L221.7 97.1L221.7 95.7L222.1 96.2L222.2 95.4L222.1 93.8L223.4 97.4L223 94.8L222.9 93.1L224 96.1L224 94.8L224.3 94.9L224.7 95.4L224.7 94.2L225.2 94.8L224.9 92.4L225.5 93.7L226.2 94.8L226.3 94.1L226.7 94.3L227 94.3L227 93.1L227.6 94.5L227.2 91.4L227.9 93L228.4 93.9L228.4 92.4L229.3 94.8L229.2 93.1L229.7 93.8L230.2 94.7L230.2 93.6L230.5 93.2L230.5 92.2L230.3 89.8L231.2 92.5L230.6 88.5L231.9 92.6L231.4 89.1L232.3 91.7L231.8 87.9L233 92.1L232.7 89.1L233.5 91.4L234.1 92.6L234.4 92.8L234.6 92.4L235.1 93L235.1 91.5L235.5 91.9L235.8 92L235.8 90.2L236.1 90.3L236.6 91.5L236.7 90.4L237.4 92.2L237.5 91.1L237.8 91.1L238.2 91.6L238.5 91.4L238.9 91.8L239 90.9L239.2 90.5L239.7 91.4L240 91.4L240.3 91.3L240.7 91.5L241 91.5L241.2 90.9L241.6 91.8L241.8 91L241.9 89.5L242.4 91L242.6 90L243 90.6L243.3 90.8L243.6 90.5L243.9 90.7L244.1 90.1L244.7 91.6L244.8 90.1L245.2 91.2L245.2 88.6L245.7 89.9L246 90.3L246.2 89.4L246.7 90.7L246.8 89.6L247.2 89.7L247.8 91.9L247.8 90L248.1 89.6L248.5 90.9L248.9 91L248.9 89L249.2 88.4L249.7 89.9L250.1 91L250.2 89.5L250.4 88.7L250.8 88.8L251.2 90.2L251.4 89.5L251.7 89L252 89.1L252.4 90.1L252.7 89.7L253 89.7L253.3 89.5L253.6 89.6L253.9 89.3L254.2 89.9L254.6 90.1L254.8 89.7L255.1 89.1L255.5 90.4L255.7 88.8L256.2 91.1L256.4 90.1L256.6 89.5L256.9 88.5L257.2 88.7L257.5 88.3L257.9 89.7L258.2 89.9L258.5 89.8L258.8 89.2L259 88.8L259.2 86.3L259.6 88.4L259.8 85.6L260.2 88.4L260.4 85.7L260.8 88.1L261 86.1L261.5 88.6L261.8 89.4L262.1 89L262.4 88.6L262.7 89.1L263 87.6L263.3 90L263.5 86.9L263.9 89.8L264.1 85.7L264.5 88L264.8 88.7L265.1 87.6L265.4 89.1L265.7 88.8L266.1 89.4L266.3 87.4L266.7 89.4L266.9 87.9L267.3 89.4L267.6 87.9L267.9 88.2L268.2 88.7L268.5 88.9L268.8 88.4L269.1 90.3L269.4 90.4L269.7 88.5" fill="none" stroke="#111" stroke-width="0.55" stroke-linejoin="miter"/>
<path d="M305 92.3L305.6 90.8L306.3 88.8L306.5 89.4L306.8 89.6L307.2 89.3L307.2 90.7L307.4 91.2L307.3 92.8L307.3 93.1L307 93L306.7 93L306.4 92.9L306.1 92.8L305.8 92.8L305.5 92.7L305.2 92.7L304.9 92.6Z" fill="#000" stroke="#000" stroke-width="0.3"/>
<path d="M318.7 95.7L319.7 93.6L320.1 93.4L320.5 93.1L320.7 93.3L321 93.4L321.7 92.3L322 92.3L321.8 94.1L322.1 94.2L321.6 96.6L321.6 96.9L321.3 96.8L321 96.7L320.7 96.6L320.4 96.5L320.1 96.5L319.8 96.4L319.5 96.3L319.2 96.2L318.9 96.1L318.6 96Z" fill="#000" stroke="#000" stroke-width="0.3"/>
<path d="M437.2 214.2L438.5 214.1L439.6 214.1L439.8 214.4L441 214.4L440.9 214.7L439.6 215.4L439.5 215.8L439.9 216L439.1 216.5L438 217.1L437.7 217.2L437.6 216.9L437.6 216.6L437.5 216.3L437.4 216L437.3 215.7L437.2 215.4L437.1 215.2L437.1 214.9L437 214.6L436.9 214.3Z" fill="#000" stroke="#000" stroke-width="0.3"/>
<path d="M443.8 251.4L441.4 251.9L442.3 252.1L442.1 252.4L440.7 252.8L440.2 253.1L440.8 253.4L441.9 253.6L443.9 253.8L444.2 253.8L444.2 253.5L444.2 253.2L444.2 252.9L444.2 252.6L444.2 252.3L444.1 252L444.1 251.7L444.1 251.4Z" fill="#000" stroke="#000" stroke-width="0.3"/>
<path d="M443.9 273.5L442.3 273.7L441 273.9L442 274.3L440.6 274.5L440.4 274.8L441.7 275.2L440.6 275.4L442.1 275.8L441.5 276L443.7 276.5L444 276.5L444 276.2L444 275.9L444.1 275.6L444.1 275.3L444.1 275L444.1 274.7L444.1 274.4L444.2 274.1L444.2 273.8L444.2 273.5Z" fill="#000" stroke="#000" stroke-width="0.3"/>
<path d="M237.1 434.6L237.2 432.7L237.2 431.2L236.7 431.9L236.4 432L236.3 430.7L236.1 430.2L235.4 432.1L235.3 431.2L234.8 432.5L234.1 434L234.1 434.3L234.4 434.4L234.7 434.5L235 434.5L235.3 434.6L235.6 434.6L235.9 434.7L236.1 434.7L236.4 434.8L236.7 434.9L237 434.9Z" fill="#000" stroke="#000" stroke-width="0.3"/>
<path d="M219.1 430.2L219.5 427.8L219.3 427.4L219.5 426L219.3 425.5L218.4 427.3L218.8 425.1L218.4 425.5L217.5 427.1L217.5 426.3L216.9 427.3L216.3 428.1L215.6 429.1L215.5 429.4L215.8 429.5L216.1 429.6L216.4 429.7L216.7 429.8L217 429.9L217.3 430L217.6 430L217.9 430.1L218.1 430.2L218.4 430.3L218.7 430.4L219 430.5Z" fill="#000" stroke="#000" stroke-width="0.3"/>
<path d="M125.4 165.1L123.6 163.5L124.3 163.6L123.3 162.6L122.7 161.8L123.9 162.2L123.4 161.5L124 161.5L124.3 161.4L125.5 161.8L127.1 162.6L127.4 162.7L127.2 163L127 163.2L126.9 163.5L126.7 163.7L126.5 164L126.3 164.2L126.2 164.5L126 164.7L125.8 165L125.6 165.2Z" fill="#000" stroke="#000" stroke-width="0.3"/>
<path d="M190 107.9L189.6 106.4L189.7 105.9L189.6 105.1L189.9 105L189 102.6L190.4 104.5L189.7 102.6L190.2 102.8L191 103.8L191.9 104.9L192.3 105L193.3 106.3L193.4 106.6L193.2 106.7L192.9 106.8L192.6 107L192.3 107.1L192.1 107.3L191.8 107.4L191.5 107.5L191.3 107.7L191 107.8L190.7 107.9L190.4 108.1L190.2 108.2Z" fill="#000" stroke="#000" stroke-width="0.3"/>
<path d="M231.1 93L230.8 90.6L231.2 91L231.5 90.7L231.6 89.7L231.9 89.6L232.3 90L232.4 89L232.8 89.6L233.3 90.4L234.1 92.4L234.1 92.7L233.8 92.7L233.5 92.8L233.2 92.9L232.9 92.9L232.6 93L232.3 93.1L232 93.1L231.7 93.2L231.4 93.3L231.1 93.3Z" fill="#000" stroke="#000" stroke-width="0.3"/>
<path d="M259.2 89L259.4 87.5L259.6 86.5L259.9 86.4L260.2 85.7L260.5 85.2L260.9 86.8L261.2 87L261.6 88.9L261.6 89.2L261.3 89.2L261 89.2L260.7 89.2L260.4 89.2L260.1 89.3L259.8 89.3L259.5 89.3L259.2 89.3Z" fill="#000" stroke="#000" stroke-width="0.3"/>
<path d="M349.4 418.4L350 420.2L350 421L349.8 421.2L349.1 420.5L349.1 421.2L347.8 419.3L347.6 419L347.9 418.9L348.2 418.7L348.5 418.6L348.7 418.4L349 418.3L349.3 418.2Z" fill="#000" stroke="#000" stroke-width="0.3"/>
<path d="M110.2 334L111.7 333L112.8 332.2L112.5 332L112.5 331.6L111 332L109.5 332.3L109.2 332.4L109.3 332.7L109.4 333L109.6 333.3L109.7 333.6L109.8 333.8L109.9 334.1Z" fill="#000" stroke="#000" stroke-width="0.3"/>
<path d="M97.1 237.6L95.7 237.1L95.5 236.7L94.8 236.3L95.3 236.1L95.6 235.8L95.6 235.5L95.2 235.1L97.5 235.2L97.8 235.2L97.7 235.5L97.7 235.8L97.6 236.1L97.6 236.4L97.5 236.7L97.5 237L97.4 237.3L97.4 237.6Z" fill="#000" stroke="#000" stroke-width="0.3"/>
<circle cx="269.7" cy="263.2" r="165.8" fill="none" stroke="#000" stroke-width="1.1"/>
<path d="M269.7 97.9L269.7 99.5M284.6 98.6L284.5 100.2M299.4 100.6L299.1 102.2M314 104L313.5 105.5M328.2 108.6L327.6 110.1M341.9 114.6L341.2 116M355 121.7L354.2 123M367.4 130L366.5 131.2M379.1 139.3L378 140.5M389.8 149.7L388.6 150.8M399.6 161L398.3 162M408.3 173.2L406.9 174M415.8 186L414.4 186.8M422.2 199.5L420.7 200.2M427.3 213.6L425.8 214.1M431.2 228L429.6 228.4M433.7 242.7L432.1 242.9M434.9 257.6L433.3 257.7M434.7 272.6L433.1 272.5M433.2 287.4L431.6 287.2M430.3 302.1L428.8 301.7M426.1 316.4L424.6 315.9M420.7 330.3L419.2 329.7M414 343.7L412.6 342.9M406.2 356.4L404.8 355.5M397.2 368.3L396 367.3M387.2 379.4L386 378.3M376.2 389.5L375.2 388.3M364.4 398.6L363.5 397.3M351.8 406.6L351 405.3M338.5 413.5L337.8 412M324.6 419.1L324.1 417.5M310.3 423.4L309.9 421.8M295.7 426.4L295.4 424.8M280.8 428.1L280.7 426.5M265.9 428.4L266 426.8M251 427.4L251.2 425.8M236.3 425L236.6 423.5M221.8 421.4L222.3 419.8M207.7 416.4L208.3 414.9M194.1 410.2L194.9 408.7M181.2 402.7L182 401.4M168.9 394.2L169.9 392.9M157.5 384.5L158.6 383.4M147 373.9L148.2 372.8M137.5 362.4L138.8 361.4M129.1 350L130.5 349.2M121.8 337L123.3 336.3M115.8 323.3L117.3 322.8M111 309.2L112.5 308.8M107.5 294.7L109 294.4M105.3 279.9L106.9 279.7M104.5 265L106.1 265M105 250.1L106.6 250.2M106.8 235.2L108.4 235.5M110 220.7L111.6 221.1M114.5 206.4L116 207M120.3 192.6L121.7 193.3M127.3 179.4L128.6 180.2M135.4 166.9L136.7 167.8M144.6 155.2L145.9 156.2M154.9 144.3L156 145.5M166.1 134.4L167.1 135.7M178.2 125.6L179 127M191 117.9L191.7 119.3M204.4 111.4L205 112.9M218.4 106.1L218.9 107.6M232.8 102.1L233.1 103.7M247.5 99.5L247.7 101M262.3 98.1L262.4 99.7" stroke="#555" stroke-width="0.6" fill="none"/>
<path d="M269.7 23.6L269.7 22.3M291.3 24.6L291.5 23.3M312.8 27.5L313 26.2M333.9 32.4L334.2 31.1M354.5 39.1L354.9 37.9M374.4 47.7L374.9 46.5M393.4 58L394.1 56.9M411.4 70L412.2 69M428.3 83.6L429.1 82.6M443.9 98.6L444.8 97.8M458 115L459 114.2M470.6 132.6L471.7 131.9M481.6 151.3L482.7 150.7M490.8 170.9L492 170.4M498.2 191.2L499.5 190.9M503.8 212.2L505.1 211.9M507.5 233.5L508.7 233.4M509.2 255.1L510.5 255.1M508.9 276.8L510.2 276.8M506.7 298.3L508 298.5M502.6 319.6L503.8 319.9M496.5 340.4L497.8 340.8M488.6 360.5L489.8 361.1M479 379.9L480.1 380.5M467.6 398.3L468.6 399.1M454.6 415.6L455.6 416.5M440 431.7L441 432.6M424.1 446.4L425 447.4M407 459.6L407.7 460.7M388.7 471.2L389.3 472.3M369.4 481.1L369.9 482.3M349.3 489.2L349.8 490.4M328.6 495.4L328.9 496.7M307.4 499.8L307.6 501.1M285.9 502.3L286 503.6M264.2 502.7L264.2 504M242.6 501.3L242.5 502.6M221.2 497.8L221 499.1M200.2 492.5L199.9 493.8M179.8 485.3L179.3 486.5M160.1 476.3L159.5 477.4M141.3 465.5L140.6 466.6M123.6 453.1L122.8 454.1M107 439.1L106.2 440.1M91.8 423.7L90.9 424.6M78.1 407L77 407.8M65.9 389.1L64.7 389.8M55.3 370.2L54.2 370.8M46.5 350.4L45.3 350.9M39.6 329.9L38.3 330.3M34.5 308.8L33.2 309.1M31.3 287.4L30 287.6M30.1 265.8L28.8 265.8M30.9 244.2L29.6 244.1M33.6 222.7L32.3 222.5M38.2 201.5L36.9 201.2M44.7 180.9L43.5 180.4M53 160.9L51.9 160.3M63.2 141.7L62 141.1M75 123.6L73.9 122.8M88.4 106.6L87.4 105.7M103.3 90.8L102.4 89.9M119.5 76.5L118.7 75.5M137 63.7L136.3 62.6M155.5 52.6L154.9 51.4M175 43.1L174.5 41.9M195.3 35.5L194.9 34.2M216.1 29.7L215.8 28.4M237.4 25.8L237.3 24.5M259 23.8L259 22.5" stroke="#666" stroke-width="0.7" fill="none"/>
<text x="319.9" y="128.4" font-size="9.1" fill="#111" stroke="#111" stroke-width="0.12" textLength="33" lengthAdjust="spacingAndGlyphs">200 kbp</text>
<text x="369.9" y="171.6" font-size="9.1" fill="#111" stroke="#111" stroke-width="0.12" textLength="33" lengthAdjust="spacingAndGlyphs">400 kbp</text>
<text x="393" y="232.7" font-size="9.1" fill="#111" stroke="#111" stroke-width="0.12" textLength="33" lengthAdjust="spacingAndGlyphs">600 kbp</text>
<text x="392.6" y="300.9" font-size="9.1" fill="#111" stroke="#111" stroke-width="0.12" textLength="33" lengthAdjust="spacingAndGlyphs">800 kbp</text>
<text x="365.3" y="361.6" font-size="9.1" fill="#111" stroke="#111" stroke-width="0.12" textLength="37.6" lengthAdjust="spacingAndGlyphs">1000 kbp</text>
<text x="315.1" y="402.7" font-size="9.1" fill="#111" stroke="#111" stroke-width="0.12" textLength="37.6" lengthAdjust="spacingAndGlyphs">1200 kbp</text>
<text x="248.3" y="416.6" font-size="9.1" fill="#111" stroke="#111" stroke-width="0.12" textLength="37.6" lengthAdjust="spacingAndGlyphs">1400 kbp</text>
<text x="182.3" y="400.1" font-size="9.1" fill="#111" stroke="#111" stroke-width="0.12" textLength="37.6" lengthAdjust="spacingAndGlyphs">1600 kbp</text>
<text x="134.4" y="355.8" font-size="9.1" fill="#111" stroke="#111" stroke-width="0.12" textLength="37.6" lengthAdjust="spacingAndGlyphs">1800 kbp</text>
<text x="113.2" y="293.7" font-size="9.1" fill="#111" stroke="#111" stroke-width="0.12" textLength="37.6" lengthAdjust="spacingAndGlyphs">2000 kbp</text>
<text x="114.3" y="225.8" font-size="9.1" fill="#111" stroke="#111" stroke-width="0.12" textLength="37.6" lengthAdjust="spacingAndGlyphs">2200 kbp</text>
<text x="139.3" y="166.2" font-size="9.1" fill="#111" stroke="#111" stroke-width="0.12" textLength="37.6" lengthAdjust="spacingAndGlyphs">2400 kbp</text>
<text x="190.7" y="126.1" font-size="9.1" fill="#111" stroke="#111" stroke-width="0.12" textLength="37.6" lengthAdjust="spacingAndGlyphs">2600 kbp</text>
<circle cx="258.4" cy="796.5" r="223.4" fill="none" stroke="#4ee2b0" stroke-width="4"/>
<circle cx="258.4" cy="796.5" r="221.8" fill="none" stroke="#000" stroke-opacity="0.42" stroke-width="0.9"/>
<circle cx="258.4" cy="796.5" r="218.7" fill="none" stroke="#e0e04c" stroke-width="4"/>
<circle cx="258.4" cy="796.5" r="217.1" fill="none" stroke="#000" stroke-opacity="0.42" stroke-width="0.9"/>
<circle cx="258.4" cy="796.5" r="214" fill="none" stroke="#7caede" stroke-width="4"/>
<circle cx="258.4" cy="796.5" r="212.4" fill="none" stroke="#000" stroke-opacity="0.42" stroke-width="0.9"/>
<circle cx="258.4" cy="796.5" r="209.3" fill="none" stroke="#4a4adf" stroke-width="4"/>
<circle cx="258.4" cy="796.5" r="207.7" fill="none" stroke="#000" stroke-opacity="0.42" stroke-width="0.9"/>
<circle cx="258.4" cy="796.5" r="204.6" fill="none" stroke="#b0e0e0" stroke-width="4"/>
<circle cx="258.4" cy="796.5" r="203" fill="none" stroke="#000" stroke-opacity="0.42" stroke-width="0.9"/>
<circle cx="258.4" cy="796.5" r="199.8" fill="none" stroke="#e2ace2" stroke-width="4"/>
<circle cx="258.4" cy="796.5" r="198.3" fill="none" stroke="#000" stroke-opacity="0.42" stroke-width="0.9"/>
<circle cx="258.4" cy="796.5" r="195.1" fill="none" stroke="#b01ae0" stroke-width="4"/>
<circle cx="258.4" cy="796.5" r="193.6" fill="none" stroke="#000" stroke-opacity="0.42" stroke-width="0.9"/>
<circle cx="258.4" cy="796.5" r="190.4" fill="none" stroke="#e21a1a" stroke-width="4"/>
<circle cx="258.4" cy="796.5" r="188.9" fill="none" stroke="#000" stroke-opacity="0.42" stroke-width="0.9"/>
<circle cx="258.4" cy="796.5" r="185.7" fill="none" stroke="#e24a7c" stroke-width="4"/>
<circle cx="258.4" cy="796.5" r="184.2" fill="none" stroke="#000" stroke-opacity="0.42" stroke-width="0.9"/>
<circle cx="258.4" cy="796.5" r="181" fill="none" stroke="#b0e2ae" stroke-width="4"/>
<circle cx="258.4" cy="796.5" r="179.5" fill="none" stroke="#000" stroke-opacity="0.42" stroke-width="0.9"/>
<circle cx="258.4" cy="796.5" r="176.3" fill="none" stroke="#4ee2b0" stroke-width="4"/>
<circle cx="258.4" cy="796.5" r="174.8" fill="none" stroke="#000" stroke-opacity="0.42" stroke-width="0.9"/>
<circle cx="258.4" cy="796.5" r="171.6" fill="none" stroke="#e0e04c" stroke-width="4"/>
<circle cx="258.4" cy="796.5" r="170" fill="none" stroke="#000" stroke-opacity="0.42" stroke-width="0.9"/>
<circle cx="258.4" cy="796.5" r="166.9" fill="none" stroke="#7caede" stroke-width="4"/>
<circle cx="258.4" cy="796.5" r="165.3" fill="none" stroke="#000" stroke-opacity="0.42" stroke-width="0.9"/>
<circle cx="258.4" cy="796.5" r="162.2" fill="none" stroke="#4a4adf" stroke-width="4"/>
<circle cx="258.4" cy="796.5" r="160.6" fill="none" stroke="#000" stroke-opacity="0.42" stroke-width="0.9"/>
<circle cx="258.4" cy="796.5" r="157.5" fill="none" stroke="#a8e2e2" stroke-width="4"/>
<circle cx="258.4" cy="796.5" r="155.9" fill="none" stroke="#000" stroke-opacity="0.42" stroke-width="0.9"/>
<circle cx="258.4" cy="796.5" r="152.8" fill="none" stroke="#e0aee0" stroke-width="4"/>
<circle cx="258.4" cy="796.5" r="151.2" fill="none" stroke="#000" stroke-opacity="0.42" stroke-width="0.9"/>
<path d="M256.4 571L257.4 571L257.4 575.2L256.4 575.2ZM256.4 575.7L257.4 575.7L257.4 579.9L256.5 579.9ZM256.5 580.4L257.4 580.4L257.4 584.6L256.5 584.6Z" fill="#fff" fill-opacity="0.7"/>
<path d="M256.6 594.5L257.5 594.5L257.5 598.7L256.6 598.7ZM256.6 599.2L257.5 599.2L257.5 603.4L256.7 603.4ZM256.7 603.9L257.5 603.9L257.5 608.1L256.7 608.1ZM256.7 608.6L257.5 608.6L257.6 612.8L256.8 612.8ZM256.8 613.3L257.6 613.3L257.6 617.5L256.8 617.5ZM256.8 618.1L257.6 618.1L257.6 622.3L256.9 622.3ZM256.9 622.8L257.6 622.8L257.6 627L256.9 627ZM256.9 627.5L257.6 627.5L257.7 631.7L256.9 631.7ZM256.9 632.2L257.7 632.2L257.7 636.4L257 636.4Z" fill="#fff" fill-opacity="0.6"/>
<path d="M231.9 572.5L233.9 572.3L234.4 576.5L232.4 576.7ZM232.5 577.2L234.4 577L234.9 581.1L233 581.4ZM233.1 581.9L234.9 581.7L235.4 585.8L233.5 586ZM233.6 586.5L235.4 586.3L235.9 590.5L234.1 590.7ZM234.2 591.2L236 591L236.4 595.2L234.7 595.4ZM234.7 595.9L236.5 595.7L236.9 599.9L235.2 600.1ZM235.3 600.6L237 600.4L237.4 604.6L235.8 604.7ZM235.8 605.3L237.5 605.1L237.9 609.2L236.3 609.4ZM236.4 609.9L238 609.7L238.5 613.9L236.9 614.1ZM236.9 614.6L238.5 614.4L239 618.6L237.4 618.8ZM237.5 619.3L239 619.1L239.5 623.3L238 623.5ZM238 624L239.5 623.8L240 628L238.5 628.1ZM238.6 628.6L240.1 628.5L240.5 632.6L239.1 632.8Z" fill="#fff" fill-opacity="0.4"/>
<path d="M236.9 614.6L241.7 614.1L242.1 618.3L237.4 618.8Z" fill="#fff" fill-opacity="0.85"/>
<path d="M243.6 609.2L244.4 609.2L244.8 613.3L244 613.4ZM244 613.9L244.8 613.8L245.1 618L244.3 618.1ZM244.4 618.6L245.2 618.5L245.5 622.7L244.7 622.8ZM244.7 623.3L245.5 623.2L245.8 627.4L245.1 627.5ZM245.1 628L245.9 627.9L246.2 632.1L245.4 632.2Z" fill="#fff" fill-opacity="0.6"/>
<path d="M241.1 571.6L242 571.5L242.3 575.7L241.4 575.8Z" fill="#fff" fill-opacity="0.6"/>
<path d="M461.1 895.3L455.3 906.5L451.6 904.4L457.4 893.5ZM456.9 893.2L451.2 904.2L447.5 902.1L453.1 891.4ZM452.7 891.2L447.1 901.9L443.4 899.8L448.9 889.3ZM448.4 889.1L443 899.6L439.3 897.5L444.7 887.3ZM444.2 887L438.8 897.3L435.2 895.2L440.4 885.2ZM440 885L434.7 895L431.1 892.9L436.2 883.1ZM435.7 882.9L430.6 892.7L427 890.6L432 881.1ZM431.5 880.8L426.5 890.4L422.8 888.3L427.7 879ZM427.3 878.8L422.4 888.1L418.7 886L423.5 876.9ZM423 876.7L418.3 885.8L414.6 883.7L419.3 874.9ZM418.8 874.7L414.2 883.5L410.5 881.4L415 872.8ZM414.6 872.6L410.1 881.2L406.4 879.1L410.8 870.7ZM410.3 870.5L406 878.9L402.3 876.8L406.6 868.7ZM406.1 868.5L401.8 876.6L398.2 874.5L402.3 866.6ZM401.9 866.4L397.7 874.3L394.1 872.2L398.1 864.6ZM397.6 864.3L393.6 872L390 869.9L393.9 862.5Z" fill="#fff" fill-opacity="0.14"/>
<path d="M452.9 890.7L452.4 891.7L448.6 889.8L449.1 888.8ZM448.7 888.6L448.2 889.6L444.4 887.8L444.9 886.8ZM444.4 886.6L444 887.5L440.2 885.7L440.7 884.7ZM440.2 884.5L439.7 885.5L436 883.6L436.4 882.7ZM436 882.4L435.5 883.4L431.7 881.5L432.2 880.6ZM431.7 880.4L431.3 881.3L427.5 879.5L427.9 878.6ZM427.5 878.3L427 879.2L423.3 877.4L423.7 876.5ZM423.2 876.3L422.8 877.2L419 875.3L419.5 874.5ZM419 874.2L418.6 875.1L414.8 873.2L415.2 872.4ZM414.8 872.2L414.4 873L410.6 871.1L411 870.4ZM410.5 870.1L410.1 870.9L406.4 869.1L406.7 868.3ZM406.3 868.1L405.9 868.8L402.1 867L402.5 866.2ZM402 866L401.7 866.8L397.9 864.9L398.3 864.2ZM397.8 864L397.5 864.7L393.7 862.8L394 862.1Z" fill="#fff" fill-opacity="0.5"/>
<path d="M460.6 896.5L459.9 897.7L456.2 895.8L456.8 894.6ZM456.3 894.4L455.7 895.6L452 893.7L452.6 892.5ZM452.1 892.3L451.5 893.5L447.8 891.6L448.4 890.4ZM447.9 890.2L447.3 891.3L443.6 889.5L444.1 888.3ZM443.7 888.1L443.1 889.2L439.4 887.3L439.9 886.2ZM439.5 886L438.9 887.1L435.2 885.2L435.7 884.1ZM435.2 883.9L434.7 885L430.9 883.1L431.5 882.1ZM431 881.8L430.5 882.9L426.7 881L427.2 880ZM426.8 879.7L426.3 880.8L422.5 878.9L423 877.9ZM422.6 877.7L422.1 878.7L418.3 876.8L418.8 875.8ZM418.3 875.6L417.9 876.5L414.1 874.7L414.6 873.7ZM414.1 873.5L413.7 874.4L409.9 872.5L410.4 871.6ZM409.9 871.4L409.4 872.3L405.7 870.4L406.1 869.5ZM405.7 869.3L405.2 870.2L401.5 868.3L401.9 867.4ZM401.5 867.2L401 868.1L397.3 866.2L397.7 865.3ZM397.2 865.1L396.8 866L393.1 864.1L393.5 863.3Z" fill="#fff" fill-opacity="0.55"/>
<path d="M459.7 898.2L459.1 899.4L455.3 897.5L455.9 896.3ZM455.5 896.1L454.9 897.3L451.1 895.4L451.7 894.2ZM451.3 894L450.7 895.1L446.9 893.2L447.5 892.1ZM447.1 891.8L446.5 893L442.8 891.1L443.3 889.9ZM442.9 889.7L442.3 890.8L438.6 888.9L439.1 887.8ZM438.7 887.6L438.1 888.7L434.4 886.8L434.9 885.7ZM434.5 885.5L433.9 886.5L430.2 884.6L430.7 883.6ZM430.3 883.3L429.7 884.4L426 882.5L426.5 881.4ZM426.1 881.2L425.5 882.2L421.8 880.3L422.3 879.3ZM421.9 879.1L421.3 880.1L417.6 878.2L418.1 877.2ZM417.7 877L417.2 877.9L413.4 876L413.9 875.1ZM413.4 874.8L413 875.8L409.2 873.9L409.7 872.9ZM409.2 872.7L408.8 873.6L405 871.7L405.5 870.8ZM405 870.6L404.6 871.5L400.9 869.6L401.3 868.7ZM400.8 868.5L400.4 869.3L396.7 867.4L397.1 866.6ZM396.6 866.3L396.2 867.2L392.5 865.3L392.9 864.4Z" fill="#fff" fill-opacity="0.6"/>
<path d="M458.8 900L458.2 901.2L454.4 899.2L455.1 898ZM454.6 897.8L454 899L450.3 897L450.9 895.9ZM450.4 895.6L449.8 896.8L446.1 894.9L446.7 893.7ZM446.2 893.5L445.6 894.6L441.9 892.7L442.5 891.5ZM442.1 891.3L441.5 892.4L437.7 890.5L438.3 889.4ZM437.9 889.2L437.3 890.2L433.6 888.3L434.1 887.2ZM433.7 887L433.1 888.1L429.4 886.1L430 885.1ZM429.5 884.8L429 885.9L425.2 883.9L425.8 882.9ZM425.3 882.7L424.8 883.7L421.1 881.7L421.6 880.7ZM421.1 880.5L420.6 881.5L416.9 879.5L417.4 878.6ZM416.9 878.3L416.4 879.3L412.7 877.4L413.2 876.4ZM412.8 876.2L412.3 877.1L408.5 875.2L409 874.3ZM408.6 874L408.1 874.9L404.4 873L404.8 872.1ZM404.4 871.9L403.9 872.7L400.2 870.8L400.7 869.9ZM400.2 869.7L399.8 870.6L396 868.6L396.5 867.8Z" fill="#fff" fill-opacity="0.6"/>
<path d="M457.9 901.7L457.2 902.9L453.5 900.9L454.2 899.7ZM453.7 899.5L453.1 900.7L449.4 898.7L450 897.5ZM449.5 897.3L448.9 898.5L445.2 896.5L445.8 895.3ZM445.4 895.1L444.8 896.3L441.1 894.3L441.7 893.2ZM441.2 892.9L440.6 894L436.9 892L437.5 891ZM437.1 890.7L436.5 891.8L432.8 889.8L433.3 888.8ZM432.9 888.5L432.3 889.6L428.6 887.6L429.2 886.6ZM428.7 886.3L428.2 887.4L424.5 885.4L425 884.4ZM424.6 884.1L424 885.1L420.3 883.1L420.8 882.2ZM420.4 881.9L419.9 882.9L416.2 880.9L416.7 880ZM416.2 879.7L415.7 880.7L412 878.7L412.5 877.8ZM412.1 877.5L411.6 878.5L407.9 876.5L408.3 875.6ZM407.9 875.3L407.4 876.2L403.7 874.3L404.2 873.4ZM403.7 873.1L403.3 874L399.6 872L400 871.2Z" fill="#fff" fill-opacity="0.55"/>
<path d="M456.9 903.5L456.3 904.6L452.7 902.6L453.2 901.5ZM452.8 901.3L452.2 902.3L448.5 900.3L449.1 899.3ZM448.6 899.1L448.1 900.1L444.4 898L444.9 897.1ZM444.5 896.8L443.9 897.8L440.3 895.8L440.8 894.8ZM440.3 894.6L439.8 895.5L436.1 893.5L436.6 892.6ZM436.2 892.3L435.7 893.3L432 891.3L432.5 890.4ZM432 890.1L431.5 891L427.9 889L428.3 888.1ZM427.9 887.9L427.4 888.8L423.7 886.7L424.2 885.9ZM423.7 885.6L423.3 886.5L419.6 884.5L420 883.6ZM419.6 883.4L419.1 884.2L415.5 882.2L415.9 881.4ZM415.5 881.2L415 882L411.3 880L411.8 879.2ZM411.3 878.9L410.9 879.7L407.2 877.7L407.6 876.9Z" fill="#fff" fill-opacity="0.5"/>
<path d="M456 905.3L455.4 906.3L451.7 904.2L452.3 903.2ZM451.8 903L451.3 904L447.6 902L448.2 901ZM447.7 900.7L447.2 901.7L443.5 899.7L444 898.7ZM443.6 898.4L443 899.4L439.4 897.4L439.9 896.4ZM439.5 896.2L438.9 897.1L435.3 895.1L435.8 894.1ZM435.3 893.9L434.8 894.8L431.2 892.8L431.7 891.9ZM431.2 891.6L430.7 892.5L427 890.5L427.5 889.6ZM427.1 889.3L426.6 890.2L422.9 888.2L423.4 887.3ZM423 887.1L422.5 887.9L418.8 885.9L419.3 885Z" fill="#fff" fill-opacity="0.45"/>
<path d="M455 907L454.4 908L450.8 905.9L451.3 904.9ZM450.9 904.7L450.3 905.7L446.7 903.6L447.2 902.6ZM446.8 902.4L446.2 903.3L442.6 901.3L443.1 900.3ZM442.7 900.1L442.1 901L438.5 898.9L439 898ZM438.6 897.7L438.1 898.7L434.4 896.6L434.9 895.7ZM434.5 895.4L434 896.4L430.3 894.3L430.8 893.4Z" fill="#fff" fill-opacity="0.4"/>
<path d="M33 800.9L33 799.9L37.2 799.8L37.2 800.8ZM37.7 800.8L37.7 799.8L41.9 799.8L41.9 800.7ZM42.4 800.7L42.4 799.7L46.6 799.7L46.6 800.6Z" fill="#fff" fill-opacity="0.7"/>
<path d="M80.1 800L80.1 799.2L84.3 799.1L84.3 799.9ZM84.8 799.9L84.8 799.1L89 799L89 799.8ZM89.5 799.8L89.5 799L93.7 799L93.7 799.7ZM94.2 799.7L94.2 799L98.4 798.9L98.4 799.6ZM98.9 799.6L98.9 798.9L103.1 798.8L103.1 799.5Z" fill="#fff" fill-opacity="0.6"/>
<path d="M33 796.9L33 796L37.2 796L37.2 796.9Z" fill="#fff" fill-opacity="0.5"/>
<path d="M51.8 796.9L51.8 796L56 796L56 796.9ZM56.5 796.9L56.5 796L60.7 796L60.7 796.9ZM61.2 796.9L61.2 796L65.4 796L65.4 796.9Z" fill="#fff" fill-opacity="0.35"/>
<path d="M33.5 811.6L33.2 807.3L37.4 807.1L37.6 811.3ZM38.2 811.3L37.9 807L42.1 806.8L42.3 811Z" fill="#fff" fill-opacity="0.55"/>
<path d="M71 808.6L70.9 806L75.1 805.7L75.2 808.3Z" fill="#fff" fill-opacity="0.6"/>
<path d="M85.2 808.4L85.1 807.5L89.3 807.2L89.4 808.1ZM89.9 808.1L89.8 807.2L94 806.9L94.1 807.8Z" fill="#fff" fill-opacity="0.5"/>
<path d="M33.8 815.9L33.7 814.7L37.9 814.4L38 815.5ZM38.5 815.5L38.4 814.3L42.6 814L42.7 815.1ZM43.2 815.1L43.1 814L47.3 813.6L47.4 814.7Z" fill="#fff" fill-opacity="0.6"/>
<path d="M34.9 825.7L34.7 824.5L38.9 824L39 825.1ZM39.5 825.1L39.4 823.9L43.5 823.4L43.7 824.5ZM44.2 824.5L44.1 823.3L48.2 822.8L48.4 823.9ZM48.9 823.9L48.7 822.8L52.9 822.2L53 823.3ZM53.5 823.2L53.4 822.2L57.6 821.6L57.7 822.7ZM58.2 822.6L58.1 821.6L62.2 821.1L62.4 822.1ZM62.9 822L62.7 821L66.9 820.5L67 821.5ZM67.5 821.4L67.4 820.4L71.6 819.9L71.7 820.9ZM72.2 820.8L72.1 819.8L76.3 819.3L76.4 820.3ZM76.9 820.2L76.8 819.2L80.9 818.7L81.1 819.6ZM81.6 819.6L81.4 818.7L85.6 818.1L85.7 819ZM86.2 819L86.1 818.1L90.3 817.5L90.4 818.4ZM90.9 818.4L90.8 817.5L95 817L95.1 817.8ZM95.6 817.7L95.5 816.9L99.6 816.4L99.7 817.2ZM100.2 817.1L100.1 816.3L104.3 815.8L104.4 816.6ZM104.9 816.5L104.8 815.7L109 815.2L109.1 816Z" fill="#fff" fill-opacity="0.55"/>
<path d="M35.1 827.7L34.9 826.4L39.1 825.8L39.3 827.2ZM39.8 827.1L39.6 825.7L43.8 825.2L44 826.5ZM44.5 826.4L44.3 825.1L48.4 824.6L48.6 825.8ZM49.1 825.8L48.9 824.5L53.1 823.9L53.3 825.2ZM53.8 825.1L53.6 823.9L57.8 823.3L57.9 824.5ZM58.5 824.5L58.3 823.2L62.4 822.7L62.6 823.9ZM63.1 823.8L63 822.6L67.1 822.1L67.3 823.2ZM67.8 823.2L67.6 822L71.8 821.4L71.9 822.6ZM72.4 822.5L72.3 821.4L76.5 820.8L76.6 821.9ZM77.1 821.9L77 820.7L81.1 820.2L81.3 821.3ZM81.8 821.2L81.6 820.1L85.8 819.6L85.9 820.6ZM86.4 820.5L86.3 819.5L90.5 818.9L90.6 820ZM91.1 819.9L91 818.9L95.1 818.3L95.3 819.3ZM95.8 819.2L95.6 818.2L99.8 817.7L99.9 818.7ZM100.4 818.6L100.3 817.6L104.5 817.1L104.6 818ZM105.1 817.9L105 817L109.1 816.4L109.3 817.4Z" fill="#fff" fill-opacity="0.6"/>
<path d="M35.4 829.6L35.2 828.4L39.4 827.8L39.6 829ZM40.1 828.9L39.9 827.8L44 827.2L44.2 828.3ZM44.7 828.2L44.6 827.1L48.7 826.5L48.9 827.6ZM49.4 827.5L49.2 826.4L53.4 825.8L53.5 826.9ZM54 826.8L53.9 825.7L58 825.2L58.2 826.2ZM58.7 826.1L58.5 825.1L62.7 824.5L62.8 825.5ZM63.4 825.4L63.2 824.4L67.4 823.8L67.5 824.8ZM68 824.7L67.9 823.7L72 823.1L72.2 824.1ZM72.7 824L72.5 823.1L76.7 822.5L76.8 823.4ZM77.3 823.4L77.2 822.4L81.3 821.8L81.5 822.7ZM82 822.7L81.9 821.7L86 821.1L86.1 822ZM86.6 822L86.5 821.1L90.7 820.5L90.8 821.4Z" fill="#fff" fill-opacity="0.5"/>
<path d="M258.4 656.5L258.8 657.5L259.2 653.8L259.6 653.6L259.9 655.8L260.3 658.1L260.7 655.9L261.1 653.2L261.4 653.9L261.8 655.1L262.1 656.9L262.5 655.2L262.9 654.6L263.3 654.9L263.6 655.6L264 654L264.4 655.3L264.7 655.8L265 658.2L265.5 655.3L265.8 657.1L266.3 653.6L266.5 656.9L266.9 655.7L267.4 654.6L267.7 655.5L268 657.1L268.5 655L268.7 657.4L269 658.2L269.3 658.4L269.7 658.5L270.4 653.6L270.6 656.3L271.1 654.6L271.2 657.4L271.7 656L272.1 656.3L272.4 656.7L273 654.9L273.2 656.2L273.7 654.8L273.6 658.9L274.4 655.3L274.7 656.2L275.3 654L275.7 654.1L276 654.8L276 657.7L276.3 657.7L276.8 656.9L277.4 655.4L277.2 659.3L278.2 654.8L278.6 655.2L278.6 657.5L279.3 655L279.4 657.2L279.6 658.5L280.2 656.8L280.4 657.6L280.9 657.1L281.5 655.9L282 655L282.4 655.1L282.4 657.2L283.1 655.2L283.3 656.4L283.4 657.8L283.4 659.8L284.6 655.5L284.7 656.7L284.8 658.1L285.1 658.7L286.1 655.7L285.5 660.7L286.6 656.6L286.4 659.9L287.2 657.8L287.3 658.9L287.2 661.1L287.9 659.6L288.5 658.7L289.3 656.8L289.5 657.5L290.1 656.6L289.3 661.5L290.8 656.8L291.2 656.8L290.4 661.8L290.9 661.3L291.9 658.6L291.8 660.7L292.8 658L293.1 658.5L293 660.4L293.4 660.3L294.1 659L293.6 662.6L294.3 661.2L294.9 660.3L295.9 658.1L295.7 660.4L296.2 659.8L296.5 660.3L296.4 661.9L297.4 659.6L297.4 661.2L297.5 662.2L298 661.5L297.8 663.7L299.5 659.1L299.3 661.1L300.2 659.4L300 661.3L299.5 664.3L301.3 659.6L301.2 661.3L301 663L301.7 662.2L301.6 663.6L303.1 660.2L302.3 664L303.7 660.9L304.2 660.6L303.5 663.6L303.9 663.6L305 661.7L305.4 661.7L305.4 662.8L305.6 663.3L306 663.1L306.9 661.9L307.4 661.7L306.2 666L307.2 664.2L308.4 662L308.8 662.2L308.8 663.2L309 663.8L309.8 662.6L308.5 667L309.5 665.5L310.3 664.4L310.2 665.7L310.6 665.6L310.4 667.1L311.4 665.8L311 667.7L311.1 668.3L312.7 665.4L313.2 665.3L313.8 664.8L313.7 666L314.4 665.3L314.2 666.7L314.3 667.3L314.5 667.8L316 665.2L314.8 669L316.1 666.9L316.3 667.4L317 666.9L317.8 665.9L317.1 668.4L318.5 666.2L317.1 670.1L318.2 668.5L317.4 671.1L318.4 669.8L318.7 670.1L318.5 671.3L320 669.2L319.1 671.8L320.7 669.4L320.7 670.1L321.8 668.8L321.2 670.9L321.4 671.3L322.7 669.6L323.6 668.7L322.9 670.7L322.9 671.6L323.7 670.8L324.7 669.7L324.8 670.3L324.8 671.2L325.9 669.9L325.7 671L324.3 674.3L326.9 670.4L326.4 672.1L325.1 675.2L326.2 673.9L326.4 674.4L327.6 673L328.8 671.5L326.7 676.1L328.2 674.2L328.6 674.3L327.7 676.6L328.7 675.5L329.7 674.6L331 673L330.5 674.6L330.8 674.8L331.6 674.2L332.1 674.1L332.5 674.1L332.1 675.6L332.8 675.1L332.2 676.8L332 677.9L332.9 677L333.5 676.8L332.4 679.3L333.5 678.1L335.6 675.6L335.5 676.5L334.9 678L336.2 676.7L335 679.3L337.2 676.6L337.5 676.8L335.7 680.2L336.4 679.8L338.4 677.4L337.5 679.5L336.5 681.5L339.3 678.2L339.7 678.3L340 678.5L340.1 679L340.6 678.9L340.2 680.2L341.2 679.3L340.2 681.4L338.9 683.8L342 680.2L340.3 683.2L340.3 683.8L343 680.7L342 682.7L342.4 682.8L343 682.5L342.2 684.4L343.7 682.8L343.2 684.2L344.3 683.4L344.3 683.9L345.3 683.3L343 686.9L345.1 684.7L346.6 683.5L343.8 687.5L344.2 687.7L346.4 685.4L347.2 685L347.6 685.2L345.7 688.1L347.7 686.2L348.4 685.9L347 688.3L348.5 687L348.6 687.5L346.9 690L348.1 689.2L348 690L349.2 689.1L348.5 690.5L350.4 688.8L349.4 690.5L349.6 690.9L351.5 689.2L352.7 688.4L351 690.9L352 690.3L351.5 691.5L353.1 690.2L352.1 691.9L351.9 692.7L351.3 693.8L351.6 694.1L353.4 692.7L352.4 694.3L355.1 691.9L353.2 694.5L354.7 693.4L353.6 695.2L355 694.1L356 693.7L356.8 693.3L354.7 696.1L356.4 694.8L355.9 695.9L356.5 695.8L358.8 694L356.8 696.5L358.3 695.6L357.6 696.8L357.8 697.1L360.1 695.3L359.3 696.7L359.2 697.3L358.9 698.1L358.5 699L360.8 697.3L360.5 698.1L359.6 699.4L362.2 697.5L358.8 701.2L362.4 698.3L359.8 701.3L361.5 700.2L359.8 702.2L360.9 701.8L362.5 700.8L364.3 699.7L362.8 701.5L362.8 702L362.7 702.5L365.3 700.8L365 701.5L365.2 701.8L364.1 703.3L365.8 702.3L365.1 703.4L363.9 704.9L366 703.6L363.9 705.9L365.5 705L366.5 704.7L364.9 706.5L365.9 706.1L367.2 705.5L367.9 705.4L367.4 706.3L367.1 707.1L366.2 708.2L367.7 707.5L369.1 706.8L370.1 706.5L368.4 708.4L368.4 708.8L367.6 709.9L370.1 708.4L371.3 708L368.7 710.5L370.3 709.7L372 708.9L368.3 712.2L369.5 711.7L370.9 711.1L370.8 711.6L372.5 710.8L370.3 712.9L372.5 711.8L372.7 712L372.7 712.5L374.2 711.9L371.3 714.5L370.6 715.4L372.1 714.8L375.1 713.1L374.1 714.3L374.8 714.3L373.5 715.6L376 714.3L376.2 714.6L375.3 715.7L373.5 717.4L375.4 716.5L372.9 718.7L376.8 716.5L375.7 717.7L376.1 717.8L377.4 717.5L374.7 719.6L378.3 717.7L378.3 718.2L377.5 719.1L377.9 719.4L375.7 721.2L378.3 719.9L377 721.2L378.6 720.6L376.2 722.6L378.4 721.7L378.1 722.2L380.5 721.2L377.9 723.3L380.1 722.4L378 724.1L378.7 724L378.9 724.4L378.2 725.2L379.5 724.9L381.6 724.1L380.2 725.3L382.4 724.4L382.6 724.8L382.8 725.1L382.6 725.6L383.2 725.7L383.4 726.1L383.6 726.4L383.7 726.7L383.9 727L384.1 727.4L384.3 727.7L384.5 728L384.7 728.4L384.8 728.7L385 729L385.2 729.3L385.4 729.7L385.5 730L385.7 730.3L385.9 730.7L386 731L386.2 731.3L386.4 731.7L386.6 732L386.7 732.4L385.9 733.2L387.1 733L387.2 733.4L387.4 733.7L387.6 734L387.7 734.4L387.9 734.7L388 735.1L388.2 735.4L388.4 735.7L388.5 736.1L388.7 736.4L388.8 736.8L389 737.1L389.1 737.4L389.3 737.8L389.5 738.1L389.6 738.5L389.8 738.8L389.9 739.2L390.1 739.5L389.9 740L390.4 740.2L390.5 740.5L390.6 740.9L390.8 741.2L390.9 741.6L391.1 741.9L391.2 742.3L391.4 742.6L391.5 743L391.6 743.3L391.8 743.7L391.9 744L392.1 744.4L392.2 744.7L392.3 745.1L392.5 745.4L392.6 745.8L392.7 746.1L392.9 746.5L393 746.8L393.1 747.2L393.2 747.5L393.4 747.9L393.5 748.2L393.6 748.6L393.7 748.9L393.9 749.3L394 749.6L394.1 750L393.7 750.5L394.4 750.7L394.4 751.1L394.6 751.4L394.7 751.8L394.8 752.1L394.9 752.5L395.1 752.9L395.2 753.2L394.8 753.7L395 754.1L395.5 754.3L395.6 754.6L395.7 755L395.8 755.4L395.9 755.7L396.1 756.1L396.2 756.4L396.3 756.8L396.4 757.2L396.5 757.5L396.6 757.9L396.7 758.2L396.8 758.6L396.9 759L397 759.3L397.1 759.7L397.2 760.1L396.3 760.7L396.9 760.9L397.4 761.2L397.5 761.5L397.6 761.9L397.7 762.2L397.8 762.6L397.9 763L398 763.3L398.1 763.7L397.5 764.2L398.2 764.4L398.3 764.8L398.4 765.2L398.5 765.5L398.6 765.9L398.6 766.3L398.7 766.6L398.8 767L398.9 767.4L398.9 767.7L399 768.1L399.1 768.5L399.2 768.8L399.2 769.2L399.3 769.6L398.9 770L399.4 770.3L399.5 770.7L399.6 771.1L399.4 771.5L399.7 771.8L399.8 772.2L399.8 772.5L399.9 772.9L400 773.3L400 773.6L400.1 774L400.1 774.4L400.2 774.8L398.8 775.3L400.3 775.5L400.1 775.9L400.4 776.2L400.5 776.6L400.3 777L400.6 777.4L400.6 777.7L400.7 778.1L400.7 778.5L400.8 778.8L399.9 779.3L400.9 779.6L400.9 780L400.9 780.3L401 780.7L401 781.1L401.1 781.5L401.1 781.8L401.1 782.2L401.2 782.6L401.2 783L401.2 783.3L401.3 783.7L401.3 784.1L401.3 784.5L401.4 784.8L401.4 785.2L401.4 785.6L401.5 785.9L401.5 786.3L401.5 786.7L401.5 787.1L401.6 787.4L401.2 787.8L401.6 788.2L401.6 788.6L401.7 788.9L401.7 789.3L401.7 789.7L401.7 790.1L401.7 790.4L401.7 790.8L401.8 791.2L401.8 791.6L401.8 791.9L400.3 792.4L401.8 792.7L401.8 793.1L401.8 793.4L401.8 793.8L401.8 794.2L401.8 794.6L401.8 794.9L401.8 795.3L401.8 795.7L401.8 796.1L401.9 796.5L401.8 796.8L401.8 797.2L401.8 797.6L401.8 798L401.8 798.3L401.8 798.7L401.8 799.1L401.8 799.5L400.6 799.8L401.8 800.2L401.8 800.6L401.8 801L401.8 801.3L401.8 801.7L401.7 802.1L401.7 802.5L401.7 802.8L401.7 803.2L401.7 803.6L401.7 804L400.4 804.3L401.6 804.7L401.6 805.1L401.6 805.5L401.5 805.8L401.5 806.2L400.5 806.5L401.5 807L401.4 807.3L401.4 807.7L401.4 808.1L400.9 808.4L401.3 808.8L401.3 809.2L401.2 809.6L401.2 809.9L401.2 810.3L400.7 810.7L401.1 811.1L401.1 811.4L401 811.8L401 812.2L400.9 812.6L400.9 812.9L400.9 813.3L400.8 813.7L400.8 814.1L400.7 814.4L400.7 814.8L400.3 815.1L400.6 815.5L400.5 815.9L400.5 816.3L400.4 816.7L400.4 817L400.3 817.4L400.3 817.8L400.2 818.1L400.1 818.5L400.1 818.9L400 819.3L400 819.6L399.9 820L399.8 820.4L399.8 820.7L399.7 821.1L399.6 821.5L399.6 821.8L399.5 822.2L399.4 822.6L399.4 823L399.3 823.3L399.2 823.7L399.2 824.1L399.1 824.4L399 824.8L398 825L398.9 825.5L398.8 825.9L398.7 826.3L398.6 826.6L398.6 827L398.5 827.4L398.4 827.7L398.3 828.1L398.2 828.5L398.1 828.8L398.1 829.2L398 829.6L397.9 829.9L397.8 830.3L397.7 830.7L397.6 831L397.5 831.4L397.4 831.7L397.3 832.1L397.3 832.5L397.2 832.8L397.1 833.2L397 833.6L396.9 833.9L396.8 834.3L396.7 834.7L396.6 835L396.5 835.4L396.4 835.7L396.3 836.1L396.2 836.5L396.1 836.8L394.3 836.7L395.8 837.5L395.7 837.9L395.6 838.3L395.5 838.6L395.4 839L395.3 839.3L395.2 839.7L394.4 839.8L394.9 840.4L394.5 840.7L394.7 841.1L394.6 841.5L394.5 841.8L394.4 842.2L394.2 842.5L393.9 842.8L393.9 843.2L393.9 843.6L393.7 844L393.6 844.3L393.5 844.7L393.4 845L393.2 845.4L391.3 845.1L393 846.1L392.9 846.4L392.7 846.8L392.6 847.1L392.5 847.5L392.3 847.8L392.2 848.2L392.1 848.5L391.9 848.9L391.8 849.2L391.6 849.6L391.5 849.9L391.4 850.3L389.9 850.1L391.1 851L390.9 851.3L390.8 851.7L390.6 852L390.5 852.4L390.4 852.7L390.2 853.1L390.1 853.4L389.9 853.7L389.8 854.1L389.6 854.4L389.5 854.8L389.3 855.1L389.1 855.5L387.9 855.3L387.6 855.6L388.7 856.5L388.5 856.8L387.9 857L388.2 857.5L388 857.8L387.9 858.2L387.7 858.5L387.6 858.9L387.4 859.2L387.2 859.5L387.1 859.9L386.9 860.2L384.4 859.4L384.6 859.9L386.4 861.2L385.6 861.3L386 861.9L385.9 862.2L385.7 862.6L385.5 862.9L385.4 863.2L385.2 863.6L385 863.9L384.8 864.2L381.5 862.9L384.5 864.9L384.3 865.2L383.2 865L383.1 865.4L382.7 865.6L383.6 866.5L383.4 866.8L383.2 867.2L383 867.5L382.8 867.8L380 866.6L382.4 868.5L382.1 868.7L380.5 868.2L381.9 869.4L380.6 869.1L381.5 870.1L381.3 870.4L381.1 870.7L380.9 871.1L379.5 870.6L380.4 871.6L380.3 872L379.4 871.9L379.9 872.7L379.7 873L377.6 872.1L379.3 873.6L378 873.2L378.9 874.2L378.7 874.6L378.5 874.9L377 874.3L377.6 875.2L377.1 875.3L375 874.3L376.2 875.6L375.3 875.4L376.9 876.9L376.8 877.4L374.8 876.4L373.8 876.1L375.8 878L372 875.8L373.7 877.4L371.5 876.3L372.7 877.7L371.7 877.4L373.6 879.2L374.7 880.4L370.4 877.8L370.7 878.5L371.4 879.4L373.4 881.4L370.7 879.8L373.1 882.1L370.8 880.8L370 880.7L370.3 881.4L372.2 883.3L369.7 881.8L370.1 882.6L369.4 882.5L368.2 882L370.6 884.4L370.6 884.9L370.8 885.5L366.9 882.9L369.9 885.7L366.8 883.7L367.8 885L366.5 884.4L367.5 885.7L367 885.7L367.7 886.8L366.5 886.3L368.3 888.3L365.3 886.2L368 889L366.9 888.6L366.5 888.7L365.6 888.4L365.6 888.9L366.5 890.2L364.9 889.3L366.3 891L365.4 890.8L364.3 890.3L364.9 891.3L362.5 889.6L363.7 891.2L362.7 890.8L364.5 892.9L361.6 890.8L361.6 891.3L363.8 893.8L360.2 891L363.2 894.3L363 894.6L360.2 892.5L358.8 891.7L359.9 893.3L360.7 894.5L361.1 895.4L360.9 895.7L359.5 894.9L359 894.9L360.4 896.8L358.3 895.3L360.1 897.6L358.2 896.2L359.3 897.8L359.3 898.4L355.5 895.1L356.7 896.7L357.5 898.1L358.2 899.4L354.9 896.5L356.2 898.4L357 899.7L357.2 900.5L354.4 898.1L354.4 898.6L354.4 899.2L356 901.4L355.8 901.8L352.8 899.1L354.3 901.2L352.8 900.1L354.7 902.8L353.4 901.9L352 900.9L352.6 902.1L350.2 900L351 901.4L350.5 901.4L350.6 902.1L351.4 903.6L351.8 904.5L351.5 904.8L348.9 902.3L350.2 904.5L351 906L349.2 904.4L349.1 904.8L349.4 905.8L348.1 904.9L349.3 906.9L346.1 903.5L348.2 906.7L348.5 907.7L347 906.4L346.7 906.6L345.6 905.9L346 907L345.3 906.6L345.7 907.7L345.7 908.3L346.2 909.6L345.6 909.4L344.6 908.7L345.4 910.4L343.1 908L344 909.7L342.1 907.9L342.2 908.6L343.1 910.4L340.7 907.8L340.7 908.4L342.6 911.6L341.1 910.2L341.9 911.9L341.9 912.6L340.5 911.3L340.9 912.4L339.2 910.7L340.9 913.8L339.2 912L337.9 910.7L338.6 912.4L336.8 910.5L336.5 910.7L339.1 915.1L338 914.1L337.9 914.6L335.5 911.8L337.2 914.9L337.5 916.1L336.7 915.6L336.1 915.3L335.6 915.3L335.3 915.5L334.8 915.4L335.3 916.8L334.3 915.9L334.3 916.7L334 916.9L333.5 916.9L332.2 915.4L332.4 916.5L331.7 916.1L332.7 918.3L332.7 919.1L331.6 917.9L330.3 916.5L330.8 918L330.9 919L331.1 920.1L329.5 918.1L330.2 920L330.1 920.6L328.5 918.6L328.5 919.2L327.1 917.6L328.8 921.4L328.5 921.6L327.1 919.8L325.6 917.8L326.4 920.1L325.7 919.6L326.9 922.5L325.4 920.5L326.2 922.8L325.9 923L324 920.3L323.4 919.9L324.5 922.9L323.5 921.7L322.9 921.3L323.2 922.6L322.6 922.4L322 922.1L322.7 924.1L322.5 924.7L321 922.4L319.7 920.6L321 924L320.7 924.3L318.7 921.1L320.2 924.9L319.9 925.2L317.7 921.5L318.1 923.3L317.8 923.4L318.8 926.5L316.7 922.8L317.5 925.4L316.2 923.6L316.2 924.4L315.1 922.7L315.4 924.3L314.4 923L315.7 926.9L314.2 924.3L314.2 925.2L314.6 927.2L314.7 928.4L313.7 927L313.8 928.2L313.2 927.6L312.9 927.9L312.6 928.3L311.8 927.2L311.4 927.2L311.8 929.2L311.3 929L310.3 927.5L310.5 928.9L310.1 928.9L310.1 929.8L309.8 930.3L308.9 929L309.1 930.4L308.1 929L307.9 929.5L307.6 929.8L306.5 927.7L307.2 930.7L305.7 927.6L305.8 929L304.6 926.9L305.8 931.3L305.3 931.1L304.4 929.4L303.8 928.9L304 930.8L303.1 929.1L303.1 930.3L303.5 932.6L302.3 930.3L301.7 929.5L301.6 930.3L301.5 931.3L301.5 932.7L300.3 930.1L299.6 929L300.6 933.5L299.3 930.6L299.9 933.7L298.8 931.5L299.2 933.9L298.3 932.4L297.6 931.1L298.1 934.3L297.7 934.4L296.8 932.3L296.6 933L296 932.2L295.1 930.4L295.9 934.9L294.9 932.6L295.2 935.1L294.8 935.2L294.4 934.9L294.1 935.3L293 932.6L292.5 932L292.3 932.8L292.7 935.7L292.1 935.1L291.9 935.9L291.2 934.3L291.1 935.8L289.9 932.3L289.8 933.5L290.1 936.3L288.7 931.9L288.8 934.1L288.2 933L288.2 934.6L287.4 932.5L287.1 932.8L286.8 933.5L286.3 932.5L286.2 933.9L285.9 934.5L285.9 936.4L285.7 937.2L284.5 933.1L284.4 934.3L284.6 937.3L283.6 934L283.4 935.2L283.1 935.4L282.2 932.8L282.1 934L282.4 937.8L281.6 935.7L281 934.1L280.6 934L280.4 935.1L280.3 936.7L279.7 935.5L279.8 938.3L278.8 934L278.7 936.4L278.5 937.3L278.2 937.7L277.6 936.2L277.5 938L277.1 938.3L276.7 938.3L275.8 933.8L275.8 936.9L275.3 935.8L275 936.2L274.8 937.9L274.2 935.5L274 937.2L273.7 938.3L273.4 938.8L272.9 937.7L272.6 937.9L271.9 934.7L271.9 939.2L271.2 935.2L270.8 934.6L270.4 934.5L270.4 938.5L270 938.8L269.4 935.1L269.1 936.2L268.8 936.8L268.5 938.9L268.1 937.9L267.8 939.5L267.1 934.6L266.8 935.6L266.6 938.3L266.1 935.7L265.8 937.3L265.6 939.7L265.1 936.6L264.8 939L264.3 937L264 938.5L263.7 939.4L263.3 938.3L262.8 935.8L262.6 939.8L262.2 939.4L261.8 939.8L261.4 938.8L261 936.2L260.6 936.4L260.3 936.8L259.9 936.8L259.5 935L259.2 935.1L258.8 934.9L258.4 939.3L258.1 938.9L257.7 936.3L257.4 936.4L257 938.6L256.6 938.1L256.3 936.1L255.9 938L255.5 939L255.1 937.1L254.7 938.7L254.4 936.7L254 937.3L253.6 938.2L253.2 939.2L253 935.9L252.5 939.2L252.2 937.4L251.8 938.2L251.4 937.5L251 938.2L250.8 935.8L250.3 937.3L249.8 939.4L249.4 939.6L249.3 936.1L248.8 937.8L248.6 935.2L248.2 936.5L247.9 935.1L247.2 939.4L246.9 937.9L246.8 935L246.1 939.3L246 935.9L245.5 937.2L245.3 935.3L244.7 937.6L244.3 938.3L244.2 935.6L244 934.1L243.1 939L243 936.4L242.4 938.3L242.3 935.9L241.9 936L241.3 938L240.8 938.8L240.8 936.5L240.4 936.5L240.2 935L239.6 936.5L239.5 934.6L239 935.9L238.9 933.7L238.4 934.4L237.5 938.3L237.4 936.6L237.2 935.3L236.6 936.5L236.5 935.3L236.4 933.1L235.4 937.4L235.1 937L234.6 937.3L234.8 933.8L234.7 932.8L233.5 937L233.9 932.7L232.7 937.5L232.8 935.1L232.4 935L232.1 934.6L231.4 936.3L230.9 937L230.8 935.3L230.9 933.1L230.1 935.2L230 934L229.6 933.9L229.6 932.1L228.3 936.4L229 931.7L228.6 931.6L227.2 936.3L227.7 932.3L226.4 936.2L226.2 935.4L226.1 934.4L225.8 933.9L225 935.9L224.8 934.9L224.2 935.7L224.8 931.9L223.6 935L223.8 932.9L223.1 934.1L223.2 932.3L222.1 935.2L222.2 933L221.3 935L221.1 934.4L221.4 932L221.2 931.2L220 934L219.9 933.3L220.5 929.6L219.4 932.1L219.5 930.4L219.2 930.2L218.7 930.5L217.9 932L217.6 931.9L217.7 930.1L216.3 933.5L216.2 932.6L216.4 930.5L216.2 930.2L215.8 930L214.9 931.8L214.4 932.2L213.8 932.7L214.2 930.2L213.7 930.5L213.5 930.2L212.4 932.2L212.5 930.8L211.7 931.8L212.6 928.2L212.1 928.6L211.7 928.5L211.3 928.6L211.3 927.4L210.4 928.8L209.4 930.5L209.6 928.7L209.2 928.8L209.1 928.2L208.8 927.8L208.2 928.3L208 927.9L207.4 928.3L207 928.5L206.1 929.7L206 929L205.8 928.4L206.8 924.9L205.3 927.8L204.5 928.7L205.1 926.2L204.7 926.2L203.8 927.3L204.4 925.1L202.7 928.2L202.2 928.2L202.3 927.1L202.1 926.7L201.8 926.4L201.7 925.8L202 924.2L201 925.4L200.9 924.7L200.1 925.6L199.2 926.7L199.6 925L198.6 926.4L199.5 923.5L198.4 924.9L197.5 926L197.9 924.3L197.7 923.8L196.9 924.6L196.1 925.3L196.4 924L195.4 925.2L195 925.1L194.7 924.9L194.4 924.7L194.8 923.1L194 923.7L193.3 924.2L193 924L192.7 923.9L192.3 923.7L192 923.5L191.7 923.4L191.3 923.2L191 923L190.7 922.8L190.4 922.7L190 922.5L189.7 922.3L189.4 922.1L189 921.9L188.7 921.7L188.4 921.6L188.1 921.4L188.6 919.6L187.9 920.1L187.1 920.8L186.7 920.6L187.2 919.1L186.1 920.3L185.8 920.1L185.5 919.9L185.8 918.6L185.2 918.9L184.5 919.3L184.2 919.1L183.8 918.9L183.5 918.7L183.2 918.5L182.9 918.3L182.6 918.1L182.2 917.9L182.2 917.2L181.6 917.5L181.3 917.3L181.1 917L180.7 916.9L180.3 916.7L180 916.5L179.7 916.3L179.4 916.1L179.1 915.9L178.8 915.7L178.5 915.5L178.2 915.3L178.6 913.9L177.5 914.8L177.2 914.6L176.9 914.4L176.6 914.2L176.3 914L176 913.8L175.7 913.6L175.4 913.3L175.1 913.1L174.8 912.9L174.5 912.7L174.2 912.5L173.9 912.2L173.6 912L173.3 911.8L173 911.6L172.7 911.3L172.3 911.1L172 910.9L171.8 910.7L171.5 910.4L171.2 910.2L170.9 910L170.8 909.4L170.3 909.5L170 909.3L169.7 909.1L169.4 908.8L169.1 908.6L168.8 908.4L168.5 908.1L168.2 907.9L167.9 907.7L167.6 907.4L167.3 907.2L167 906.9L166.8 906.7L166.5 906.5L166.6 905.7L165.9 906L165.6 905.7L165.3 905.5L165 905.2L164.7 905L164.5 904.8L164.2 904.5L164 904.1L163.6 904L163.3 903.8L163.1 903.5L162.8 903.3L162.5 903L162.2 902.8L161.9 902.5L161.7 902.3L161.4 902L161.1 901.8L160.8 901.5L160.6 901.2L160.3 901L160 900.7L159.7 900.5L159.5 900.2L159.2 900L158.9 899.7L158.7 899.4L158.4 899.2L158.9 898.1L157.9 898.6L157.6 898.4L157.3 898.1L157.1 897.8L156.8 897.6L158.2 895.6L156.3 897L156 896.8L155.8 896.5L155.5 896.2L155.2 896L154.9 895.7L154.7 895.4L154.4 895.2L154.2 894.9L153.9 894.6L153.7 894.3L153.4 894.1L153.1 893.8L152.9 893.5L152.6 893.2L152.4 893L152.1 892.7L151.9 892.4L151.6 892.1L151.4 891.8L151.1 891.6L152.7 889.7L150.6 891L150.4 890.7L150.1 890.4L149.9 890.2L149.7 889.9L149.4 889.6L149.2 889.3L148.9 889L148.7 888.7L148.4 888.4L149.1 887.4L149.5 886.6L147.7 887.6L147.5 887.3L147.2 887L148.8 885.3L146.8 886.4L146.5 886.1L146.3 885.8L146.1 885.5L145.8 885.2L145.6 884.9L145.4 884.6L145.1 884.3L144.9 884L144.7 883.7L144.5 883.4L144.5 882.9L144 882.9L143.8 882.6L143.6 882.2L143.3 881.9L143.1 881.6L142.9 881.3L142.7 881L142.4 880.7L142.2 880.4L142 880.1L141.8 879.8L142.2 879.1L141.3 879.2L141.1 878.9L141.4 878.2L140.7 878.3L140.5 878L140.3 877.7L140.1 877.4L139.8 877.1L139.6 876.7L139.4 876.4L139.4 876L139 875.8L138.8 875.5L138.6 875.2L138.4 874.9L138.2 874.6L138 874.2L137.8 873.9L138.7 872.9L137.4 873.3L137.2 873L137 872.7L136.8 872.3L136.6 872L136.4 871.7L136.2 871.4L138 869.8L135.8 870.7L136.7 869.7L137.7 868.7L138.2 868L138.4 867.5L137.3 867.7L134.6 868.8L136.8 867.1L134.4 868L134.1 867.8L136.2 866.2L137.1 865.2L135.2 865.9L134.6 865.8L133.2 866.2L133.9 865.4L135.7 864L134.6 864.1L134.5 863.8L133.2 864L132.9 863.8L132.5 863.6L131.7 863.6L135.4 861.2L131.4 862.9L135 860.6L133.7 860.8L130.9 861.9L133.7 860L133.2 859.8L133.4 859.3L131.7 859.8L131 859.7L131.2 859.2L131.3 858.7L129.5 859.2L132.9 857.2L129.7 858.3L133.1 856.2L132.6 856.1L128.7 857.5L128.7 857.1L128.9 856.6L130 855.7L128.1 856.1L130.5 854.6L128.9 854.9L127.6 855.1L130.7 853.3L127.7 854.3L130 852.9L131.6 851.7L128.5 852.7L127.7 852.6L126.5 852.7L129.1 851.2L127.5 851.5L127.7 851L129.7 849.8L125.8 851L128.4 849.5L129.9 848.5L128.8 848.6L125.6 849.5L129 847.7L126.3 848.4L129.2 846.8L126.9 847.4L128.3 846.4L124.4 847.5L126.4 846.3L124.2 846.8L126.6 845.5L124.1 846L126.7 844.7L126 844.5L128.2 843.3L126.5 843.6L126.5 843.2L123.2 844L125.3 842.8L123.1 843.2L124.4 842.3L124.5 841.9L125.4 841.2L125.8 840.7L125.7 840.4L124.7 840.3L123.1 840.4L123.8 839.8L124.2 839.3L124.4 838.9L121.6 839.3L124.4 838.1L121.4 838.6L124.1 837.4L122.5 837.5L121.1 837.5L123.5 836.4L121 836.8L123.7 835.6L123 835.4L122.3 835.2L124 834.4L120.7 834.9L121.1 834.4L121.9 833.8L123.1 833.1L121.6 833.1L119.8 833.2L121.5 832.4L120.8 832.2L120.6 831.9L119.5 831.7L119.4 831.4L120.7 830.7L122.5 829.8L119.6 830.2L120.8 829.5L120 829.3L122 828.4L118.9 828.8L121.6 827.8L122.9 827.1L121.4 827.1L118.8 827.3L119.4 826.8L122.8 825.6L123.1 825.2L120 825.5L119.4 825.3L121.9 824.4L119.3 824.5L120.5 823.9L118.4 823.9L119.3 823.4L117.6 823.3L120 822.5L117.5 822.6L117.7 822.2L119.7 821.4L120.4 820.9L121.8 820.3L120.3 820.2L118.9 820.1L120.3 819.5L116.9 819.6L116.9 819.3L119 818.5L116.8 818.5L120.7 817.5L117.8 817.6L119.2 817L121.5 816.3L118.7 816.3L119.2 815.9L116.4 815.9L120.4 815L117.2 815.1L117 814.7L119 814.1L119 813.7L116.5 813.6L116.9 813.2L116 812.9L117.3 812.4L115.9 812.2L116.4 811.8L119.8 811L116.9 811L116.5 810.6L119.4 810L117.8 809.7L118.8 809.3L117.4 809L115.8 808.8L119.4 808.1L117.9 807.9L117.3 807.6L118.1 807.1L119.9 806.6L117.8 806.4L118.6 806L115.4 805.8L116.4 805.4L116.7 805L116.5 804.6L116.3 804.3L117.5 803.8L118.9 803.4L117.9 803.1L117.9 802.7L118 802.3L117.2 802L119.9 801.5L116.7 801.3L117.2 800.9L116.4 800.5L116.7 800.2L116.1 799.8L115.2 799.4L117.1 799L117.8 798.7L116.7 798.3L119.5 797.9L117.3 797.6L115.1 797.2L116.7 796.8L118.6 796.5L118 796.1L116.6 795.7L115.1 795.3L117.1 795L117.4 794.6L120.1 794.3L118.2 793.9L117.1 793.5L117.9 793.1L116.9 792.7L118.4 792.4L116.7 792L117.1 791.6L115.1 791.2L116.6 790.9L115.2 790.4L116.8 790.1L117.4 789.8L119.1 789.5L117.3 789.1L115.3 788.6L115.8 788.2L115.3 787.8L115.3 787.4L115.9 787.1L115.4 786.7L115.4 786.3L115.4 785.9L116.5 785.7L115.5 785.2L115.5 784.8L117 784.6L115.6 784.1L116.7 783.8L115.7 783.3L115.7 783L118.3 782.8L115.8 782.2L116 781.9L115.8 781.5L116.2 781.1L117.2 780.9L116.6 780.4L118.5 780.3L116 779.6L116.1 779.2L117.1 779L116.2 778.5L117.7 778.3L116.3 777.7L119.8 777.8L116.9 777.1L116.4 776.6L116.5 776.2L116.5 775.9L117 775.6L116.6 775.1L117.4 774.9L116.8 774.4L117.8 774.2L116.9 773.6L118.3 773.5L118.2 773.1L117.1 772.5L117.1 772.2L117.2 771.8L117.3 771.4L117.9 771.2L117.4 770.7L118.3 770.5L118.8 770.2L117.6 769.6L119.3 769.5L122.1 769.7L117.8 768.5L117.9 768.1L120.2 768.2L118 767.4L118.1 767L118.2 766.6L118.5 766.3L119.1 766.1L119 765.7L118.5 765.2L118.7 764.8L118.7 764.4L118.8 764.1L121.5 764.3L119.6 763.5L119 763L119.1 762.6L119.2 762.2L119.3 761.9L120.4 761.8L119.5 761.2L119.6 760.8L119.6 760.4L119.8 760.1L119.8 759.7L120.4 759.5L120 759L122.9 759.4L120.2 758.2L120.3 757.9L120.4 757.5L120.5 757.2L120.6 756.8L120.7 756.4L120.8 756.1L121 755.7L122.2 755.7L121.2 755L122.4 755L121.4 754.3L121.5 753.9L121.7 753.6L121.7 753.2L122.4 753L122 752.5L122.1 752.1L122.2 751.8L122.3 751.4L122.5 751.1L122.5 750.7L122.7 750.4L122.8 750L122.9 749.6L123 749.3L123.2 748.9L123.3 748.6L123.4 748.2L123.5 747.9L123.7 747.5L123.8 747.2L123.9 746.8L124 746.5L124.2 746.1L124.3 745.8L124.4 745.4L124.6 745.1L124.7 744.7L124.8 744.4L125 744L125.1 743.7L125.3 743.3L126.2 743.3L125.5 742.6L125.7 742.3L125.8 741.9L126 741.6L126.1 741.2L126.3 740.9L126.4 740.5L126.5 740.2L126.9 739.9L126.8 739.5L127.4 739.3L127.1 738.8L127.3 738.5L127.4 738.1L127.6 737.8L127.8 737.4L127.9 737.1L128.1 736.8L128.2 736.4L128.4 736.1L128.5 735.7L128.9 735.5L128.9 735.1L129.3 734.8L129.6 734.6L129.3 734L129.5 733.7L129.7 733.4L129.8 733L130 732.7L130.2 732.4L130.3 732L130.5 731.7L130.7 731.3L130.9 731L131 730.7L131.2 730.3L131.4 730L131.5 729.7L131.7 729.3L131.9 729L132.1 728.7L132.2 728.4L132.4 728L132.6 727.7L132.8 727.4L133 727L133.2 726.7L133.3 726.4L133.5 726.1L133.7 725.7L133.9 725.4L134.1 725.1L134.3 724.8L134.5 724.4L134.6 724.1L134.8 723.8L135 723.5L135.2 723.1L135.4 722.8L135.6 722.5L135.8 722.2L136 721.8L136.2 721.5L136.4 721.2L136.6 720.9L136.8 720.6L137 720.2L137.2 719.9L137.4 719.6L137.6 719.3L137.8 719L138 718.7L138.2 718.3L138.4 718L139.3 718.2L138.8 717.4L139 717.1L139.2 716.8L139.4 716.5L139.6 716.2L139.8 715.8L140.1 715.5L140.3 715.2L140.5 714.9L140.7 714.6L140.9 714.3L141.1 714L144.2 715.7L141.6 713.4L141.8 713.1L142 712.8L142.2 712.5L142.4 712.2L142.7 711.9L142.9 711.6L143.1 711.3L143.3 711L143.6 710.7L143.8 710.3L144 710L144.2 709.8L144.5 709.5L144.7 709.2L144.9 708.9L145.1 708.6L145.4 708.3L145.6 708L145.8 707.7L146.1 707.4L146.3 707.1L146.5 706.8L146.8 706.5L147 706.2L147.2 705.9L147.5 705.6L147.7 705.3L148 705L148.2 704.8L148.4 704.5L148.7 704.2L148.9 703.9L149.2 703.6L149.4 703.3L149.7 703L149.9 702.7L150.1 702.5L150.4 702.2L150.6 701.9L150.9 701.6L151.1 701.3L151.4 701.1L154.2 703.1L151.9 700.5L153.7 701.6L155.4 702.7L154.7 701.5L156.6 702.8L153.4 699.4L153.4 698.8L154.7 699.5L155.1 699.4L156.1 699.8L156.7 699.9L154.8 697.6L155.1 697.4L155.6 697.3L158 699.1L157.1 697.7L156 696.1L156.9 696.5L157 696L156.8 695.3L160.6 698.6L159.4 696.8L160.1 697.1L159.6 696L158.3 694.1L161.6 697.1L161.3 696.2L159.4 693.7L159.2 692.9L160.3 693.6L162.3 695.2L161.6 693.9L161.4 693.1L162.1 693.3L161.9 692.6L163.4 693.7L163.3 693L163.6 692.8L162.2 690.6L164.9 693.1L164.5 692.1L163.3 690.3L164.9 691.4L163.3 689.1L165.6 691.2L165.8 690.7L166 690.5L165.4 689.2L165.1 688.2L165.3 688L167.4 689.8L165.6 687.2L167.5 688.8L167 687.6L167.4 687.6L166.8 686.2L167 686L167.3 685.7L170 688.4L169.9 687.6L170.5 687.8L169.6 686.2L169.6 685.5L171.2 686.9L169.9 684.7L171.8 686.5L170.4 684.2L171.5 685L170.6 683.1L172.1 684.6L172 683.7L173.4 685L174.5 685.8L172.5 682.6L174.2 684.3L172.7 681.6L175.1 684.2L174.4 682.7L176.5 684.9L175.1 682.4L174.8 681.4L174.8 680.7L175.1 680.4L175.1 679.8L175.4 679.6L175.7 679.3L176 679.1L176.3 678.9L176.6 678.7L177.3 679L177.2 678.3L177.5 678.1L177.8 677.8L178.2 677.6L178.5 677.4L178.8 677.2L179.1 677L179.4 676.8L179.7 676.6L180 676.4L180.3 676.2L180.7 676L181 675.8L181.3 675.6L182.1 676.2L181.9 675.2L182.2 675L182.6 674.8L182.9 674.6L184.1 675.9L183.6 674.3L183.8 674L184.2 673.8L184.5 673.6L184.8 673.4L185.1 673.2L185.5 673L185.8 672.8L186.1 672.6L186.4 672.5L186.7 672.3L187.1 672.1L187.4 671.9L187.7 671.7L188.1 671.5L188.4 671.3L188.7 671.2L189 671L189.4 670.8L189.7 670.6L190 670.4L190.4 670.2L190.7 670.1L191 669.9L191.3 669.7L191.7 669.6L192 669.4L192.3 669.2L192.7 669L193 668.9L193.3 668.7L193.7 668.5L194 668.3L194.4 668.2L194.7 668L195 667.8L195.4 667.7L195.7 667.5L196 667.3L196.4 667.2L196.7 667L197.1 667L197.4 666.7L197.7 666.5L198.1 666.4L198.4 666.2L198.8 666.1L199.1 665.9L200.5 668L199.8 665.6L200.1 665.4L200.5 665.3L200.8 665.1L201.2 665L201.5 664.8L201.8 664.7L202.5 665.2L202.5 664.4L202.9 664.3L203.2 664.1L203.6 664L203.9 663.8L204.3 663.7L204.6 663.5L205 663.4L205.3 663.3L205.7 663.1L206 663L206.4 662.9L206.7 662.7L207.4 663.5L207.4 662.4L207.8 662.3L208.1 662.2L208.5 662L208.8 661.9L209.2 661.8L209.5 661.7L209.9 661.5L210.2 661.4L210.8 661.8L210.9 661.2L211.3 661.2L211.6 660.9L212 660.8L212.4 660.7L212.7 660.5L213.1 660.4L213.4 660.3L213.8 660.2L214.1 660.1L214.5 660L214.9 659.8L215.2 659.7L215.6 659.6L216.3 660.8L216.3 659.4L216.6 659.3L217.1 659.4L217.4 659.1L217.7 659L218.6 660.7L218.4 658.7L218.8 658.6L220.5 663.3L219.8 659.4L220.2 659.4L220.3 658.5L221 659.6L221 658L221.5 658.6L221.9 658.8L222.9 660.8L222.7 658.8L222.8 657.7L223.2 657.5L223.9 659L224.1 658.2L225.2 661L224.6 657.1L225.9 660.8L226 659.6L225.7 656.8L226.1 656.8L226.4 656.7L227.2 658.4L228 660.1L227.5 656.4L227.9 656.3L228.6 657.6L229.1 658.2L229.6 659.1L229.9 658.6L229.7 656L230.1 655.9L230.5 655.8L231.7 660.1L231.3 656.4L231.6 655.6L232.1 656.3L232.6 656.9L232.7 655.4L233.1 655.4L233.4 655.3L234 656.4L234.2 655.1L235.1 658.7L235 655.4L235.3 654.9L235.7 655.5L236 654.8L236.4 655.1L237.2 657.6L237.3 656L237.6 655.1L238.3 657.5L238.4 655.8L238.9 656.6L239.4 657.1L239.5 655.1L239.9 655.3L240.1 654.3L240.9 657.5L241.2 656.6L241.2 654.1L241.9 656.3L242.3 657.1L242.5 655.3L242.7 653.9L243.1 654.2L243.5 654.6L243.8 653.8L244.4 655.6L244.7 655.4L245.2 656.4L245.5 655.2L245.8 654.9L246.1 653.6L246.5 654.3L247 656.1L247.3 655.2L247.9 658L248.1 654.9L248.3 653.7L248.7 653.4L249.1 653.4L249.6 656.2L249.9 654.5L250.3 655.9L250.6 654.6L251.1 655.7L251.4 655.6L251.8 655.1L252.2 657L252.5 653.7L252.9 654.7L253.2 653.1L253.6 653.5L254 654L254.3 653.1L254.7 654.2L255.1 655.9L255.5 653.3L255.8 653.1L256.2 653.1L256.6 653.3L256.9 653.2L257.3 655.7L257.7 653.3L258.1 656L258.4 653.8L258.4 653.1L255.4 653.1L252.4 653.2L249.4 653.3L246.5 653.6L243.5 653.8L240.5 654.2L237.5 654.6L234.5 655.1L231.6 655.6L228.6 656.2L225.7 656.8L222.8 657.6L219.9 658.3L217 659.2L214.1 660.1L211.3 661L208.5 662L205.7 663.1L202.9 664.3L200.1 665.4L197.4 666.7L194.7 668L192 669.4L189.4 670.8L186.7 672.3L184.2 673.8L181.6 675.4L179.1 677L176.6 678.7L174.2 680.4L171.8 682.2L169.4 684.1L167 686L164.7 687.9L162.5 689.9L160.3 691.9L158.1 694L156 696.1L153.9 698.3L151.9 700.5L149.9 702.7L148 705L146.1 707.4L144.2 709.8L142.4 712.2L140.7 714.6L139 717.1L137.4 719.6L135.8 722.2L134.3 724.8L132.8 727.4L131.4 730L130 732.7L128.7 735.4L127.4 738.1L126.3 740.9L125.1 743.7L124 746.5L123 749.3L122.1 752.1L121.2 755L120.3 757.9L119.6 760.8L118.8 763.7L118.2 766.6L117.6 769.6L117.1 772.5L116.6 775.5L116.2 778.5L115.8 781.5L115.6 784.5L115.3 787.4L115.2 790.4L115.1 793.4L115 796.5L115.1 799.5L115.2 802.5L115.3 805.5L115.6 808.4L115.8 811.4L116.2 814.4L116.6 817.4L117.1 820.4L117.6 823.3L118.2 826.3L118.8 829.2L119.6 832.1L120.3 835L121.2 837.9L122.1 840.8L123 843.6L124 846.4L125.1 849.2L126.3 852L127.4 854.8L128.7 857.5L130 860.2L131.4 862.9L132.8 865.5L134.3 868.2L135.8 870.7L137.4 873.3L139 875.8L140.7 878.3L142.4 880.7L144.2 883.1L146.1 885.5L148 887.9L149.9 890.2L151.9 892.4L153.9 894.6L156 896.8L158.1 898.9L160.3 901L162.5 903L164.7 905L167 906.9L169.4 908.8L171.8 910.7L174.2 912.5L176.6 914.2L179.1 915.9L181.6 917.5L184.2 919.1L186.7 920.6L189.4 922.1L192 923.5L194.7 924.9L197.4 926.2L200.1 927.5L202.9 928.6L205.7 929.8L208.5 930.9L211.3 931.9L214.1 932.8L217 933.7L219.9 934.6L222.8 935.3L225.7 936.1L228.6 936.7L231.6 937.3L234.5 937.8L237.5 938.3L240.5 938.7L243.5 939.1L246.5 939.3L249.4 939.6L252.4 939.7L255.4 939.8L258.4 939.9L261.5 939.8L264.5 939.7L267.5 939.6L270.4 939.3L273.4 939.1L276.4 938.7L279.4 938.3L282.4 937.8L285.3 937.3L288.3 936.7L291.2 936.1L294.1 935.3L297 934.6L299.9 933.7L302.8 932.8L305.6 931.9L308.4 930.9L311.2 929.8L314 928.6L316.8 927.5L319.5 926.2L322.2 924.9L324.9 923.5L327.5 922.1L330.1 920.6L332.7 919.1L335.3 917.5L337.8 915.9L340.3 914.2L342.7 912.5L345.1 910.7L347.5 908.8L349.9 906.9L352.2 905L354.4 903L356.6 901L358.8 898.9L360.9 896.8L363 894.6L365 892.4L367 890.2L368.9 887.9L370.8 885.5L372.7 883.1L374.5 880.7L376.2 878.3L377.9 875.8L379.5 873.3L381.1 870.7L382.6 868.1L384.1 865.5L385.5 862.9L386.9 860.2L388.2 857.5L389.5 854.8L390.6 852L391.8 849.2L392.9 846.4L393.9 843.6L394.8 840.8L395.7 837.9L396.6 835L397.3 832.1L398.1 829.2L398.7 826.3L399.3 823.3L399.8 820.4L400.3 817.4L400.7 814.4L401.1 811.4L401.3 808.4L401.6 805.5L401.7 802.5L401.8 799.5L401.9 796.5L401.8 793.4L401.7 790.4L401.6 787.4L401.3 784.5L401.1 781.5L400.7 778.5L400.3 775.5L399.8 772.5L399.3 769.6L398.7 766.6L398.1 763.7L397.3 760.8L396.6 757.9L395.7 755L394.8 752.1L393.9 749.3L392.9 746.5L391.8 743.7L390.6 740.9L389.5 738.1L388.2 735.4L386.9 732.7L385.5 730L384.1 727.4L382.6 724.8L381.1 722.2L379.5 719.6L377.9 717.1L376.2 714.6L374.5 712.2L372.7 709.8L370.8 707.4L368.9 705L367 702.7L365 700.5L363 698.3L360.9 696.1L358.8 694L356.6 691.9L354.4 689.9L352.2 687.9L349.9 686L347.5 684.1L345.1 682.2L342.7 680.4L340.3 678.7L337.8 677L335.3 675.4L332.7 673.8L330.1 672.3L327.5 670.8L324.9 669.4L322.2 668L319.5 666.7L316.8 665.4L314 664.3L311.2 663.1L308.4 662L305.6 661L302.8 660.1L299.9 659.2L297 658.3L294.1 657.6L291.2 656.8L288.3 656.2L285.3 655.6L282.4 655.1L279.4 654.6L276.4 654.2L273.4 653.8L270.4 653.6L267.5 653.3L264.5 653.2L261.5 653.1L258.4 653.1Z" fill="#009000"/>
<path d="M258.4 653.1L258.8 653.1L259.2 653.1L259.6 653.1L260 653.1L260.3 653.1L260.7 653.1L261.1 653.1L261.5 653.1L261.8 653.1L262.2 653.1L262.6 653.1L263 653.1L263.3 653.1L263.7 653.1L264.1 653.2L264.5 653.2L264.8 653.2L265.2 653.2L265.6 653.2L266 653.2L266.3 653.3L266.7 653.3L267.1 653.3L267.5 653.3L267.8 653.4L268.2 653.4L268.6 653.4L269 653.4L269.3 653.5L269.7 653.5L270.1 653.5L270.5 653.5L270.8 653.6L271.2 653.6L271.6 653.7L271.9 653.7L272.3 653.7L272.7 653.8L273.1 653.8L273.4 653.8L273.8 653.9L274.2 653.9L274.6 654L274.9 654L275.4 653.2L275.7 653.7L276.1 654.1L276.4 654.2L276.8 654.2L277.2 654.3L277.5 654.3L277.9 654.4L278.3 654.4L278.7 654.5L279 654.5L279.4 654.6L279.8 654.6L280.1 654.7L280.5 654.8L280.9 654.8L281.3 654.9L281.6 654.9L282.5 651.7L282.4 655.1L282.7 655.1L283.2 654.5L283.5 655.3L283.8 655.3L284.2 655.4L284.6 655.2L285 655.5L285.3 655.6L285.7 655.7L286.1 655.5L286.4 655.8L286.8 655.9L287.2 656L287.5 656L287.9 656.1L288.3 656.2L288.6 656.3L289 656.3L289.4 656.4L289.7 656.5L290.2 656.3L290.5 656.7L291 656.2L291.7 654.6L291.6 656.9L291.9 657L292.3 657.1L292.7 657.2L293 657.3L293.4 657.4L293.7 657.5L294.1 657.6L294.5 657.6L294.8 657.7L295.2 657.8L295.6 657.9L295.9 658L296.3 658.1L296.7 658.2L297 658.3L297.4 658.4L297.7 658.5L298.1 658.6L298.5 658.7L298.8 658.8L299.2 659L299.8 658.2L299.9 659.2L300.3 659.3L300.6 659.4L301 659.5L301.5 658.9L301.7 659.7L302 659.8L302.4 660L302.8 660.1L303.3 659.6L303.5 660.3L303.8 660.4L304.2 660.5L304.5 660.7L304.9 660.8L305.3 660.9L305.6 661L306 661.2L306.3 661.3L306.7 661.4L307 661.5L308 659.9L307.7 661.8L308.1 661.9L308.4 662L309 661.6L309.1 662.3L309.5 662.4L310.4 661.1L310.2 662.7L310.5 662.8L310.9 663L311.2 663.1L311.6 663.3L311.9 663.4L312.3 663.5L312.6 663.7L313 663.8L313.3 664L313.7 664.1L314 664.3L314.4 664.4L314.7 664.5L315.1 664.7L315.4 664.8L315.7 665L316.1 665.1L316.4 665.3L316.8 665.4L317.1 665.6L317.5 665.8L318.4 664.7L318.1 666.1L318.9 665.3L318.8 666.4L319.2 666.5L319.5 666.7L319.8 666.9L320.2 667L320.5 667.2L320.9 667.3L321.2 667.5L321.5 667.7L321.9 667.8L322.2 668L322.5 668.2L322.9 668.3L323.2 668.5L323.6 668.6L323.9 668.9L324.2 669L324.6 669.2L324.9 669.4L325.2 669.5L325.6 669.7L327.1 667.7L326.2 670.1L326.5 670.2L326.9 670.3L327.2 670.6L327.5 670.8L327.9 671L328.2 671.2L328.5 671.3L329 671.3L329.2 671.7L329.5 671.9L329.8 672.1L330.1 672.3L330.5 672.5L330.8 672.6L331.1 672.8L331.4 673L331.8 673.2L332.1 673.4L332.4 673.6L332.7 673.8L333.1 674L333.4 674.2L333.7 674.4L334 674.6L334.3 674.8L334.7 675L335 675.2L335.3 675.4L335.9 675.2L335.9 675.8L336.2 676L336.6 676.2L336.9 676.4L337.7 675.8L338.2 675.8L337.8 677L338.1 677.2L338.8 676.8L338.7 677.6L339.1 677.8L339.4 678.1L339.7 678.3L340 678.5L340.3 678.7L341.1 678.1L340.9 679.1L341.5 679L341.5 679.6L341.8 679.8L342.1 680L342.4 680.2L342.7 680.4L344.2 679.1L343.3 680.9L343.6 681.1L343.9 681.3L344.2 681.6L344.6 681.8L344.9 682L345.1 682.2L345.4 682.5L345.7 682.7L346 682.9L346.3 683.1L346.6 683.4L346.9 683.6L347.2 683.8L347.5 684.1L347.8 684.3L348.1 684.5L348.4 684.8L348.7 685L349 685.2L349.3 685.5L349.6 685.7L349.9 686L350.1 686.2L350.4 686.4L350.7 686.7L351 686.9L351.3 687.2L351.6 687.4L351.9 687.7L352.2 687.9L352.4 688.1L352.8 688.3L353 688.6L353.3 688.9L353.6 689.1L353.8 689.4L354.1 689.6L354.4 689.9L354.7 690.1L355 690.4L355.2 690.6L355.5 690.9L355.8 691.1L356.1 691.4L356.3 691.7L356.6 691.9L356.9 692.2L357.2 692.4L357.4 692.7L357.7 692.9L358 693.2L358.2 693.5L358.5 693.7L359.8 692.9L359 694.3L359.3 694.5L359.6 694.8L359.8 695.1L360.9 694.6L360.4 695.6L360.6 695.9L360.9 696.1L361.2 696.4L361.4 696.7L361.7 696.9L362 697.2L363 696.7L362.5 697.7L362.7 698L363 698.3L363.2 698.6L363.5 698.8L363.8 699.1L364 699.4L364.9 699.1L364.5 699.9L364.8 700.2L365 700.5L365.3 700.7L365.5 701.1L365.8 701.3L366 701.6L366.3 701.9L366.5 702.2L366.8 702.5L367 702.7L367.2 703L367.5 703.3L367.7 703.6L368 703.9L368.2 704.2L368.5 704.5L368.7 704.8L368.9 705L369.2 705.3L369.4 705.6L369.7 705.9L369.9 706.2L370.3 706.4L370.4 706.8L370.6 707.1L370.8 707.4L371.1 707.7L371.4 707.9L371.5 708.3L371.8 708.6L372 708.8L372.2 709.2L372.4 709.5L372.7 709.8L372.9 710L373.1 710.3L373.3 710.7L373.6 711L373.8 711.3L374 711.6L374.2 711.9L374.5 712.2L374.7 712.5L374.9 712.8L376.3 712.2L375.3 713.4L375.6 713.7L375.8 714L377.3 713.4L377.6 713.7L376.4 714.9L376.6 715.2L376.8 715.5L377.1 715.8L377.3 716.2L377.5 716.5L377.7 716.8L377.9 717.1L378.1 717.4L378.5 717.6L378.5 718L378.7 718.3L378.9 718.7L379.1 719L379.3 719.3L379.5 719.6L379.7 719.9L379.9 720.2L380.1 720.6L380.3 720.9L381.2 720.8L380.7 721.5L380.9 721.8L381.1 722.2L381.3 722.5L381.5 722.8L381.7 723.1L381.9 723.5L382.1 723.8L382.3 724.1L384 723.5L386.2 722.7L383.7 724.6L383 725.4L384.7 724.9L385 725.1L384.7 725.8L383.9 726.6L386.6 725.6L384.5 727.2L387.3 726.1L385.5 727.5L385.7 727.8L388.7 726.6L385.8 728.6L386.7 728.5L389.8 727.4L388.1 728.7L388.5 728.9L389.1 729L387.3 730.4L389.3 729.8L388.2 730.8L390.1 730.2L389 731.2L386.9 732.7L388.3 732.4L391.6 731.2L390.8 732.1L389.7 733L392.2 732.2L388.2 734.5L390 734.1L390.2 734.4L390.2 734.9L391.5 734.7L392.4 734.7L393.4 734.7L393.5 735.1L390.7 736.7L390.1 737.4L391.7 737.1L394.2 736.4L392.2 737.7L391.8 738.3L394.1 737.8L390.2 739.8L394.1 738.6L392.4 739.7L394.3 739.3L391.3 741L394.9 739.9L394.5 740.5L391.4 742.2L395.4 741L394.3 741.8L392.7 742.9L393.2 743.1L396.6 742.2L393 744L394.6 743.8L392.3 745.1L397.1 743.6L393.3 745.5L394 745.6L395.4 745.5L395.6 745.8L394.5 746.7L396.4 746.4L395.9 747L396.7 747.1L395.4 748L394.6 748.6L398.5 747.7L395.9 749L395.6 749.5L394.2 750.4L397.6 749.6L394.5 751.1L397.3 750.5L395.9 751.4L396.5 751.6L396.5 752L397.6 752L398.8 752.1L395.3 753.6L395.4 753.9L397.7 753.6L397.9 753.9L398.1 754.3L400.1 754.1L399.8 754.6L397.4 755.7L396.6 756.3L398.7 756.1L400 756.1L400.3 756.4L399.6 757L397.5 758L398.7 758.1L401.3 757.8L401 758.3L398.5 759.3L398.7 759.7L397.3 760.4L397.3 760.8L399.2 760.7L400.7 760.7L399.3 761.5L401.7 761.3L401 761.8L398.2 762.9L399 763.1L398.5 763.6L398.1 764.1L401 763.8L399 764.6L400.3 764.7L400 765.2L400.2 765.5L399.8 766L403.1 765.7L403.2 766.1L400.8 767L400.2 767.5L401.9 767.5L401.3 768L403.7 768L399.7 769.1L400.6 769.3L399.4 769.9L402.2 769.8L401.8 770.3L401.5 770.7L399.6 771.4L400.8 771.6L401.2 771.9L404.8 771.7L403.5 772.3L404.6 772.5L402.4 773.3L400.7 773.9L402.1 774.1L403.9 774.2L400.3 775.1L404.3 774.9L400.4 775.9L400.5 776.2L402.1 776.4L400.5 777L404.5 776.8L403.7 777.3L403.3 777.8L402.2 778.3L403.2 778.6L400.8 779.2L403.6 779.3L403.4 779.7L405.1 779.9L402.2 780.6L401.7 781L404.5 781.1L405.4 781.4L405.7 781.8L401.2 782.6L401.9 782.9L402.9 783.2L402.1 783.6L402.6 784L402.7 784.3L406.3 784.4L402.6 785.1L402.3 785.5L401.6 785.9L401.9 786.3L404.8 786.5L403.2 787L406.1 787.2L401.6 787.8L406.1 787.9L402.5 788.5L405.1 788.8L405.2 789.1L405.4 789.5L404.4 790L403.2 790.4L401.9 790.8L404.4 791.1L402.4 791.5L402.4 791.9L401.8 792.3L405 792.6L403.4 793L402.7 793.4L403.7 793.8L402.8 794.2L405.1 794.5L404.6 794.9L405.1 795.3L405.1 795.7L405.5 796.1L404.1 796.5L406.1 796.8L405 797.2L402.9 797.6L406.7 798L405.8 798.4L404.7 798.7L405.8 799.2L405.7 799.5L401.8 799.8L403.3 800.2L404.7 800.7L405.2 801.1L406.6 801.5L405.9 801.9L406.7 802.3L402.9 802.5L404.7 803L402.2 803.2L403.8 803.7L406.6 804.2L401.6 804.3L402.8 804.8L402.2 805.1L404.7 805.6L404.6 806L403.9 806.4L401.5 806.6L405.8 807.3L405.4 807.6L402.6 807.8L406.4 808.5L401.3 808.4L405.4 809.2L401.3 809.2L403.6 809.8L403.9 810.2L405.3 810.7L401.1 810.7L403.7 811.3L405.5 811.9L402 811.9L403.3 812.4L402.1 812.7L403.7 813.3L402.3 813.5L402.1 813.8L402.8 814.3L405.7 815L401.9 815L400.6 815.2L401.9 815.7L401 816L401.2 816.4L403 817L400.6 817.1L402.8 817.8L404.1 818.3L404.5 818.8L400.4 818.6L401 819L401 819.4L403 820.1L404.8 820.8L400.6 820.5L402 821.1L402.8 821.7L402.8 822L402.7 822.4L404.4 823.1L400.5 822.8L400.2 823.1L399.9 823.4L401.9 824.2L403.4 824.9L403.5 825.3L401.6 825.3L398.9 825.2L399.4 825.6L400.8 826.3L400 826.5L399.3 826.8L400.5 827.4L400.1 827.7L400.1 828.1L401.4 828.8L402.2 829.4L401.2 829.5L398.2 829.2L402.7 830.7L400.7 830.6L400.6 831L399.7 831.1L400.4 831.7L398.2 831.6L400.1 832.4L399.4 832.6L398.1 832.7L401.6 834L397.3 833.3L397.3 833.6L401.1 835.1L399 834.9L400 835.6L399.2 835.8L397.2 835.6L401.2 837.1L396.9 836.3L397.5 836.8L398.1 837.4L395.9 837.2L398.7 838.4L400.3 839.3L397 838.7L397.3 839.2L398.5 839.9L400.1 840.8L399.9 841.2L395.1 840L399.5 841.9L394.8 840.8L395.4 841.3L399.3 843L396.2 842.4L395.3 842.5L394.4 842.6L394.1 842.9L394 843.3L395.9 844.3L396.1 844.8L395.9 845.1L394.6 845.1L396.9 846.3L397 846.7L393.1 845.7L393.4 846.2L393.1 846.5L395.1 847.7L396 848.4L395.1 848.5L395.6 849.1L395.2 849.3L396.6 850.3L392.9 849.3L393.2 849.8L392.3 849.9L393.3 850.7L394.5 851.5L391.2 850.6L391.5 851.2L392 851.8L391.3 851.9L393.1 853L391.3 852.7L393.5 854.1L390.5 853.2L390.5 853.6L390.5 854L391.1 854.7L391.3 855.2L391 855.5L390.1 855.5L391.8 856.7L389 855.8L388.8 856.1L390.7 857.4L391.2 858.1L388.4 857.2L388.7 857.8L389.3 858.5L389.8 859.1L389.5 859.4L390.1 860.1L388 859.5L389.7 860.7L389.7 861.2L387.1 860.3L386.7 860.5L386.6 860.9L386.7 861.4L386.2 861.6L386.4 862.1L386.1 862.3L386.9 863.2L385.5 862.9L387 864.1L386.3 864.2L385.3 864L385 864.3L384.7 864.5L385.8 865.6L386 866.1L384.1 865.5L383.9 865.9L383.7 866.2L383.8 866.6L385.7 868.1L383.8 867.5L385 868.6L383 867.9L382.6 868.1L382.9 868.8L382.3 868.8L382.1 869.1L383.9 870.6L381.7 869.8L382 870.4L382.4 871L381.7 871.1L382.4 872L380.7 871.4L380.5 871.7L381 872.5L380.1 872.3L382.2 874.1L383.8 875.6L379.5 873.3L380.2 874.2L379.1 873.9L380.3 875.1L381.4 876.3L380.1 875.9L378.3 875.2L378.1 875.5L377.9 875.8L377.7 876.1L377.5 876.4L377.3 876.7L377.1 877.1L378.4 878.4L376.6 877.7L376.4 878L376.2 878.3L376 878.6L375.8 878.9L375.6 879.2L375.3 879.5L375.1 879.8L374.9 880.1L375.1 880.7L374.5 880.7L374.2 881L374 881.3L373.8 881.6L373.6 881.9L373.3 882.2L373.1 882.6L372.9 882.9L372.7 883.1L372.4 883.4L372.2 883.7L372 884L371.8 884.3L371.5 884.6L371.3 884.9L371.1 885.2L372.1 886.5L370.6 885.8L370.4 886.1L370.1 886.4L369.9 886.7L369.7 887L369.4 887.3L369.2 887.6L368.9 887.9L368.7 888.1L368.5 888.4L368.2 888.7L368.7 889.6L367.7 889.3L367.5 889.6L367.2 889.9L367 890.2L366.8 890.4L366.5 890.7L368.3 892.8L366 891.3L365.8 891.6L365.5 891.8L365.3 892.1L365 892.4L364.8 892.7L364.5 893L364.3 893.2L364 893.5L364.2 894.2L363.5 894.1L363.2 894.3L363 894.7L362.7 894.9L362.5 895.2L362.2 895.4L362 895.7L361.7 896L361.4 896.2L361.2 896.5L360.9 896.8L360.6 897L360.4 897.3L361.4 898.9L359.8 897.8L359.6 898.1L359.5 898.5L359 898.6L358.8 898.9L358.5 899.2L358.2 899.4L358 899.7L357.7 900L357.4 900.2L358.6 902L356.9 900.7L356.6 901L356.3 901.2L356.1 901.5L356.6 902.6L355.5 902L355.2 902.3L355 902.5L356.3 904.6L354.4 903L354.1 903.3L353.8 903.5L353.6 903.8L353.3 904L353 904.3L352.7 904.5L352.4 904.8L352.2 905L351.9 905.2L351.6 905.5L351.3 905.7L352.1 907.3L350.7 906.2L350.4 906.5L350.1 906.7L349.9 906.9L349.6 907.2L349.3 907.4L349 907.7L348.7 907.9L348.4 908.1L348.1 908.4L347.8 908.6L347.5 908.8L347.2 909.1L346.9 909.3L346.6 909.5L346.3 909.8L346 910L345.7 910.2L345.6 910.6L345.1 910.7L344.9 910.9L344.6 911.1L344.2 911.3L343.9 911.6L343.6 911.8L343.3 912L343 912.2L342.7 912.5L342.4 912.7L342.1 912.9L341.8 913.1L341.5 913.3L341.2 913.6L341.2 914.1L340.6 914L340.3 914.2L340 914.4L339.7 914.6L339.4 914.8L339.1 915.2L338.7 915.3L338.4 915.5L338.1 915.7L337.8 915.9L338.4 917.5L337.2 916.3L336.9 916.5L336.6 916.7L336.2 916.9L335.9 917.1L335.6 917.3L335.3 917.5L335 917.7L334.7 917.9L334.3 918.1L334 918.3L333.7 918.5L333.4 918.7L333.1 918.9L333.2 920L332.4 919.3L332.1 919.5L331.8 919.7L331.4 919.9L331.5 920.8L330.8 920.3L330.5 920.4L330.6 921.5L329.8 920.8L329.5 921L329.2 921.2L328.9 921.6L328.7 922L328.2 921.7L327.9 921.9L327.5 922.1L327.2 922.3L327.1 922.8L326.5 922.7L326.5 923.4L326.5 924.1L325.6 923.2L325.2 923.4L324.9 923.5L324.6 923.7L324.2 923.9L323.9 924L323.6 924.2L323.2 924.4L322.9 924.6L322.5 924.7L322.2 924.9L321.9 925.1L321.5 925.2L321.2 925.4L320.9 925.6L320.5 925.7L320.2 925.9L319.8 926L319.5 926.2L319.2 926.4L319.6 928.1L318.5 926.7L318.1 926.8L317.8 927L317.5 927.1L317.1 927.3L316.8 927.5L316.4 927.6L316.1 927.8L315.7 927.9L315.4 928.1L315.1 928.2L314.9 928.7L314.4 928.5L314 928.6L313.7 928.8L313.3 928.9L313 929.1L312.6 929.2L312.3 929.4L311.9 929.5L311.6 929.6L311.2 929.8L310.9 929.9L310.5 930.1L310.2 930.2L310.3 931.4L309.5 930.5L309.1 930.6L308.8 930.7L308.4 930.9L308.1 931L307.7 931.1L307.4 931.2L307 931.4L306.7 931.5L306.3 931.6L306 931.7L305.6 931.9L305.3 932L304.9 932.1L304.5 932.2L304.2 932.4L303.8 932.5L303.6 933.1L303.1 932.7L302.8 932.8L302.4 932.9L302 933.1L301.7 933.2L301.3 933.3L301 933.4L300.7 933.9L300.3 933.6L300.2 934.8L299.5 933.8L299.9 936.5L298.8 934.1L298.5 934.2L298.2 934.7L297.8 934.7L297.4 934.5L297 934.6L296.7 934.7L296.3 934.8L295.9 934.9L295.6 935L295.6 936.4L295.7 938.4L294.5 935.3L294.8 938L293.7 935.4L293.4 935.5L293 935.6L292.9 936.5L292.3 935.8L292.2 936.9L291.6 936L291.2 936.1L290.8 936.1L290.5 936.2L290.1 936.5L289.7 936.4L289.4 936.5L289 936.6L288.6 936.6L288.3 936.7L287.9 936.8L287.5 936.9L287.2 936.9L286.8 937L286.4 937.1L286.1 937.2L286 938.9L285.3 937.3L285 937.4L284.6 937.4L284.2 937.5L283.8 937.6L283.5 937.6L283.1 937.7L282.7 937.8L282.4 938.2L282 937.9L281.6 938L281.3 938L280.9 938.1L280.5 938.1L280.1 938.2L280 939.5L279.4 938.3L279 938.4L278.7 938.4L278.3 938.5L277.9 938.5L277.5 938.6L277.2 938.6L276.8 938.7L276.4 938.7L276.1 938.8L275.7 938.8L275.3 938.9L274.9 938.9L274.6 938.9L274.2 939L273.8 939L273.4 939.1L273.1 939.1L272.7 939.1L272.3 939.2L272.2 941.6L271.6 939.2L271.2 939.3L270.8 939.3L270.4 939.3L270.1 939.4L269.7 939.4L269.3 939.4L269 939.5L268.6 939.5L268.2 939.5L267.8 939.6L267.5 939.6L267.1 939.6L266.7 939.6L266.3 939.6L266 939.7L265.7 941.2L265.2 939.7L264.8 939.7L264.5 939.7L264.1 939.7L263.7 939.8L263.3 939.8L263 939.8L262.6 939.8L262.2 939.8L261.8 940.4L261.5 939.8L261.1 939.8L260.7 939.8L260.3 939.8L260 939.8L259.6 939.8L259.2 939.8L258.8 939.8L258.4 939.9L258.1 939.8L257.7 939.8L257.3 939.8L256.9 939.8L256.6 939.8L256.2 939.8L255.8 939.8L255.4 939.8L255.1 939.8L254.7 939.8L254.3 939.8L253.9 939.8L253.6 939.8L253.2 939.8L252.8 939.7L252.4 939.7L252.1 939.7L251.7 939.7L251.3 939.7L250.9 939.7L250.6 939.6L250.2 939.6L249.8 939.6L249.4 939.7L249.1 939.5L248.7 939.5L248.3 939.5L247.9 939.5L247.6 939.4L247.2 939.8L246.8 939.4L246.5 939.3L246.1 939.4L245.7 939.3L245.3 939.2L245 939.2L244.6 939.2L244.2 939.1L243.8 939.1L243.5 939.1L243.1 939L242.7 939L242.3 938.9L242 938.9L241.6 938.9L241.2 938.8L240.8 939.1L240.5 938.7L240.1 938.7L239.7 938.6L239.4 938.6L239 938.5L238.6 938.5L238.2 938.4L237.9 938.4L237.5 938.6L237.1 938.3L236.8 938.2L236.4 938.1L236 938.1L235.6 938L235.3 938L234.9 937.9L234.5 937.8L234.2 937.8L233.8 937.7L233.4 937.6L233.1 937.6L232.6 937.8L232.3 937.4L231.9 937.4L231.6 937.3L231.2 937.2L230.8 937.2L230.5 937.1L230.1 937L229.7 936.9L229.4 936.9L229 936.8L228.6 936.7L228.3 936.6L227.9 936.6L227.5 936.5L227.2 936.4L226.8 936.3L226.2 937.3L226.1 936.1L225.7 936.1L225.3 936L224.7 937L224.6 935.8L224.1 936.4L223.9 935.6L223.5 935.5L223.2 935.4L222.8 935.3L222.4 935.3L221.5 937.4L221.7 935.1L221.2 935.4L221 934.9L220.6 934.8L220.2 934.7L219.9 934.6L219.5 934.5L219.2 934.4L218.8 934.3L218.4 934.2L218.1 934.1L217.7 933.9L217.4 933.8L217 933.7L216.6 933.6L215.5 936.1L215.9 933.4L215.6 933.3L215.2 933.2L214.9 933.1L214.5 932.9L214.1 932.8L213.7 933L213.4 932.6L213.1 932.5L212.7 932.4L211.8 934L212 932.1L211.6 932L211.3 931.9L210.9 931.7L210.6 931.6L210.2 931.5L209.9 931.4L209.5 931.2L209.2 931.1L208.8 931L208.5 930.9L208.1 930.7L207.8 930.6L207.4 930.5L207.1 930.3L206.7 930.2L206.4 930.1L206 929.9L205.7 929.8L205.3 929.6L205 929.5L204.6 929.4L204.3 929.2L203.9 929.1L203.6 928.9L203.2 928.8L202.9 928.6L202.5 928.5L202.2 928.4L201.8 928.2L201.5 928.1L201.2 927.9L200.8 927.8L200.5 927.6L200.1 927.5L199.8 927.3L199.4 927.1L199.1 927L198.8 926.8L198.4 926.7L198.1 926.5L197.7 926.4L197.4 926.2L197.1 926L196.7 925.9L196.4 925.7L196 925.6L195.7 925.4L194 927.9L193.7 927.8L192.5 929.4L192.8 927.8L194 924.6L193.7 924.4L193.2 924.4L191.9 926.3L192.5 924.1L191.8 924.7L191.1 925.3L190.7 925.2L190.4 925L188.7 927.4L190.5 923.1L190.1 923.1L189.3 923.9L189 923.6L187.6 925.2L187.9 923.9L187.1 924.6L186.5 925L187.3 922.8L187.7 921.2L187.4 921L186.1 922.5L185.3 923.1L186.4 920.4L184.3 923.4L184.1 922.9L184.8 921.1L185.1 919.7L184.8 919.5L181.9 923.6L181.6 923.4L181.6 922.5L183.5 918.7L181.3 921.7L181.1 921.2L182.5 918.2L180.2 921.2L181.9 917.7L178.9 921.7L179.5 920.1L181 917.1L178.5 920.2L179.5 918.1L179.7 917L179.3 916.9L178.7 917.2L178.4 917L178.3 916.4L177.4 917L176.5 917.7L177.8 915.1L175.2 918.2L176.1 916.2L175 917.2L175.1 916.3L176.2 914.2L173.1 917.9L172.9 917.5L174.6 914.4L173.9 914.8L173.6 914.5L173 914.7L173.4 913.4L172.2 914.5L173.5 912.1L171.8 913.7L170.2 915.3L170.2 914.7L171.6 912.2L169.8 913.9L168.7 914.7L170.6 911.5L169.8 911.9L170.5 910.5L170.6 909.8L167.3 913.3L169.1 910.4L167.5 911.8L167.8 910.8L168.2 909.7L167.6 909.8L166.9 910.1L167 909.4L166.8 909L164.5 911.3L167 907.6L166.5 907.6L165.8 907.9L164.9 908.3L166.2 906.2L164.1 908.1L164.8 906.7L163.1 908.1L161.8 909L163.6 906.3L163.4 905.9L160.9 908.3L163.9 904.3L162.8 904.9L162.2 905.1L160.4 906.4L159.8 906.6L160.7 905L160.9 904.2L160 904.6L160.1 904L160.3 903.2L159.9 903.1L159.9 902.5L158.9 903L156.9 904.6L158.9 901.9L158.7 901.6L159.2 900.5L158.2 901L155.9 902.8L157.7 900.4L158.4 899.2L158.1 898.9L156.3 900.2L156.4 899.6L155.8 899.7L156.9 898L155.8 898.5L156.5 897.3L155 898.3L154.1 898.7L155.7 896.5L154.9 896.8L152.8 898.3L153.5 897.1L152.4 897.6L151 898.4L153.3 895.7L151.6 896.8L152.3 895.6L152.6 894.8L150.7 896.1L152.3 894.1L150.5 895.2L151.1 894.1L150 894.6L148.9 895.1L147.9 895.5L148.9 894.1L148.6 893.8L150.9 891.3L148.6 892.8L149.2 891.7L147.7 892.5L149.9 890.2L149 890.4L148.1 890.7L147.9 890.4L145.1 892.2L146 891L146.5 890.1L148.2 888.1L148 887.9L145.3 889.6L146.5 888.1L146 888L147 886.7L144.1 888.5L145.3 887.1L145.4 886.5L144.3 886.9L143.6 887L144.6 885.7L144.2 885.5L142.3 886.5L142.6 885.8L143.5 884.7L142.1 885.2L144.2 883.1L140.8 885.2L140.7 884.8L143.2 882.5L141.3 883.4L140.8 883.4L142.6 881.6L140.3 882.7L138.4 883.7L140.3 881.9L141.4 880.6L140.2 880.9L141.6 879.5L140.1 880.1L139.9 879.8L140.9 878.6L138 880.2L136.4 880.8L139.2 878.4L139.7 877.6L138.5 878L136.4 879L138.7 876.9L139.2 876.1L137.7 876.7L135.5 877.7L136.3 876.7L137.2 875.7L134.1 877.2L137.8 874.4L133.8 876.5L137.6 873.6L134.5 875.1L136.7 873.3L135.8 873.4L132.5 875L135.7 872.6L133.3 873.6L133.6 872.9L136 871.1L134.9 871.3L135.6 870.4L135.4 870.1L135.2 869.8L135 869.4L134.8 869.1L131.9 870.4L134.5 868.5L134.3 868.2L132.9 868.5L133.9 867.5L133.7 867.2L133.5 866.8L133.3 866.5L133 866.3L133 865.9L132.8 865.5L132.6 865.2L132.4 864.9L132.2 864.5L132.1 864.2L131.9 863.9L131.1 863.9L131.5 863.2L130.7 863.3L131.2 862.6L131 862.2L130.9 861.9L130.7 861.6L130.5 861.2L130.3 860.9L130.2 860.5L130 860.2L129.8 859.9L129.7 859.5L129 859.5L129.3 858.9L129.2 858.5L129 858.2L128.9 857.8L127.2 858.2L128.5 857.2L128.4 856.8L128.2 856.5L128 856.2L127.9 855.8L127.8 855.5L127.4 855.2L127.4 854.8L127.3 854.4L127.1 854.1L127 853.7L126.8 853.4L126.7 853.1L125.4 853.2L126.4 852.4L126.3 852L126.1 851.7L126 851.3L125.8 851L125.7 850.6L125.5 850.3L125.4 849.9L125.3 849.6L125.1 849.2L125 848.9L124.8 848.5L124.7 848.2L124.6 847.8L123.2 848L124.3 847.1L122.2 847.5L124 846.4L123.9 846.1L123.8 845.7L123.7 845.4L123.5 845L123.4 844.7L123.3 844.3L121.7 844.5L123 843.6L122.9 843.3L122.8 842.9L122.7 842.5L122.5 842.2L122.4 841.8L122.3 841.5L122.2 841.1L122.1 840.8L122 840.4L121.8 840L121.7 839.7L120.5 839.7L121.5 839L120.9 838.8L121.3 838.3L121.2 837.9L120.1 837.8L121 837.2L120.8 836.8L120.7 836.5L120.6 836.1L120.5 835.7L120.4 835.4L120.3 835L120.2 834.7L120.1 834.3L120 833.9L119.9 833.6L116.3 834.1L119.7 832.8L119.6 832.5L119.6 832.1L118.6 832L119 831.5L119.3 831L119.2 830.7L119.1 830.3L119 829.9L118.9 829.6L118.8 829.2L118.8 828.8L118.7 828.5L118.6 828.1L118.5 827.7L118.4 827.4L118.3 827L118.3 826.6L118.2 826.3L118.1 825.9L118 825.5L118 825.2L117.9 824.8L117.8 824.4L117.7 824.1L117.7 823.7L116.4 823.5L117.5 823L114.6 823.1L117.4 822.2L117.3 821.8L117.3 821.5L117.2 821.1L117.1 820.7L117.1 820.4L117 820L115.6 819.8L115 819.6L116.8 818.9L114.5 818.9L116.7 818.1L116.6 817.8L116.6 817.4L116.5 817L116.5 816.7L116.4 816.3L116.4 815.9L116.3 815.5L116.3 815.2L116.2 814.8L116.2 814.4L116.1 814.1L116.1 813.7L116 813.3L115.3 813L116 812.6L114.8 812.3L115.9 811.8L115.8 811.4L115.8 811.1L115.8 810.7L115.7 810.3L115.7 809.9L115.7 809.6L115.6 809.2L115.6 808.8L115.6 808.4L115.5 808.1L115.5 807.7L115.5 807.3L115.4 807L115.4 806.6L115.4 806.2L114.3 805.9L115.3 805.5L115.3 805.1L115.3 804.7L115.3 804.3L115.2 804L115.2 803.6L115.2 803.2L115.2 802.8L115.2 802.5L115.2 802.1L115.1 801.7L115.1 801.3L115.1 801L115.1 800.6L115.1 800.2L115.1 799.8L115.1 799.5L115.1 799.1L115.1 798.7L115.1 798.3L115.1 798L115.1 797.6L114.6 797.2L115.1 796.8L115 796.5L115.1 796.1L115.1 795.7L114.9 795.3L115.1 794.9L115.1 794.6L115.1 794.2L115.1 793.8L115.1 793.4L115.1 793.1L115.1 792.7L115.1 792.3L115.1 791.9L115.1 791.6L114.8 791.2L115.2 790.8L115 790.4L115.2 790.1L115.2 789.7L115.2 789.3L115.2 788.9L113.8 788.5L115.3 788.2L114.3 787.8L111.6 787.2L115.4 787.1L114.7 786.6L114.2 786.2L114.5 785.9L115.5 785.6L115.5 785.2L113.8 784.7L115.6 784.5L113.3 783.9L115.6 783.7L113.8 783.2L115.2 782.9L115.7 782.6L115.2 782.2L115.8 781.8L114.8 781.3L115.9 781.1L115.9 780.7L116 780.3L116 780L115.3 779.5L114 779L116.1 778.8L114.5 778.3L116.2 778.1L116 777.7L116.3 777.4L116.4 777L114.6 776.4L114.9 776L116 775.8L116.6 775.5L113.4 774.6L116.7 774.8L116.4 774.3L116.8 774L116.2 773.5L116.9 773.3L117 772.9L116.5 772.4L116.4 772L114.4 771.3L113.7 770.8L117.3 771.1L114.2 770.1L117.5 770.3L117.5 769.9L117.6 769.6L117.7 769.2L117.7 768.8L114 767.7L117.7 768.1L118 767.7L114.4 766.6L115.2 766.4L117.4 766.5L118.3 766.3L118.3 765.9L118.4 765.5L117.8 765L118.6 764.8L118.3 764.3L117.7 763.8L118.8 763.7L118.9 763.3L114.2 761.8L117.7 762.3L115.7 761.4L116.5 761.2L119.4 761.5L118.9 761L117 760.1L116.4 759.6L119.7 760.1L119 759.5L119.9 759.3L116.8 758.1L120.1 758.6L115.7 757L119.1 757.5L119.2 757.2L117.7 756.4L118.8 756.3L115.9 755L119.1 755.6L118.7 755.1L121.1 755.4L119.1 754.4L121.3 754.6L120.1 753.9L119.9 753.4L121.6 753.6L120.4 752.8L121.8 752.9L120.3 752L117.3 750.6L122 751.7L117.9 750L122.4 751.1L120.6 750L119.1 749.1L121.2 749.5L118.7 748.2L119.6 748.1L120.2 747.9L122.4 748.3L123.1 748.1L119.8 746.5L121.5 746.7L122.8 746.8L121.8 746L123.9 746.4L121.1 745L124.1 745.7L123.7 745.1L123.3 744.6L124.5 744.6L120.2 742.5L123.4 743.4L123.7 743.1L123 742.4L125.4 743L120.9 740.7L124.1 741.6L124.4 741.3L123.6 740.6L124.3 740.5L125.7 740.6L125.8 740.3L125.2 739.6L126.7 739.8L125.5 738.9L127 739.2L124.8 737.8L124.9 737.4L124.1 736.6L123 735.7L126.3 736.8L126 736.2L125.6 735.6L125 734.9L124.9 734.5L127.5 735.3L128.7 735.4L127.6 734.5L129 734.7L129.2 734.4L129.2 734L128.9 733.4L127.4 732.3L127.8 732L129.5 732.4L129.5 732L127.8 730.7L129.2 731L129.7 730.9L129.7 730.4L129.5 729.9L128.5 729L129.5 729.1L128.9 728.3L131 728.9L127.6 726.7L131.4 728.3L129.4 726.8L132.2 727.9L130.5 726.6L129 725.3L129 724.8L131.6 725.8L131.9 725.6L131.3 724.8L130.8 724.1L132.4 724.6L134 725L133 724L133.7 724L133 723.2L133.7 723.1L134.4 723.1L130.9 720.6L133.4 721.6L132.2 720.4L135.7 722.1L133.3 720.2L134.1 720.2L134.5 720L134.1 719.4L135.8 720L133.1 717.8L132.9 717.3L134.7 717.9L134.9 717.6L136.3 718L135.7 717.2L136.6 717.3L136.2 716.6L138.6 717.7L136.5 715.9L138.9 717L137.3 715.5L136.9 714.8L136.7 714.1L138.1 714.7L136.5 713.1L136.1 712.4L139.5 714.2L140.1 714.2L138.8 712.8L139.2 712.6L141.3 713.7L139.1 711.7L141.2 712.7L139.2 710.7L140.2 711L139.6 710.1L141.3 710.8L138.9 708.6L142.3 710.7L141.9 709.9L139.5 707.7L143.1 709.9L141.9 708.4L142.9 708.8L140.7 706.6L141.9 707L142.1 706.7L145.1 708.5L142.9 706.3L144.6 707.1L143.9 706.2L144 705.7L145.2 706.2L144.6 705.3L143.6 704L144.8 704.5L146.7 705.5L144.7 703.3L146.2 704.1L144.4 702.1L146.7 703.5L147.8 703.9L147.2 702.9L145.4 700.9L147.3 702L146 700.4L146.9 700.6L146.1 699.5L149.7 702.1L149 701L147.5 699.1L147.1 698.3L148.5 699L149.6 699.5L151.6 700.8L151.9 700.5L152.1 700.2L152.4 699.9L152.6 699.7L152.9 699.4L153.1 699.1L153 698.5L153.7 698.6L153.9 698.3L154.2 698L154.4 697.7L154.7 697.5L154.9 697.2L155.2 696.9L155.5 696.7L155.7 696.4L155.6 695.8L156.3 695.9L156.5 695.6L155.7 694.3L157.1 695.1L157.3 694.8L157.6 694.5L157.9 694.3L158.1 694L158.4 693.7L158.7 693.5L158.9 693.2L159 692.7L159.5 692.7L159.7 692.4L160 692.2L160.3 691.9L160.6 691.7L160.8 691.4L161.1 691.1L161.4 690.9L161.7 690.6L161.9 690.4L162.2 690.1L162.5 689.9L162.8 689.6L163.1 689.4L162.9 688.7L163.6 688.9L163.9 688.6L164.2 688.4L164.5 688.1L164.7 687.9L165 687.7L165.3 687.4L165.1 686.6L165.9 686.9L166.2 686.7L166.5 686.4L165.7 685L166.9 685.8L166.2 684.4L167.6 685.5L167.9 685.2L168.2 685L168.5 684.8L168.8 684.5L169.1 684.3L169.4 684.1L169.7 683.8L170 683.6L170.3 683.4L169.4 681.6L170.9 682.9L171.2 682.7L171.5 682.5L171.8 682.2L172 682L172.3 681.8L171.6 680.2L173 681.3L173.3 681.1L173.6 680.9L173.9 680.7L174.2 680.4L174.5 680.2L174.8 680L172.8 676.6L172.9 676.1L173.9 676.8L174.2 676.6L175.4 677.6L175 676.3L176.9 678.5L174.8 674.8L176.4 676.4L175.4 674.2L175.4 673.5L177.6 676.2L177.9 675.9L178 675.4L177.6 674L177.5 673.2L178.4 673.9L178.5 673.4L178.3 672.4L178.8 672.4L180.9 675L181.6 675.4L180.1 672.3L179.7 670.9L181.9 673.6L181.2 671.9L183.2 674.4L183.5 674.2L182.8 672.2L183.3 672.3L181.9 669.3L182.7 669.8L183.8 670.9L183.2 669.2L183.8 669.4L184.2 669.3L186.3 672.2L185.7 670.4L186.4 670.9L186.8 670.9L186.9 670.3L186.6 669L187.6 670L187.9 669.8L186.7 666.8L188 668.2L189 669.4L187.6 666L190.2 670L190.4 669.4L188.9 666L189.2 665.6L191.7 669.5L190.3 666.1L191.3 667.3L192.7 669L191.4 665.6L192.7 667.4L192.8 666.8L191.8 663.9L193.6 666.7L192.9 664.3L194.5 666.7L195.1 667.2L195.6 667.3L194.5 664.2L195.9 666.1L196.1 665.6L197.1 666.9L196.9 665.7L196 662.9L196.4 662.9L197 663.1L197.6 663.5L197.1 661.6L199.4 665.8L199 664L199 663L199.6 663.4L199.8 662.8L199.2 660.4L200 661.5L201.7 664.4L202.2 664.5L202 663.1L201.5 661L201.3 659.6L201.7 659.3L203.4 662.5L203.4 661.6L203.9 661.7L204.7 662.7L204.8 662.1L205 661.4L205.7 662.2L206.4 662.8L206.5 662L207.1 662.6L205.7 658L206.6 659.2L208 661.8L206.9 657.9L208 659.6L208.4 659.6L208.2 657.9L209.7 661L209.6 659.6L210.6 661.3L210.3 659.4L211.3 661L210.8 658.5L211.1 658L211 656.7L212.4 659.5L212.3 658.3L212.3 657L212.9 657.5L213.1 656.9L213.9 658.3L214.3 658.1L214.1 656.2L214.8 657.2L215.9 659.5L216 658.5L216.1 657.4L217 659.2L216.4 656L217.2 657.2L218.1 658.8L218.3 658.3L218.3 656.8L219.2 658.5L219.5 658.4L219.9 658.3L220.2 658.2L220.6 658.1L220.8 657.3L221.3 657.9L221.7 657.8L222.1 657.7L222.4 657.6L222.8 657.6L223.1 657.4L223.5 657.4L223.9 657.3L224.2 657.2L224.2 655.3L225 657L225.3 656.9L225.6 656.5L226 656.6L226.2 655.7L226.8 656.6L227.2 656.5L227.5 656.2L227.7 655.5L228.3 656.3L228.6 656.2L229 656.1L229.4 656L229.6 655.1L230 655.4L230.5 655.7L230.8 655.7L231.2 655.7L231.3 654.1L231.9 655.5L232.3 655.5L232.6 655.2L233.1 655.3L233.4 655.3L233.8 655.2L234.1 654.7L234.5 655.1L234.9 655L235.1 653.7L235.6 654.9L236 654.7L236.4 654.8L236.8 654.7L237.1 654.6L237.5 654.6L237.9 654.5L238.2 654.5L238.6 654.4L239 654.4L239.4 654.3L239.7 654.3L240.1 654.2L240.5 654.2L240.8 654.1L241 652.2L241.6 654L242 654L242.3 654L242.7 653.9L243.1 653.9L243.5 653.8L243.8 653.7L244.2 653.8L244.6 653.7L245 653.7L245.3 653.7L245.7 653.6L246.1 653.6L246.5 653.6L246.8 653.5L247.2 653.5L247.6 653.5L247.9 653.4L248.3 653.4L248.6 652.4L248.9 651.2L249.4 653.3L249.8 653.3L250.2 653.3L250.6 653.3L250.9 653.2L251.3 653.2L251.7 653.2L252.1 653.2L252.4 653.2L252.8 653.2L253.2 652.3L253.6 653.1L253.9 653.1L254.3 651.3L254.7 653.1L255.1 653.1L255.4 653.1L255.8 649.6L256.2 651.8L256.6 653.1L256.9 653.1L257.3 653.1L257.7 653.1L258.1 653.1L258.4 653.1L258.4 653.1L255.4 653.1L252.4 653.2L249.4 653.3L246.5 653.6L243.5 653.8L240.5 654.2L237.5 654.6L234.5 655.1L231.6 655.6L228.6 656.2L225.7 656.8L222.8 657.6L219.9 658.3L217 659.2L214.1 660.1L211.3 661L208.5 662L205.7 663.1L202.9 664.3L200.1 665.4L197.4 666.7L194.7 668L192 669.4L189.4 670.8L186.7 672.3L184.2 673.8L181.6 675.4L179.1 677L176.6 678.7L174.2 680.4L171.8 682.2L169.4 684.1L167 686L164.7 687.9L162.5 689.9L160.3 691.9L158.1 694L156 696.1L153.9 698.3L151.9 700.5L149.9 702.7L148 705L146.1 707.4L144.2 709.8L142.4 712.2L140.7 714.6L139 717.1L137.4 719.6L135.8 722.2L134.3 724.8L132.8 727.4L131.4 730L130 732.7L128.7 735.4L127.4 738.1L126.3 740.9L125.1 743.7L124 746.5L123 749.3L122.1 752.1L121.2 755L120.3 757.9L119.6 760.8L118.8 763.7L118.2 766.6L117.6 769.6L117.1 772.5L116.6 775.5L116.2 778.5L115.8 781.5L115.6 784.5L115.3 787.4L115.2 790.4L115.1 793.4L115 796.5L115.1 799.5L115.2 802.5L115.3 805.5L115.6 808.4L115.8 811.4L116.2 814.4L116.6 817.4L117.1 820.4L117.6 823.3L118.2 826.3L118.8 829.2L119.6 832.1L120.3 835L121.2 837.9L122.1 840.8L123 843.6L124 846.4L125.1 849.2L126.3 852L127.4 854.8L128.7 857.5L130 860.2L131.4 862.9L132.8 865.5L134.3 868.2L135.8 870.7L137.4 873.3L139 875.8L140.7 878.3L142.4 880.7L144.2 883.1L146.1 885.5L148 887.9L149.9 890.2L151.9 892.4L153.9 894.6L156 896.8L158.1 898.9L160.3 901L162.5 903L164.7 905L167 906.9L169.4 908.8L171.8 910.7L174.2 912.5L176.6 914.2L179.1 915.9L181.6 917.5L184.2 919.1L186.7 920.6L189.4 922.1L192 923.5L194.7 924.9L197.4 926.2L200.1 927.5L202.9 928.6L205.7 929.8L208.5 930.9L211.3 931.9L214.1 932.8L217 933.7L219.9 934.6L222.8 935.3L225.7 936.1L228.6 936.7L231.6 937.3L234.5 937.8L237.5 938.3L240.5 938.7L243.5 939.1L246.5 939.3L249.4 939.6L252.4 939.7L255.4 939.8L258.4 939.9L261.5 939.8L264.5 939.7L267.5 939.6L270.4 939.3L273.4 939.1L276.4 938.7L279.4 938.3L282.4 937.8L285.3 937.3L288.3 936.7L291.2 936.1L294.1 935.3L297 934.6L299.9 933.7L302.8 932.8L305.6 931.9L308.4 930.9L311.2 929.8L314 928.6L316.8 927.5L319.5 926.2L322.2 924.9L324.9 923.5L327.5 922.1L330.1 920.6L332.7 919.1L335.3 917.5L337.8 915.9L340.3 914.2L342.7 912.5L345.1 910.7L347.5 908.8L349.9 906.9L352.2 905L354.4 903L356.6 901L358.8 898.9L360.9 896.8L363 894.6L365 892.4L367 890.2L368.9 887.9L370.8 885.5L372.7 883.1L374.5 880.7L376.2 878.3L377.9 875.8L379.5 873.3L381.1 870.7L382.6 868.1L384.1 865.5L385.5 862.9L386.9 860.2L388.2 857.5L389.5 854.8L390.6 852L391.8 849.2L392.9 846.4L393.9 843.6L394.8 840.8L395.7 837.9L396.6 835L397.3 832.1L398.1 829.2L398.7 826.3L399.3 823.3L399.8 820.4L400.3 817.4L400.7 814.4L401.1 811.4L401.3 808.4L401.6 805.5L401.7 802.5L401.8 799.5L401.9 796.5L401.8 793.4L401.7 790.4L401.6 787.4L401.3 784.5L401.1 781.5L400.7 778.5L400.3 775.5L399.8 772.5L399.3 769.6L398.7 766.6L398.1 763.7L397.3 760.8L396.6 757.9L395.7 755L394.8 752.1L393.9 749.3L392.9 746.5L391.8 743.7L390.6 740.9L389.5 738.1L388.2 735.4L386.9 732.7L385.5 730L384.1 727.4L382.6 724.8L381.1 722.2L379.5 719.6L377.9 717.1L376.2 714.6L374.5 712.2L372.7 709.8L370.8 707.4L368.9 705L367 702.7L365 700.5L363 698.3L360.9 696.1L358.8 694L356.6 691.9L354.4 689.9L352.2 687.9L349.9 686L347.5 684.1L345.1 682.2L342.7 680.4L340.3 678.7L337.8 677L335.3 675.4L332.7 673.8L330.1 672.3L327.5 670.8L324.9 669.4L322.2 668L319.5 666.7L316.8 665.4L314 664.3L311.2 663.1L308.4 662L305.6 661L302.8 660.1L299.9 659.2L297 658.3L294.1 657.6L291.2 656.8L288.3 656.2L285.3 655.6L282.4 655.1L279.4 654.6L276.4 654.2L273.4 653.8L270.4 653.6L267.5 653.3L264.5 653.2L261.5 653.1L258.4 653.1Z" fill="#8e0096"/>
<path d="M258.4 665L258.8 665.4L259.1 665.2L259.4 665.1L259.7 665L260 665.6L260.3 666.5L260.7 666.2L261 665.4L261.3 665.6L261.6 665.5L261.9 665L262.3 664.4L262.6 665.8L262.9 665.7L263.2 666.2L263.5 665.8L263.9 664.5L264.2 664.8L264.5 664.6L264.8 664.8L265.1 665.3L265.4 666.3L265.7 665.6L266.1 665.1L266.4 665.8L266.7 665.8L267 664.9L267.3 666L267.6 666.3L267.9 666.1L268.3 665.2L268.6 665.1L268.9 666L269.2 665.5L269.5 666L269.8 666.1L270.2 665.4L270.4 666.9L270.8 666.2L271.1 666L271.4 666.2L271.8 665.4L272 666.4L272.3 666.9L272.7 666.2L272.9 667.1L273.3 666L273.7 666L273.8 667.3L274.3 665.6L274.6 666.3L274.9 666L275.3 665.6L275.7 665L275.9 666.1L276.2 666.5L276.5 666.1L276.8 666.7L277.1 666.4L277.3 667.3L277.8 666L278.1 666.3L278.4 666.7L278.7 666.7L279.1 666.3L279.3 667.1L279.5 667.7L279.9 667.1L280.2 667L280.6 666.6L280.7 667.8L281.1 667.5L281.4 667.5L281.8 667.4L282.1 667.6L282.4 667.3L282.6 668L282.9 668.3L283.5 666.7L283.5 668.7L283.6 669.4L284.2 668.4L284.4 668.9L285 667.4L285.4 667.2L285.6 667.5L285.5 669.7L286.3 667.6L286.3 669.1L286.8 668.3L287.1 668.2L287.4 668.5L287.8 667.9L287.7 669.8L288.2 669.2L288.6 668.8L288.9 669.1L289.3 668.6L289.3 670.1L289.9 668.9L290.3 668.6L290.3 670L290.9 669L291.4 668.1L291.3 669.8L291.7 669.4L291.8 670.5L292.3 669.8L292.6 669.7L293 669.5L293.2 670L293.5 670.3L293.9 669.9L293.9 670.9L294.7 669.5L295 669.4L294.7 671.6L295.5 670L295.6 670.9L295.9 670.8L296.4 670.4L296.9 669.9L296.8 671.1L297.2 671L297.3 671.9L297.5 672.3L298.3 670.6L298.3 671.7L298.6 671.8L298.9 672L299.1 672.3L299 673.8L300 671.8L300 672.7L300.3 672.9L300.6 672.8L301 672.7L301.5 672.1L301.6 672.9L302.1 672.5L302.4 672.4L302.6 672.8L302.7 673.5L303.2 673.1L303.7 672.6L303.6 673.8L304 673.8L304.4 673.5L304.4 674.3L305 673.8L305.5 673.4L305.8 673.4L305.9 674L306.4 673.7L306.7 673.8L306.9 674.2L307.2 674.3L307.5 674.2L307.6 674.9L308.1 674.4L308.1 675.4L308.3 675.7L309 674.9L308.9 675.9L309.3 675.6L309.5 676L309.6 676.6L310.3 675.9L310.5 676.3L310.9 675.9L310.8 677L311.3 676.8L311.9 676.1L312 676.6L312 677.4L312.4 677.3L312.8 677.3L312.6 678.5L313.4 677.5L314 676.8L314.5 676.6L314.2 678L314.6 677.8L314.7 678.4L315.3 677.9L315.5 678.2L315.9 678.1L316.1 678.5L316.1 679.2L316.6 678.9L316.9 679L317.1 679.2L316.9 680.3L317.5 679.9L317.6 680.4L318.1 680.2L318.6 679.9L319.3 679.1L319.4 679.7L319.4 680.4L319.6 680.6L319.4 681.7L320.1 681L320.6 680.7L321 680.7L321.2 680.9L321.5 681.1L321.4 681.9L322.1 681.3L322.2 681.8L323.1 680.9L322.7 682.1L322.7 682.8L323.2 682.6L323.8 682.3L323.8 682.9L323.9 683.4L323.8 684L325.1 682.6L325 683.2L325.4 683.3L325.5 683.7L325.8 683.8L326.2 683.7L326.5 683.9L325.6 686L326.1 685.7L326.5 685.7L327.4 684.9L327.1 685.9L327.6 685.7L328.2 685.4L328.8 684.9L329 685.3L329.3 685.4L328.8 686.8L329.5 686.3L329.9 686.3L329.7 687.1L330.4 686.7L330.4 687.2L331.1 686.8L330.8 687.7L331.6 687.1L331.8 687.4L332.1 687.6L331.9 688.4L332.6 687.9L332.8 688.1L332.9 688.6L333.3 688.5L333.5 688.8L333.4 689.6L333.9 689.3L333.8 690L334.5 689.6L335.1 689.3L335.2 689.8L334.9 690.7L335.8 690L335.9 690.3L335.7 691.2L335.5 692L336.4 691.4L336.4 691.9L336.7 691.9L337.1 692L337 692.6L338.4 691.3L337.9 692.4L337.8 693.1L339.2 691.8L338.6 693.1L340.7 691L340 692.3L340.4 692.4L340.1 693.2L340.1 693.7L340.7 693.5L341.1 693.6L341.1 694L340.8 694.9L341.3 694.9L341.9 694.5L342 695L342.2 695.2L342 696L343.2 695L341.9 697L342.5 696.8L343.2 696.5L343.2 697L343.6 697L344.1 696.9L343.7 697.8L344.2 697.8L345 697.3L345 697.8L345.5 697.7L344.8 699L345 699.3L345.5 699.2L346.4 698.6L346.7 698.7L346.8 699.1L346.5 699.9L347.1 699.7L347.3 700L347.3 700.4L347.5 700.7L347.9 700.8L347.9 701.2L349.3 700.2L348.9 701.1L348.4 702L349.3 701.5L349 702.3L349.3 702.5L349.5 702.7L349.4 703.3L349.9 703.2L350.4 703.1L350.3 703.7L350.9 703.6L350.9 704L351.5 703.9L350.9 704.8L351.9 704.3L352.5 704.2L352.6 704.5L352.8 704.8L352.9 705.1L353.4 705.1L353.1 705.9L353 706.4L352.8 707L353.6 706.6L354.3 706.5L354.7 706.5L353.8 707.8L355.2 706.9L355.5 707.1L355.2 707.8L355.5 708L355.6 708.2L355.3 708.9L356.1 708.6L356.6 708.7L355.6 709.9L356.4 709.6L357.3 709.3L356 710.8L357.3 710.1L356.9 710.9L357 711.2L357.5 711.2L357.6 711.6L358.2 711.5L359.4 710.9L358.3 712.2L358.7 712.3L359.7 711.9L358.6 713.2L359.5 712.9L358.7 713.9L359.4 713.7L359.5 714.1L360.5 713.7L360.5 714.1L360.6 714.4L361.1 714.4L360.5 715.3L361.2 715.2L361.5 715.3L361.4 715.8L361.8 715.9L362.5 715.7L362.7 716L362.9 716.3L361.7 717.5L363 717L363.5 717L363.9 717.1L363.6 717.7L363.6 718.1L364.1 718.1L364.1 718.5L363.5 719.3L363.6 719.7L365.2 718.9L364.2 720L365.8 719.3L364.6 720.5L367 719.2L365.8 720.4L367.5 719.6L366.4 720.7L366.1 721.4L366.2 721.7L366.7 721.7L366.1 722.5L366.8 722.5L366.6 723L366.9 723.1L367.6 723.1L367.6 723.5L367.8 723.7L368.8 723.4L367.8 724.4L368.7 724.3L368.2 724.9L368.1 725.4L368.7 725.4L368.7 725.7L369 725.9L369.4 726.1L369.6 726.3L369.6 726.6L369.7 727L370 727.2L369.1 728.1L370.1 727.8L371.1 727.6L369.7 728.8L370.9 728.5L370.8 728.9L370.5 729.4L371.5 729.2L371.1 729.8L371.6 729.9L371.8 730.1L371.4 730.7L372.6 730.4L371.1 731.6L372 731.5L372.2 731.8L372.5 732L372.7 732.2L372.8 732.5L372.4 733.1L373.2 733L373.2 733.4L374.1 733.3L373.4 734L373.6 734.3L374.6 734L374.7 734.4L374.2 735L374.3 735.3L375 735.3L374.6 735.8L374.6 736.2L375 736.4L375.9 736.3L375.3 736.9L374.5 737.6L376.5 737L375.5 737.9L376.5 737.7L374.8 738.9L376.5 738.4L376.8 738.7L377.1 738.9L378 738.8L376.7 739.8L379.1 738.9L377.8 739.9L377.3 740.5L377.3 740.9L377.9 741L377.4 741.5L378.1 741.5L378.3 741.8L379.1 741.8L377.6 742.8L378 743L378 743.3L377.8 743.8L378.8 743.7L378.5 744.2L379.6 744L379.5 744.4L379 745L379.2 745.2L378.7 745.8L380 745.6L378.3 746.6L378.9 746.7L380.1 746.6L380.2 746.9L380.2 747.2L380.3 747.5L380.6 747.7L380.6 748.1L380.3 748.6L380.2 748.9L381.2 748.9L382.4 748.7L380.4 749.9L381.2 749.9L381.3 750.2L382.2 750.2L381.1 751L381.5 751.1L381.1 751.6L379.9 752.4L381.4 752.2L382.1 752.3L381.4 752.8L382.9 752.6L382.1 753.3L381.9 753.7L382 754L381.8 754.4L381.7 754.8L382.8 754.7L383.6 754.8L382.8 755.4L383.9 755.4L383.6 755.8L383.9 756L383.6 756.4L384.1 756.6L384.4 756.9L383.8 757.4L383.7 757.8L383 758.3L383.9 758.4L383.4 758.8L384.1 759L385 759L384.7 759.4L384.6 759.8L384.4 760.2L383.7 760.7L385.8 760.5L384.4 761.2L385.2 761.3L384.2 761.9L383.8 762.3L385.7 762.1L385.8 762.4L384.5 763.1L385.5 763.2L384.4 763.8L383.2 764.4L384.4 764.4L385.8 764.4L385.4 764.8L385.1 765.2L386.9 765.1L385.8 765.7L386.5 765.9L386.9 766.1L385.3 766.8L385.7 767L386 767.3L386.8 767.4L387 767.7L386.3 768.2L386.3 768.5L387.1 768.7L386.7 769.1L386.7 769.4L386.8 769.7L386.3 770.1L387.5 770.2L386.4 770.8L386.2 771.1L387.2 771.2L387 771.6L387.3 771.9L386.6 772.3L386.9 772.6L386.9 772.9L386.9 773.2L387.7 773.4L388.7 773.6L387.2 774.1L388.5 774.2L389 774.5L388.1 775L387.3 775.4L388 775.6L388.1 775.9L387.4 776.3L387.9 776.6L388.3 776.8L388 777.2L387.3 777.6L388.1 777.8L388.8 778.1L388.4 778.4L387.8 778.8L389.4 778.9L387.6 779.5L388.7 779.7L389.1 779.9L389.6 780.2L388.3 780.7L388.1 781L389.3 781.2L388.7 781.6L388.7 781.9L389.1 782.2L388.5 782.6L388.4 782.9L388.6 783.2L388.3 783.5L388.7 783.8L389 784.1L388.8 784.4L388.5 784.8L389.3 785L390.2 785.3L389.3 785.7L389 786L388.2 786.4L390.2 786.6L389.5 786.9L388.8 787.3L389.3 787.6L388.7 787.9L388.9 788.2L388.8 788.6L389.3 788.9L388.6 789.2L388.7 789.5L388.6 789.8L390 790.1L388.9 790.5L388.9 790.8L389.6 791.1L389.3 791.4L389.9 791.7L388.9 792L389.9 792.3L389.1 792.7L389.8 793L389.5 793.3L389.3 793.6L388.4 793.9L389.7 794.2L389.2 794.6L390.5 794.9L388.8 795.2L390.1 795.5L390.4 795.8L388.8 796.1L390.7 796.5L389.8 796.8L389.9 797.1L389.7 797.4L389.7 797.7L389.9 798L389.3 798.3L389.1 798.7L388.1 799L389.1 799.3L388.1 799.6L391 800L390.3 800.3L389.6 800.6L389.8 800.9L389 801.2L389.6 801.5L390.4 801.9L389.9 802.2L389.8 802.5L390.7 802.8L389.1 803.1L388.7 803.4L389.1 803.7L389.1 804L389.5 804.4L389 804.7L388.7 805L388.7 805.3L389.6 805.7L389.9 806L390 806.3L390.8 806.7L389.5 806.9L391.9 807.4L388.4 807.5L391.7 808.1L389.9 808.2L389.3 808.5L388.5 808.7L388.2 809L388.7 809.4L389.5 809.8L388.9 810.1L388.1 810.3L388.4 810.6L388.9 811L388.4 811.3L388.6 811.6L389.4 812L388.3 812.2L388.3 812.5L388.5 812.9L389.8 813.4L387.9 813.4L388.1 813.8L385.6 813.8L387 814.3L385.8 814.4L387.8 815L384.8 814.9L388.7 815.8L387.3 815.9L387.1 816.2L385.4 816.2L387 816.8L384.9 816.8L387 817.4L387.8 817.9L387.8 818.2L387.5 818.5L387.5 818.8L387.7 819.2L386.9 819.3L386.2 819.5L386.9 820L387.8 820.5L386.4 820.5L388.5 821.3L386.9 821.3L387.9 821.8L386.7 821.9L387.5 822.4L387.6 822.7L388.5 823.2L386.9 823.2L387.4 823.7L386.6 823.8L387.6 824.3L387.3 824.6L387.1 824.9L386.5 825.1L386.8 825.5L385.8 825.6L386.2 826L387.5 826.6L385.6 826.5L385.1 826.7L385.7 827.2L386.6 827.7L385.9 827.9L386.6 828.4L385.2 828.3L387.1 829.1L385.6 829.1L385.1 829.3L385.3 829.7L384.3 829.7L384.8 830.2L384.6 830.5L385.8 831.1L384.9 831.2L386.3 831.9L384.6 831.8L385.5 832.4L385.5 832.7L384.5 832.8L383.8 832.9L384.7 833.5L384.1 833.6L384.3 834L383.5 834.1L384 834.6L384.2 835L384 835.3L384.1 835.6L383.5 835.8L383.8 836.2L382.5 836.1L382.2 836.3L384 837.2L382.2 837L383.8 837.8L381.7 837.5L383.4 838.4L382.8 838.5L382.7 838.8L382.7 839.2L381.7 839.1L382.7 839.8L382.3 840L382.7 840.5L383.1 841L380.6 840.4L381.6 841.1L382.2 841.7L382.1 842L381.5 842.1L382 842.6L381.3 842.7L382.2 843.4L380.5 843.1L380.8 843.5L380.2 843.7L381.7 844.6L380.1 844.3L380.8 844.9L379.5 844.7L380.1 845.3L379.9 845.6L379.1 845.6L379.6 846.1L379.6 846.5L379 846.6L379.2 847L379.5 847.5L379 847.6L379.7 848.2L379 848.3L379 848.6L378.4 848.7L378.4 849.1L378 849.2L378.3 849.7L377.9 849.9L378 850.2L377.8 850.5L377.6 850.8L378.2 851.4L377.8 851.6L376.9 851.5L377.9 852.3L376.2 851.9L376.5 852.3L376.2 852.6L376.7 853.2L376 853.1L376.2 853.6L376.8 854.2L375.3 853.8L375.9 854.5L376.2 855L373 853.8L375.1 855.2L374.4 855.2L375.1 855.9L375.5 856.5L375.3 856.7L374 856.4L373.9 856.7L375 857.6L375.5 858.2L373.7 857.6L374.2 858.3L374.4 858.7L374.2 859L372.9 858.6L373.8 859.5L375.6 860.9L373.9 860.3L375.1 861.3L371.7 859.8L372 860.3L372.9 861.2L374 862.1L371.8 861.3L371.2 861.3L371.4 861.8L371.4 862.1L371.3 862.5L371.7 863.1L371 863L370.4 863.1L371.1 863.8L370.8 864L370.1 863.9L370.2 864.4L369.1 864.1L370.4 865.2L370.3 865.5L369.9 865.7L369.1 865.6L369.3 866.1L370 866.9L368.5 866.3L369.4 867.3L367.6 866.5L368 867.1L367.8 867.3L369.2 868.6L368.7 868.7L367.4 868.2L367.9 868.9L367.9 869.3L367.1 869.2L367.5 869.8L367.2 870L366.6 870L367.6 871L366.2 870.4L366.1 870.7L365.6 870.8L366 871.5L366.1 871.9L365.2 871.7L365 871.9L365.2 872.4L365.3 872.9L363.5 872L364.9 873.4L364.1 873.2L363.5 873.1L364.1 874L363.6 874L363.8 874.6L363 874.4L363.7 875.2L364.1 876L362.7 875.3L362.5 875.6L361.8 875.5L362.2 876.1L362.5 876.8L362.2 876.9L361.3 876.6L361.3 877L360.9 877.1L361.7 878.1L361.2 878.1L361.7 878.9L360.2 878.2L360.5 878.9L360.2 879L360.5 879.6L359.8 879.5L359.6 879.7L359.5 880L360.2 881L359.6 880.9L359.4 881.2L359.2 881.5L358.5 881.3L358.5 881.7L357.4 881.1L357.6 881.8L357.3 881.9L357.1 882.2L357 882.5L356.9 882.9L357.3 883.6L356.5 883.3L356.3 883.6L357 884.6L355.7 883.9L355.4 884.1L356.2 885.1L354.8 884.3L355.4 885.3L354.9 885.3L355.1 885.9L354.4 885.7L353.8 885.6L353.8 886L354.3 886.9L353.6 886.7L353 886.5L352 886L353.4 887.8L352.3 887.2L352.6 887.9L352.8 888.6L353.4 889.6L350.5 887.2L351.6 888.7L351.1 888.7L351 889L351 889.5L351.6 890.5L350.6 890L350.9 890.7L350.7 891L350.6 891.3L349.4 890.6L349.2 890.8L349.9 892L349.1 891.6L349 892L348.9 892.3L347.8 891.6L347.8 892L347.7 892.4L348 893.2L347.4 893L347.8 893.9L347.3 893.8L346.7 893.6L345.7 893L346.4 894.3L346.3 894.6L345.6 894.3L345.4 894.5L345 894.6L345 895.1L345.1 895.7L344.3 895.3L343.6 894.9L343.8 895.6L343.1 895.3L343.9 896.8L342.6 895.7L343.2 896.9L343.1 897.3L342.6 897.1L343 898.1L342.3 897.8L341.7 897.6L341.6 897.9L342.1 899.1L341.3 898.6L340.9 898.6L340.5 898.6L340.7 899.4L340.1 899.1L339.9 899.4L340.7 900.9L339.7 900.1L340.3 901.4L338.9 900.2L339.1 900.9L338.6 900.9L337.6 900.1L337.4 900.3L336.8 900L337.2 901.1L336.6 900.8L336.8 901.6L336.8 902.1L336.7 902.6L336.5 902.8L335.9 902.5L335.6 902.6L334.9 902.2L335.1 903L334.6 902.9L334.4 903.1L333.4 902.3L334 903.6L334 904.2L333 903.4L333.7 904.9L332.9 904.4L332.7 904.5L332.4 904.8L332.5 905.4L331.9 905.1L331.3 904.7L331.1 905L331.1 905.6L330.8 905.7L330.6 906.1L331.6 908.1L330.3 906.7L331.2 908.6L329.9 907.2L329.4 907.1L328.6 906.4L328.7 907.2L328.2 907L328.7 908.4L328.3 908.3L327.3 907.3L327.1 907.6L327.3 908.5L326.9 908.4L326.7 908.7L326.2 908.5L326.4 909.5L325.3 908.3L325.8 909.6L325.1 909.1L324.9 909.4L324.4 909.2L324.2 909.5L323.8 909.4L323.8 910L323.7 910.5L322.6 909.3L323.5 911.5L322.7 910.6L322.1 910.3L322.3 911.4L321.9 911.3L321.4 911L321.4 911.5L320.8 911.2L320.6 911.6L320.1 911.2L320.3 912.3L320.9 914.1L319.9 912.8L320 913.7L319.3 913L318.8 912.8L318.7 913.3L318.4 913.4L318.1 913.5L317.8 913.7L317.3 913.4L317.5 914.4L317.3 914.7L316.4 913.6L316.8 915.2L316.2 914.7L315.5 914L315.3 914.2L315.2 914.9L314.8 914.8L314.8 915.4L314.2 914.9L314.3 916L313.5 914.9L313.7 916.1L313.5 916.4L312.7 915.4L312.9 916.7L312.6 916.7L312 916.2L311.3 915.5L311.2 916.1L311.4 917.1L310.9 916.8L310.5 916.8L310.2 916.9L309.9 917L309.5 916.7L309.3 917.1L309 917.3L308.5 916.9L308.2 916.9L308.3 918L307.8 917.7L307.4 917.5L306.8 916.9L307.3 918.8L307 919L306.4 918.4L306.2 918.7L306 919.1L305.2 918L305.1 918.5L305.2 919.7L304.5 918.7L304 918.3L303.9 919L303.7 919.4L303.3 919.2L303.1 919.5L302.7 919.3L302.4 919.4L302.7 921.2L301.9 919.9L301.4 919.5L301.3 920.1L301.2 920.7L300.6 920.1L300.5 920.6L299.5 918.8L300.3 922.1L299.5 920.8L299.6 922L298.6 920L298.6 921.2L298.7 922.2L298.5 922.7L298.1 922.5L297.4 921.5L297.6 923.1L297 922.2L296.5 921.9L296.4 922.6L295.7 921.2L295.9 923.1L295.3 922.1L295.1 922.4L294.8 922.6L294.4 922.3L294.2 922.8L293.9 923.1L294.3 925.6L292.7 921.2L292.9 922.9L292.7 923.4L292 922.2L292.2 924L292 924.6L291.8 924.9L290.9 922.9L290.9 923.9L290.6 924.1L290 923.1L290 924.5L289.4 923.5L289.1 923.3L289.1 924.6L288.7 924.6L288.3 924L287.9 924L287.8 924.6L287.5 924.9L286.9 923.9L286.7 924.3L286.4 924.3L286.1 924.6L285.8 924.6L285.5 924.6L285.1 924.2L285.1 925.8L284.5 924.6L284.2 924.5L284 925.3L283.5 924.3L283.4 925.6L283.3 926.7L282.6 924.8L282.4 925.2L282 925.1L281.9 926.4L281.4 925.4L281.2 926.1L281.1 927.1L280.5 925.7L280.4 926.7L279.7 924.8L279.5 925.6L279.2 925.7L279.1 926.9L278.7 926.4L278.5 926.8L278.2 927L277.7 926.2L277.3 925.7L277.1 926.7L276.9 927.1L276.5 926.7L276.1 926.3L275.8 926.4L275.5 926.3L275.2 926.3L275 927.2L274.6 926.6L274.2 926.5L274 927L273.5 925.7L273.3 926.5L273 926.4L272.6 926.4L272.4 926.8L272.1 926.9L271.8 927.8L271.5 928L271.1 926.4L270.8 926.6L270.4 926.5L270.1 926.9L269.8 926.6L269.5 927.3L269.2 927.5L268.9 927.1L268.6 926.8L268.3 927.8L267.9 927.2L267.7 927.7L267.4 927.9L267 927.9L266.7 926.8L266.4 927.5L266 927.3L265.7 927.1L265.4 927.2L265.1 927.4L264.8 927.3L264.4 926.3L264.2 927.8L263.8 926.9L263.5 928.1L263.2 927.7L262.9 927.6L262.6 928.3L262.3 927.6L261.9 927.8L261.6 926.9L261.3 927.8L261 927.4L260.7 926.8L260.3 927.2L260 927.5L259.7 927.2L259.4 927L259.1 927.4L258.8 926.5L258.4 927.8L258.1 927.2L257.8 927.5L257.5 927.7L257.2 928.5L256.9 927.9L256.5 927.7L256.2 927.4L255.9 927.2L255.6 928.3L255.3 928L255 927.4L254.6 930.7L254.3 927.5L253.9 930.3L253.7 928.3L253.3 928.5L253.1 927.2L252.7 928.5L252.4 927.6L252.1 927L251.8 926.5L251.5 927L251.1 927.7L250.9 927.3L250.6 926.8L250.3 926.6L249.9 927.2L249.6 927.8L249.2 927.7L249 926.8L248.5 929L248.3 927L248 927.5L247.7 927.2L247.3 927.5L247 927.5L246.8 926.7L246.4 927.5L246.2 926.4L245.8 926.6L245.4 927.4L245.1 927.8L244.9 926.6L244.5 926.8L244.2 926.8L243.9 926.6L243.7 926.2L243.3 926.3L242.9 927.2L242.5 927.4L242.4 926.1L242 926.4L241.7 926.5L241.4 926.1L241 926.8L240.8 926L240.4 927L240.3 924.7L239.8 926.1L239.6 925.7L239.1 927L238.8 926.7L238.6 925.5L238.5 924.3L238 925.7L237.6 925.8L237.3 925.8L237.1 925.3L236.7 925.7L236.5 925.2L236 925.7L235.7 925.8L235.4 925.6L235.1 925.4L234.7 925.8L234.4 925.8L234.2 925.3L233.8 925.5L233.6 925.1L233.3 925.2L233 924.6L232.7 924.8L232.3 924.8L232 925L231.8 924.6L231.5 924.5L231.2 924.1L230.8 924.6L230.4 924.9L230 925.2L229.9 924L229.6 923.9L229 925.4L229 923.9L228.8 923.3L228.5 923.3L227.8 924.9L227.8 923.6L227.5 923.3L227.2 923.1L226.7 924L226.5 923.6L226 924.1L225.9 923.1L225.7 922.7L225.4 922.5L224.6 924.6L224.4 924L224.5 922.5L224.2 922.4L223.7 923L223.7 921.8L223.1 922.7L222.8 922.6L222.5 922.6L222.3 921.9L221.9 922.1L221.7 921.8L221.4 921.6L220.8 922.5L220.7 921.7L220.1 922.6L219.9 922.4L219.3 923.1L219.4 921.9L219.5 920.4L218.9 921.3L218.4 921.8L218.3 921L218.4 919.7L217.7 920.7L217.6 920.1L217.1 920.8L217 919.8L216.1 921.7L216.1 920.7L215.8 920.6L215.8 919.4L215.3 919.9L214.9 920.3L214.9 919.3L214.2 920.3L214.2 919.4L213.5 920.4L213.5 919.3L213.3 919L212.9 919.2L212.6 919.1L212.3 919L212.3 918.2L212 918.1L211.4 918.8L211 918.8L211.1 917.7L210.1 919.5L210.4 917.7L209.7 918.6L209.3 918.8L209.4 917.8L208.8 918.4L208.6 917.9L207.9 918.9L208.4 916.9L207.8 917.6L207.7 917L206.9 918L207.1 916.7L206.6 917L206.9 915.5L206.5 915.7L206 916.1L205.6 916.2L205.4 915.9L205.4 915.2L204.5 916.2L204.2 916.3L204.4 915L203.9 915.3L202.8 916.9L203.4 914.9L203.1 914.8L202.4 915.6L202.5 914.6L202.1 914.6L202.1 914L201.5 914.5L201.2 914.3L199.9 916.3L200.4 914.7L199 916.7L200.1 913.8L199.4 914.5L199.5 913.5L199.4 912.9L199.3 912.5L198.1 914.1L199 911.8L197.5 914L198 912.3L197.1 913.3L196.7 913.3L197.1 911.9L195.8 913.8L195.6 913.5L196 912L194.8 913.5L195.6 911.3L195.9 910.2L194.7 911.7L195 910.6L194.7 910.5L195 909.2L193.8 910.7L194 909.8L193.5 910L192.7 910.7L193.3 909.1L192.1 910.6L192.6 909.1L191.7 910L191.6 909.5L191.6 908.9L191 909.2L190.9 908.8L191.1 907.9L190.6 908.1L189.6 909.1L189.9 908L189.5 908L189.4 907.6L189.1 907.5L188.7 907.6L188.1 907.9L187.9 907.6L188 906.8L187.4 907.2L187.4 906.6L187.7 905.6L187 906L187 905.6L186.5 905.8L186.1 905.8L185.8 905.6L185.7 905.1L185.4 905L184.8 905.4L184.9 904.6L183.6 906L184.1 904.7L184.1 904.2L183.6 904.3L183.3 904.2L183.5 903.4L182.8 903.9L182.9 903.2L182.2 903.6L182.2 902.9L181.7 903.2L181.7 902.6L181.3 902.7L181.4 902L181.3 901.5L180.8 901.7L180.3 901.9L179.9 901.9L179.6 901.7L179.6 901.2L179 901.4L178.8 901.3L178.4 901.2L178.3 900.8L178.8 899.6L178.2 899.9L177.7 900L178 899.2L177.2 899.6L176.8 899.6L177.7 898.1L175.9 899.7L175.9 899.2L176.1 898.4L175.5 898.7L175.8 897.9L176 897.1L175.3 897.5L175 897.4L175.1 896.7L174.4 897.1L173.9 897.2L174.4 896.1L173.1 897.1L173.5 896.2L173.6 895.5L173.7 894.9L173.2 895.1L172.9 894.9L171.7 895.8L172.8 894.1L171.7 894.8L171.6 894.5L170.9 894.8L170.4 894.8L170.8 893.9L170.4 894L169.9 894L170.2 893.2L170.3 892.6L168.9 893.7L168.9 893.3L168.9 892.7L168.8 892.4L170 890.6L169 891.2L169 890.8L167.6 891.8L168.3 890.6L168.2 890.3L167.7 890.3L167 890.6L166.7 890.4L166.7 890L166.9 889.3L166.2 889.6L166 889.4L165.6 889.3L164.2 890.2L165.2 888.8L165.7 887.8L164.7 888.4L165.2 887.5L164.8 887.5L165 886.8L164.1 887.3L163.2 887.7L162.3 888.1L163.3 886.7L163.1 886.5L162.2 886.8L163.1 885.5L162.4 885.7L162.8 885L162.3 885L161.7 885.1L161.1 885.2L161.1 884.8L161.4 884.1L161.1 884L161.3 883.4L160.6 883.6L160.9 882.8L160 883.3L159.9 882.9L159.9 882.5L159.8 882.2L159.7 881.8L158.9 882.1L158.6 881.9L158.8 881.4L159 880.8L157.6 881.5L157.9 880.9L157.2 881.1L157.2 880.7L157.7 879.8L157.7 879.4L156.2 880.2L157.5 878.7L156.6 879.1L156.2 879L156.4 878.4L156.1 878.3L155.3 878.5L156.3 877.3L155.9 877.2L155.7 876.9L155.4 876.8L154.4 877.2L154.7 876.5L155 875.9L153.5 876.6L154.6 875.4L153.5 875.9L153.2 875.7L152.7 875.7L153.4 874.7L153.5 874.3L153.1 874.2L153.1 873.8L152.2 874L151.3 874.3L151.4 873.9L151.3 873.5L152.1 872.6L152.1 872.1L152.1 871.8L151.9 871.5L151.6 871.4L152 870.7L151.2 870.9L151.2 870.5L149.9 871L149.7 870.8L149.8 870.3L150.3 869.5L149.8 869.5L149.8 869.1L148.8 869.4L148.5 869.2L149.2 868.4L150.3 867.3L148.5 868.1L150.6 866.4L148.6 867.3L148.7 866.8L148.6 866.5L148.9 866L147.9 866.2L147.7 866L147.4 865.8L146.8 865.8L147.3 865.1L146.8 865.1L146.3 865L147.1 864.2L145.8 864.5L146.1 864L146.2 863.5L146.3 863.1L145.5 863.2L145.4 862.9L144.4 863.2L144.5 862.7L145.7 861.7L144.5 862L144.2 861.8L144.7 861.2L144.1 861.1L143.9 860.9L143.9 860.5L144.7 859.7L143.3 860.1L143.5 859.7L142.3 859.9L142.9 859.3L142.3 859.2L143.2 858.4L142.5 858.4L142.3 858.1L142.7 857.5L142.4 857.3L141.4 857.5L142.4 856.6L141.8 856.6L140.9 856.7L141.1 856.3L139.9 856.5L140.7 855.8L139.2 856.1L141.8 854.5L140.7 854.7L141 854.1L141.3 853.7L140.3 853.8L140.4 853.4L140.6 853L139.4 853.2L139.8 852.6L139 852.7L139.9 851.9L139.6 851.7L139.6 851.3L140.3 850.7L138.8 851L138.8 850.7L138.8 850.3L139 849.9L138.3 849.8L139.4 849L137.9 849.3L137.7 849.1L136.9 849.1L138.9 847.9L138 847.9L137.3 847.9L138.4 847L137.8 846.9L136.5 847.1L137.9 846.2L137.2 846.2L135.9 846.3L137.3 845.5L137.3 845.1L136.2 845.2L137.5 844.3L136.4 844.4L135.6 844.4L136 843.9L136.3 843.4L136.7 843L134.8 843.3L136.6 842.3L135.3 842.5L135.2 842.2L135.7 841.7L135.4 841.4L135.5 841.1L135.4 840.8L134.9 840.6L134.4 840.4L135.4 839.8L134.3 839.8L135 839.2L134.9 838.9L133.3 839.1L135.3 838.1L134.4 838.1L133.9 837.9L133.8 837.6L134.9 836.9L134 836.9L133.9 836.6L133.5 836.4L132.4 836.4L133.4 835.7L133.9 835.2L133.5 835.1L133.8 834.6L130.4 835.3L132.9 834.2L131.3 834.4L132.7 833.7L131.6 833.6L132.1 833.1L131 833.1L132.4 832.4L131.6 832.3L132.6 831.7L132.5 831.4L131 831.5L133.3 830.5L132 830.6L132 830.2L131.1 830.1L132.8 829.4L132 829.2L131.9 828.9L131.1 828.8L131.1 828.5L131.2 828.1L131.4 827.8L130.2 827.7L131.1 827.2L131 826.9L130.8 826.6L130.6 826.3L131.3 825.8L129.9 825.8L130.9 825.3L130.2 825.1L129.3 825L130.4 824.4L130 824.2L130.6 823.7L130.1 823.5L129.7 823.3L130.1 822.9L129.7 822.6L128.8 822.5L130 821.9L130.1 821.6L128.6 821.5L130.1 820.9L129.6 820.7L129.8 820.3L129.9 820L129.3 819.8L128.5 819.6L129.1 819.2L129 818.9L127.4 818.8L129.3 818.2L130.1 817.7L129.9 817.4L128.9 817.3L129 816.9L129.1 816.6L128.1 816.4L128.9 816L128.8 815.7L128.5 815.4L128.8 815.1L128.4 814.8L128.3 814.5L128.9 814.1L128.1 813.9L128.7 813.5L127.6 813.3L128.3 812.9L128.4 812.6L128.1 812.3L128.1 812L127.8 811.7L128.2 811.3L127.7 811L128.7 810.6L127.4 810.4L127.5 810.1L127.8 809.8L127 809.5L127.5 809.1L127.2 808.9L127.3 808.5L128.7 808.1L127.5 807.9L128.5 807.5L127.6 807.2L127.8 806.9L128.2 806.5L127.7 806.3L127.5 806L126.4 805.7L127.9 805.3L127.5 805L126.6 804.7L126.9 804.4L127.3 804.1L127.2 803.8L127.5 803.4L127 803.1L127.4 802.8L126.9 802.5L126.5 802.2L127.9 801.8L126.8 801.5L128 801.2L127.7 800.9L126.9 800.6L126.6 800.3L127.1 799.9L127.7 799.6L127.8 799.3L127 799L127 798.7L128.3 798.3L127.4 798L127.7 797.7L127.7 797.4L126.4 797.1L128 796.8L128.8 796.5L127.8 796.1L127.8 795.8L126.6 795.5L124.9 795.2L127.3 794.9L127.5 794.6L127.2 794.2L128.4 793.9L128.2 793.6L126.7 793.3L127.4 793L127 792.6L126.5 792.3L128.4 792L128 791.7L127.6 791.4L127.4 791.1L127.8 790.8L128.2 790.5L128.2 790.1L127.9 789.8L128.2 789.5L127.9 789.2L127.2 788.8L126.2 788.5L125 788.1L126.8 787.9L128.2 787.6L127.6 787.3L128.1 787L127.9 786.6L127.1 786.3L127.5 786L129.3 785.8L127.9 785.4L128 785.1L129 784.8L129.5 784.6L128.6 784.2L130.1 784L128.5 783.5L127.2 783.1L128.4 782.9L127.8 782.5L127.9 782.2L128.7 782L128.6 781.6L129.2 781.4L128 780.9L128.7 780.7L128.2 780.3L128.2 780L128.6 779.7L127.4 779.2L128.3 779L128.6 778.8L129.1 778.5L129.5 778.3L129.9 778L127.7 777.4L129.5 777.3L129.6 777L129.2 776.6L127.3 776L129.4 776L129.4 775.7L128.5 775.2L129.1 775L128.9 774.6L129.3 774.4L130.8 774.3L129.5 773.8L129.6 773.5L129.2 773.1L130 772.9L130.6 772.7L129.3 772.1L130.2 772L130.6 771.7L129.4 771.2L130.2 771L131 770.9L131.1 770.5L129.6 769.9L130.3 769.8L130 769.4L130.5 769.2L129.4 768.6L129.9 768.4L130.3 768.1L130.4 767.8L131.2 767.7L131.3 767.4L129.9 766.7L130.3 766.5L130.7 766.3L131.3 766.1L131.7 765.9L130.2 765.2L129.6 764.7L130.8 764.7L130.2 764.2L131.3 764.1L131.5 763.8L131 763.4L133 763.6L131.4 762.9L131.7 762.6L132.1 762.4L132.2 762.1L132.8 761.9L131.4 761.2L131.5 760.9L133.1 761L131.8 760.3L132.3 760.1L132.8 759.9L129 758.5L131.8 759L131.6 758.6L132.1 758.4L132 758L132.6 757.9L134 758L132.7 757.3L132.6 756.9L133.3 756.8L134 756.7L133.5 756.2L132.6 755.6L134.3 755.8L133.7 755.3L134.4 755.1L134.1 754.7L134.5 754.5L134.6 754.2L134.6 753.9L134.2 753.4L134.8 753.3L134.9 753L134.1 752.3L135.6 752.6L134.5 751.8L133.9 751.3L134.1 751L135 751L136.7 751.3L135.8 750.6L136 750.3L135.1 749.7L135.5 749.5L136.2 749.4L136.4 749.1L135.8 748.6L137 748.7L137.8 748.7L137.1 748.1L136 747.3L135.6 746.8L137.2 747.1L137 746.7L136.6 746.1L137.5 746.2L137.4 745.8L137.8 745.6L137.3 745.1L137 744.6L137.9 744.6L138 744.3L138.5 744.2L137.9 743.6L138 743.3L139.1 743.4L137.9 742.5L137.9 742.2L139.2 742.4L138.9 742L140 742.1L140.4 741.9L140.3 741.5L139.2 740.7L139.6 740.5L139.9 740.3L140.8 740.4L140.7 740L140.9 739.7L140.3 739.1L140.6 738.9L141 738.7L140.8 738.3L141.4 738.2L141.2 737.8L141.4 737.5L142.4 737.7L141.2 736.7L140.9 736.2L141.4 736.1L141.6 735.8L142.2 735.8L142.2 735.5L142.3 735.1L142.8 735.1L142.5 734.5L143.5 734.7L143.7 734.4L142.8 733.6L142.4 733L143.1 733.1L143.4 732.8L143.7 732.6L143.3 732.1L143.4 731.7L144.1 731.8L143.1 730.9L144.5 731.3L143.8 730.5L144.8 730.7L144.5 730.2L144.6 729.8L146.2 730.4L146.2 730.1L146.1 729.7L146.6 729.5L146.2 728.9L146.3 728.6L146.8 728.6L147.4 728.6L147 728L146 727L147 727.2L147.5 727.1L146.1 725.9L147.4 726.3L148.3 726.5L147.5 725.6L148 725.6L147.9 725.2L148.7 725.3L149.1 725.2L149.4 725L148.8 724.3L149.9 724.6L148.7 723.4L149.4 723.5L149.8 723.3L150.6 723.6L150.6 723.2L149.5 722L150.4 722.3L150.5 721.9L151.2 722.1L151 721.5L150.8 721L150.8 720.6L152 721.1L150.8 719.8L151.4 719.8L151.6 719.6L152.7 720L152.3 719.4L153 719.4L152.8 718.9L152.3 718.2L153.8 718.9L153.6 718.3L153.9 718.1L154.2 718L154 717.4L154.2 717.2L154.1 716.7L155.2 717.1L154.2 716L154.6 715.9L155.6 716.3L154.7 715.2L155.3 715.2L156.1 715.5L155.6 714.7L155.7 714.4L156.3 714.4L157.4 714.9L156.6 713.9L157.3 714L157.2 713.5L157 713L158.3 713.6L157.5 712.6L157.7 712.3L157.5 711.7L158.1 711.8L159.3 712.4L158.1 710.9L159 711.3L158.7 710.6L159.7 711L159.5 710.5L159.5 710.1L161.1 711.1L159.9 709.6L160.3 709.5L160.2 709L160.6 708.9L161.5 709.3L162 709.3L161.3 708.3L161.3 707.8L162.2 708.2L161.3 707L161.7 706.9L162.7 707.4L162.2 706.5L161.1 705L163.5 706.8L163.5 706.4L163.9 706.3L163.5 705.5L163.6 705.2L164.3 705.4L164.8 705.4L164.1 704.3L164.9 704.7L164.5 703.8L165.3 704.2L166 704.5L165 703L166.3 703.9L166.3 703.4L166.2 702.9L166.4 702.6L166.9 702.6L167.4 702.7L165.1 699.9L167.8 702.2L167.8 701.7L168.7 702.3L168 701.1L168.7 701.3L168.3 700.5L168.8 700.5L168.7 699.9L169.3 700.1L169.4 699.7L169.8 699.8L169.3 698.7L170.3 699.3L171.4 700L170.7 698.9L171.8 699.6L171.2 698.4L172.1 699L171.7 698L172 698L172.3 697.7L172.2 697.2L172.1 696.6L172.9 697.1L172.8 696.4L173.3 696.5L173.7 696.4L174.3 696.7L173.7 695.5L174.8 696.3L174.4 695.3L175.3 695.9L175 695.1L174.4 693.8L175.1 694.3L175.9 694.6L176.6 695.1L176.3 694.2L176.4 693.7L176.9 693.9L177.4 694L177.9 694.1L177.2 692.8L177.4 692.5L178 692.7L178.4 692.7L178.6 692.5L179.1 692.6L179.2 692.2L179.1 691.5L179.3 691.3L179.4 690.8L180.1 691.3L180.1 690.7L181.1 691.6L181.2 691.2L181.3 690.8L181.4 690.4L181.5 690L181.5 689.5L182.6 690.4L182.3 689.5L182.6 689.4L182.9 689.2L183.4 689.3L183.5 688.9L183.4 688.3L184.1 688.7L184.2 688.4L184.7 688.5L185 688.4L184.8 687.6L185.2 687.6L184.9 686.5L185.6 687.1L186.8 688.2L187.3 688.4L187.4 687.9L187.5 687.5L188.7 688.8L187.3 686.1L187.6 685.9L187.8 685.8L187.6 684.8L188.1 685L189.3 686.3L189.4 685.8L189.7 685.8L189.3 684.5L189.9 684.8L189.7 684L190.3 684.4L190.4 683.9L191.1 684.4L190.9 683.4L191.2 683.3L192 684.1L192.3 684L191.8 682.5L192.7 683.4L192.8 683L193.4 683.4L193.3 682.5L193.7 682.5L193.8 682.2L194 681.9L194.5 682L193.9 680.3L194.4 680.7L194.4 680L195.1 680.5L195.9 681.3L196.6 681.9L196.6 681.3L196.5 680.4L196.7 680.2L197.1 680.2L197.3 680L197.7 680L198.1 680.1L198.3 679.8L199 680.5L199 679.8L199.2 679.5L199.6 679.6L199.7 679L199.5 678L200.2 678.6L200.8 679.1L200.6 678L201 678.2L201.3 677.9L202 678.8L202.3 678.6L201.9 677.1L202.8 678.2L203.2 678.4L202.9 676.9L203.8 678L203.5 676.8L204.1 677.1L204.7 677.9L204.5 676.5L204.8 676.6L205.3 676.8L205.1 675.7L205.6 676L205.9 675.8L206.3 676L206 674.5L206.8 675.4L206.7 674.4L207.4 675.3L208.1 676.1L209 677.4L209.4 677.6L208.7 675.1L209.9 677.2L209.6 675.7L209.7 675.1L209.9 674.6L210.1 674.4L210.6 674.6L211 674.9L211.3 674.8L211.5 674.3L212 674.8L212.1 674.1L212.3 674L212.8 674.3L212.6 672.8L213.4 674L213.2 672.6L213.7 673.2L213.9 672.7L214.3 673L214.9 673.6L215.1 673.2L215.3 672.8L215.3 671.9L216 673L216.2 672.6L216.5 672.5L216.4 671.2L216.9 671.8L217.2 671.5L217.5 671.5L218.1 672.1L218.2 671.7L218.4 671L218.9 671.7L219.1 671.2L219.8 672.4L219.6 670.9L220 670.9L220.4 671.1L220.6 670.8L221.4 672.2L221.5 671.6L221.6 670.8L221.7 670.1L222 669.8L222.4 670.2L222.8 670.3L223.1 670.2L223.4 670.1L223.3 668.7L223.9 669.5L224.2 669.6L224.7 670L224.8 669.4L225.1 668.9L225.6 669.7L226 670.2L226.2 669.7L226.4 669L226.5 668.1L227.2 669.6L227.6 669.9L227.8 669.5L228 669L228.1 667.8L228.4 667.7L228.8 668.2L229.3 669.1L229.4 667.8L229.7 667.6L230.3 669.2L230.6 668.8L231 669.3L230.9 667.4L231.5 668.7L231.6 667.8L232 667.9L232.3 667.9L232.7 668.2L232.9 667.6L233.4 668.3L233.5 667.2L234 668.3L234.2 667.6L234.5 667.3L234.9 668.1L235 666.5L235.6 668.3L235.6 666.7L236 667L236.3 666.6L236.5 666.2L237 667.3L237.3 667.3L237.7 667.2L238 667.2L238.1 666.1L238.5 666.6L239 667.4L239.2 666.7L239.6 667.7L239.8 666.8L239.9 665.2L240.3 665.6L240.8 666.6L241 666.2L241.4 666.2L241.8 666.8L242 666.3L242.4 666.9L242.6 665.7L243 667L243.2 665.2L243.6 666L244.2 668.7L244.2 666.4L244.7 667.6L244.9 666.3L245.1 665.2L245.5 666.2L245.8 666.5L246.1 666.1L246.4 665.8L246.7 665.4L247.2 667.3L247.3 665L247.8 666.5L248 665.7L248.4 666.7L248.7 666.4L248.9 665.3L249.2 664.7L249.5 664.7L249.9 665.8L250.2 665.1L250.6 666L250.9 666L251.1 664.2L251.5 665.1L251.8 665.1L252.1 666.2L252.4 665.2L252.8 666.5L253.1 665.3L253.4 665.2L253.7 665.1L254 665.3L254.3 664.3L254.6 663.9L254.9 664.5L255.3 665.7L255.6 665.1L255.9 665.5L256.2 666L256.5 665.4L256.9 665.7L257.2 665.1L257.5 665L257.8 661.4L258.1 664.6L258.4 665" fill="none" stroke="#000" stroke-width="0.62" stroke-linejoin="miter"/>
<path d="M257.6 665.4L257.9 661.8L258.2 662.2L258.6 665.4L258.6 665.7L258.2 665.7L257.9 665.7L257.6 665.7Z" fill="#000" stroke="#000" stroke-width="0.3"/>
<path d="M206.7 676L206.3 674.2L206.2 673.1L207 674.2L207.9 675.5L208 675.8L207.7 675.9L207.4 676L207.1 676.1L206.8 676.3Z" fill="#000" stroke="#000" stroke-width="0.3"/>
<path d="M339.7 899.4L340.4 900.8L340.6 901.6L340.3 901.7L339.6 901.3L338.4 900.3L338.2 900.1L338.5 899.9L338.7 899.7L339 899.5L339.2 899.3L339.5 899.1Z" fill="#000" stroke="#000" stroke-width="0.3"/>
<path d="M319.7 912.3L320.1 913.8L320.3 914.7L319.7 914.4L318.6 912.9L318.5 912.7L318.8 912.5L319 912.4L319.3 912.2L319.6 912.1Z" fill="#000" stroke="#000" stroke-width="0.3"/>
<path d="M389.5 798.8L388.2 799.1L387.8 799.4L388.4 799.7L389.5 800L389.8 800L389.8 799.7L389.8 799.4L389.8 799.1L389.8 798.8Z" fill="#000" stroke="#000" stroke-width="0.3"/>
<path d="M365.3 720.5L366.8 719.9L366.8 720.2L367 720.5L366.1 721.6L365.8 721.7L365.6 721.5L365.4 721.2L365.3 721L365.1 720.7Z" fill="#000" stroke="#000" stroke-width="0.3"/>
<path d="M141.5 855.7L140.2 856L139.8 855.9L139.5 855.6L140.9 854.6L141.2 854.4L141.3 854.7L141.5 855L141.6 855.3L141.8 855.6Z" fill="#000" stroke="#000" stroke-width="0.3"/>
<circle cx="258.4" cy="796.5" r="123.9" fill="none" stroke="#000" stroke-width="0.9"/>
<path d="M258.4 673L258.4 674.2M269.6 673.5L269.5 674.7M280.7 675L280.5 676.2M291.7 677.5L291.3 678.7M302.3 681L301.9 682.2M312.6 685.5L312 686.6M322.4 690.9L321.8 691.9M331.7 697.1L331 698.1M340.4 704.1L339.6 705M348.5 712L347.6 712.8M355.7 720.5L354.8 721.2M362.2 729.6L361.2 730.2M367.9 739.3L366.8 739.8M372.6 749.4L371.5 749.9M376.4 760L375.2 760.3M379.2 770.8L378 771.1M381 781.9L379.8 782M381.9 793L380.7 793.1M381.7 804.2L380.5 804.2M380.4 815.4L379.3 815.2M378.2 826.3L377.1 826.1M375 837.1L373.9 836.7M370.9 847.5L369.8 847M365.8 857.5L364.7 856.9M359.8 866.9L358.8 866.3M353 875.8L352.1 875.1M345.4 884.1L344.6 883.2M337.1 891.6L336.3 890.7M328.2 898.3L327.5 897.3M318.6 904.2L318 903.2M308.6 909.2L308.1 908.2M298.2 913.3L297.8 912.2M287.4 916.5L287.1 915.3M276.4 918.6L276.3 917.4M265.3 919.7L265.2 918.5M254.1 919.8L254.1 918.6M242.9 918.9L243.1 917.7M231.9 917L232.1 915.8M221.1 914.1L221.4 913M210.6 910.2L211 909.1M200.4 905.4L201 904.4M190.8 899.7L191.5 898.7M181.7 893.2L182.5 892.2M173.3 885.8L174.1 884.9M165.5 877.7L166.4 876.9M158.5 869L159.5 868.2M152.4 859.6L153.4 859M147.1 849.7L148.2 849.2M142.7 839.4L143.8 839M139.3 828.7L140.5 828.4M136.9 817.8L138 817.6M135.4 806.7L136.6 806.6M135 795.5L136.2 795.5M135.6 784.3L136.8 784.4M137.2 773.2L138.4 773.5M139.8 762.3L141 762.7M143.4 751.7L144.5 752.2M147.9 741.5L149 742M153.4 731.7L154.4 732.3M159.7 722.4L160.6 723.1M166.8 713.8L167.7 714.6M174.6 705.8L175.5 706.7M183.2 698.6L183.9 699.5M192.4 692.2L193 693.2M202.1 686.6L202.7 687.7M212.3 681.9L212.8 683.1M222.9 678.2L223.2 679.4M233.7 675.5L234 676.7M244.8 673.8L244.9 674.9M256 673L256 674.2" stroke="#555" stroke-width="0.6" fill="none"/>
<path d="M258.4 570.1L258.4 568.8M279 571L279.1 569.7M299.3 573.8L299.6 572.5M319.3 578.4L319.7 577.1M338.9 584.8L339.3 583.6M357.7 593L358.3 591.8M375.7 602.8L376.4 601.7M392.8 614.2L393.6 613.2M408.8 627.2L409.6 626.2M423.5 641.5L424.5 640.6M436.9 657.1L437.9 656.3M448.8 673.8L449.9 673.1M459.1 691.6L460.3 691M467.8 710.2L469 709.7M474.7 729.5L476 729.2M479.9 749.4L481.2 749.2M483.3 769.7L484.6 769.5M484.8 790.2L486.1 790.1M484.4 810.7L485.7 810.8M482.2 831.1L483.5 831.3M478.1 851.3L479.4 851.6M472.2 871L473.5 871.4M464.6 890L465.8 890.6M455.3 908.3L456.4 909M444.3 925.7L445.4 926.5M431.8 942L432.8 942.9M417.9 957.2L418.8 958.1M402.7 970.9L403.5 971.9M386.3 983.3L387 984.4M368.8 994.1L369.5 995.3M350.5 1003.3L351 1004.5M331.3 1010.8L331.7 1012M311.6 1016.5L311.9 1017.8M291.4 1020.4L291.6 1021.7M271 1022.5L271.1 1023.8M250.4 1022.7L250.4 1024M230 1021.1L229.8 1022.3M209.7 1017.5L209.4 1018.8M189.9 1012.2L189.5 1013.5M170.6 1005.1L170.1 1006.3M152.1 996.3L151.4 997.4M134.4 985.8L133.7 986.9M117.7 973.8L116.9 974.8M102.2 960.3L101.3 961.3M88 945.5L87 946.3M75.2 929.4L74.2 930.2M63.9 912.3L62.8 912.9M54.2 894.1L53 894.7M46.2 875.2L45 875.7M39.9 855.7L38.7 856M35.5 835.6L34.2 835.8M32.8 815.2L31.5 815.3M32.1 794.7L30.8 794.7M33.1 774.2L31.9 774.1M36.1 753.9L34.8 753.6M40.9 733.9L39.6 733.5M47.4 714.4L46.2 713.9M55.7 695.6L54.6 695M65.7 677.7L64.6 677M77.3 660.7L76.2 659.9M90.3 644.8L89.4 644M104.8 630.2L103.9 629.3M120.5 617L119.7 615.9M137.3 605.2L136.6 604.1M155.1 595L154.5 593.8M173.8 586.5L173.3 585.3M193.2 579.7L192.8 578.4M213.1 574.6L212.9 573.4M233.4 571.4L233.3 570.1M253.9 570.1L253.9 568.8" stroke="#666" stroke-width="0.7" fill="none"/>
<text x="295.7" y="696" font-size="6.9" fill="#111" stroke="#111" stroke-width="0.12" textLength="24.8" lengthAdjust="spacingAndGlyphs">200 kbp</text>
<text x="333.1" y="728.2" font-size="6.9" fill="#111" stroke="#111" stroke-width="0.12" textLength="24.8" lengthAdjust="spacingAndGlyphs">400 kbp</text>
<text x="350" y="774.9" font-size="6.9" fill="#111" stroke="#111" stroke-width="0.12" textLength="24.8" lengthAdjust="spacingAndGlyphs">600 kbp</text>
<text x="349.9" y="825.7" font-size="6.9" fill="#111" stroke="#111" stroke-width="0.12" textLength="24.8" lengthAdjust="spacingAndGlyphs">800 kbp</text>
<text x="329" y="870.7" font-size="6.9" fill="#111" stroke="#111" stroke-width="0.12" textLength="28.3" lengthAdjust="spacingAndGlyphs">1000 kbp</text>
<text x="290.9" y="902" font-size="6.9" fill="#111" stroke="#111" stroke-width="0.12" textLength="28.3" lengthAdjust="spacingAndGlyphs">1200 kbp</text>
<text x="240.6" y="911.2" font-size="6.9" fill="#111" stroke="#111" stroke-width="0.12" textLength="28.3" lengthAdjust="spacingAndGlyphs">1400 kbp</text>
<text x="191.3" y="898.1" font-size="6.9" fill="#111" stroke="#111" stroke-width="0.12" textLength="28.3" lengthAdjust="spacingAndGlyphs">1600 kbp</text>
<text x="155.8" y="864.4" font-size="6.9" fill="#111" stroke="#111" stroke-width="0.12" textLength="28.3" lengthAdjust="spacingAndGlyphs">1800 kbp</text>
<text x="141" y="817.7" font-size="6.9" fill="#111" stroke="#111" stroke-width="0.12" textLength="28.3" lengthAdjust="spacingAndGlyphs">2000 kbp</text>
<text x="142" y="766.7" font-size="6.9" fill="#111" stroke="#111" stroke-width="0.12" textLength="28.3" lengthAdjust="spacingAndGlyphs">2200 kbp</text>
<text x="162.5" y="722.3" font-size="6.9" fill="#111" stroke="#111" stroke-width="0.12" textLength="28.3" lengthAdjust="spacingAndGlyphs">2400 kbp</text>
<text x="201.7" y="693.1" font-size="6.9" fill="#111" stroke="#111" stroke-width="0.12" textLength="28.3" lengthAdjust="spacingAndGlyphs">2600 kbp</text>
<text x="210.9" y="263.1" font-size="10.0" fill="#111" text-anchor="start" font-weight="normal" textLength="117.4" lengthAdjust="spacingAndGlyphs">ST672 MRSA comparison</text>
<text x="243" y="277.9" font-size="10.0" fill="#111" text-anchor="start" font-weight="normal" textLength="53.1" lengthAdjust="spacingAndGlyphs">2779743 bp</text>
<text x="216.1" y="796.5" font-size="6.9" fill="#111" text-anchor="start" font-weight="normal" textLength="83.7" lengthAdjust="spacingAndGlyphs">ST88 MRSA comparison</text>
<text x="237.7" y="807.6" font-size="6.9" fill="#111" text-anchor="start" font-weight="normal" textLength="40.6" lengthAdjust="spacingAndGlyphs">2768815 bp</text>
<text x="261.1" y="10.3" font-size="9.5" fill="#ee1e1e" text-anchor="start" font-weight="normal" textLength="17.5" lengthAdjust="spacingAndGlyphs" stroke="#ee1e1e" stroke-width="0.08">blaZ</text>
<line x1="269.3" y1="11.1" x2="272.2" y2="21.6" stroke="#ee1e1e" stroke-width="0.6"/>
<text x="283.9" y="11.9" font-size="9.5" fill="#ee1e1e" text-anchor="start" font-weight="normal" textLength="32.3" lengthAdjust="spacingAndGlyphs" stroke="#ee1e1e" stroke-width="0.08">lukF-PV</text>
<line x1="299.6" y1="12.3" x2="295.5" y2="22.8" stroke="#ee1e1e" stroke-width="0.6"/>
<text x="355.3" y="34.4" font-size="9.5" fill="#ee1e1e" text-anchor="start" font-weight="normal" textLength="48.7" lengthAdjust="spacingAndGlyphs" stroke="#ee1e1e" stroke-width="0.08">subtype IVd</text>
<line x1="377.2" y1="36.6" x2="408.7" y2="64.7" stroke="#ee1e1e" stroke-width="0.6"/>
<text x="394.7" y="46.7" font-size="9.5" fill="#ee1e1e" text-anchor="start" font-weight="normal" textLength="22.7" lengthAdjust="spacingAndGlyphs" stroke="#ee1e1e" stroke-width="0.08">ccrA2</text>
<line x1="395.9" y1="47.7" x2="408.7" y2="64.7" stroke="#ee1e1e" stroke-width="0.6"/>
<text x="410.4" y="57.2" font-size="9.5" fill="#ee1e1e" text-anchor="start" font-weight="normal" textLength="23.3" lengthAdjust="spacingAndGlyphs" stroke="#ee1e1e" stroke-width="0.08">ccrB2</text>
<line x1="410.4" y1="57.7" x2="408.7" y2="64.7" stroke="#ee1e1e" stroke-width="0.6"/>
<text x="423.6" y="66.3" font-size="9.5" fill="#ee1e1e" text-anchor="start" font-weight="normal" textLength="28" lengthAdjust="spacingAndGlyphs" stroke="#ee1e1e" stroke-width="0.08">IS1272</text>
<line x1="423.6" y1="63.8" x2="408.7" y2="64.7" stroke="#ee1e1e" stroke-width="0.6"/>
<text x="433.7" y="74.4" font-size="9.5" fill="#ee1e1e" text-anchor="start" font-weight="normal" textLength="27.5" lengthAdjust="spacingAndGlyphs" stroke="#ee1e1e" stroke-width="0.08">mecR1</text>
<line x1="433.7" y1="72.6" x2="408.7" y2="64.7" stroke="#ee1e1e" stroke-width="0.6"/>
<text x="442.9" y="82.6" font-size="9.5" fill="#ee1e1e" text-anchor="start" font-weight="normal" textLength="23.1" lengthAdjust="spacingAndGlyphs" stroke="#ee1e1e" stroke-width="0.08">mecA</text>
<line x1="442" y1="80.4" x2="408.7" y2="64.7" stroke="#ee1e1e" stroke-width="0.6"/>
<text x="492" y="147" font-size="9.5" fill="#ee1e1e" text-anchor="start" font-weight="normal" textLength="14.8" lengthAdjust="spacingAndGlyphs" stroke="#ee1e1e" stroke-width="0.08">coa</text>
<line x1="492" y1="146" x2="481.5" y2="151.3" stroke="#ee1e1e" stroke-width="0.6"/>
<line x1="271.4" y1="96.2" x2="271.6" y2="80.2" stroke="#ee1e1e" stroke-width="0.9"/>
<line x1="288" y1="97.2" x2="289.8" y2="81.3" stroke="#ee1e1e" stroke-width="0.9"/>
<line x1="361.9" y1="123.9" x2="370.7" y2="110.6" stroke="#ee1e1e" stroke-width="0.9"/>
<line x1="365" y1="126.1" x2="374.1" y2="112.9" stroke="#ee1e1e" stroke-width="0.9"/>
<line x1="366.2" y1="126.9" x2="375.4" y2="113.8" stroke="#ee1e1e" stroke-width="0.9"/>
<line x1="367.4" y1="127.8" x2="376.7" y2="114.8" stroke="#ee1e1e" stroke-width="0.9"/>
<line x1="371.4" y1="130.7" x2="381.1" y2="118" stroke="#ee1e1e" stroke-width="0.9"/>
<line x1="417.2" y1="184.8" x2="431.3" y2="177.3" stroke="#ee1e1e" stroke-width="0.9"/>
<text transform="translate(-0.8 479.1) scale(0.9 1)" x="0" y="0" font-size="57.8" font-weight="bold" fill="#000">a</text>
<text transform="translate(31.6 479.1) scale(0.95 1)" x="0" y="0" font-size="55.8" font-weight="bold" fill="#000">)</text>
<text transform="translate(4 1013.8) scale(1.0 1)" x="0" y="0" font-size="56" font-weight="bold" fill="#000">b</text>
<text transform="translate(40.6 1013.8) scale(0.88 1)" x="0" y="0" font-size="56" font-weight="bold" fill="#000">)</text>
<rect x="618" y="28.8" width="11" height="11" fill="#000"/>
<text x="635.1" y="38.1" font-size="9.2" fill="#111" text-anchor="start" font-weight="normal" textLength="48.4" lengthAdjust="spacingAndGlyphs">GC Content</text>
<text x="617.3" y="55.3" font-size="9.3" fill="#000" text-anchor="start" font-weight="normal" stroke="#000" stroke-width="0.1">GC Skew</text>
<rect x="618" y="62.7" width="11" height="11" fill="#8e0096"/>
<text x="634.9" y="72.3" font-size="6.7" fill="#111" text-anchor="start" font-weight="normal" stroke="#111" stroke-width="0.15">GC Skew(-)</text>
<rect x="618" y="79.6" width="11" height="11" fill="#009000"/>
<text x="634.9" y="89.2" font-size="6.7" fill="#111" text-anchor="start" font-weight="normal" stroke="#111" stroke-width="0.15">GC Skew(+)</text>
<text x="617.3" y="106.2" font-size="9.3" fill="#000" text-anchor="start" font-weight="normal" stroke="#000" stroke-width="0.1">MRS 1</text>
<rect x="618" y="113.5" width="11" height="11" fill="#e0a4e0"/>
<text x="634.9" y="123.1" font-size="6.7" fill="#111" text-anchor="start" font-weight="normal" stroke="#111" stroke-width="0.15">100% identity</text>
<rect x="618" y="130.4" width="11" height="11" fill="#e0b8e2"/>
<text x="634.9" y="140" font-size="6.7" fill="#111" text-anchor="start" font-weight="normal" stroke="#111" stroke-width="0.15">90% identity</text>
<rect x="618" y="147.4" width="11" height="11" fill="#e0e0e0"/>
<text x="634.9" y="157" font-size="6.7" fill="#111" text-anchor="start" font-weight="normal" stroke="#111" stroke-width="0.15">70% identity</text>
<text x="617.3" y="173.9" font-size="9.3" fill="#000" text-anchor="start" font-weight="normal" stroke="#000" stroke-width="0.1">MRS 4</text>
<rect x="618" y="181.3" width="11" height="11" fill="#a5e1e1"/>
<text x="634.9" y="190.9" font-size="6.7" fill="#111" text-anchor="start" font-weight="normal" stroke="#111" stroke-width="0.15">100% identity</text>
<rect x="618" y="198.2" width="11" height="11" fill="#bde2e2"/>
<text x="634.9" y="207.8" font-size="6.7" fill="#111" text-anchor="start" font-weight="normal" stroke="#111" stroke-width="0.15">90% identity</text>
<rect x="618" y="215.1" width="11" height="11" fill="#e0e0e0"/>
<text x="634.9" y="224.7" font-size="6.7" fill="#111" text-anchor="start" font-weight="normal" stroke="#111" stroke-width="0.15">70% identity</text>
<text x="617.3" y="241.7" font-size="9.3" fill="#000" text-anchor="start" font-weight="normal" stroke="#000" stroke-width="0.1">AMRF2</text>
<rect x="618" y="249" width="11" height="11" fill="#4a4adf"/>
<text x="634.9" y="258.6" font-size="6.7" fill="#111" text-anchor="start" font-weight="normal" stroke="#111" stroke-width="0.15">100% identity</text>
<rect x="618" y="266" width="11" height="11" fill="#a6a6e2"/>
<text x="634.9" y="275.6" font-size="6.7" fill="#111" text-anchor="start" font-weight="normal" stroke="#111" stroke-width="0.15">70% identity</text>
<rect x="618" y="282.9" width="11" height="11" fill="#e0e0e0"/>
<text x="634.9" y="292.5" font-size="6.7" fill="#111" text-anchor="start" font-weight="normal" stroke="#111" stroke-width="0.15">50% identity</text>
<text x="617.3" y="309.4" font-size="9.3" fill="#000" text-anchor="start" font-weight="normal" stroke="#000" stroke-width="0.1">GR1</text>
<rect x="618" y="316.8" width="11" height="11" fill="#7caede"/>
<text x="634.9" y="326.4" font-size="6.7" fill="#111" text-anchor="start" font-weight="normal" stroke="#111" stroke-width="0.15">100% identity</text>
<rect x="618" y="333.7" width="11" height="11" fill="#b8cce4"/>
<text x="634.9" y="343.3" font-size="6.7" fill="#111" text-anchor="start" font-weight="normal" stroke="#111" stroke-width="0.15">70% identity</text>
<rect x="618" y="350.7" width="11" height="11" fill="#e0e0e0"/>
<text x="634.9" y="360.3" font-size="6.7" fill="#111" text-anchor="start" font-weight="normal" stroke="#111" stroke-width="0.15">50% identity</text>
<text x="617.3" y="377.2" font-size="9.3" fill="#000" text-anchor="start" font-weight="normal" stroke="#000" stroke-width="0.1">VB12268</text>
<rect x="618" y="384.5" width="11" height="11" fill="#e0e04c"/>
<text x="634.9" y="394.1" font-size="6.7" fill="#111" text-anchor="start" font-weight="normal" stroke="#111" stroke-width="0.15">100% identity</text>
<rect x="618" y="401.5" width="11" height="11" fill="#e2e0a6"/>
<text x="634.9" y="411.1" font-size="6.7" fill="#111" text-anchor="start" font-weight="normal" stroke="#111" stroke-width="0.15">70% identity</text>
<rect x="618" y="418.4" width="11" height="11" fill="#e0e0e0"/>
<text x="634.9" y="428" font-size="6.7" fill="#111" text-anchor="start" font-weight="normal" stroke="#111" stroke-width="0.15">50% identity</text>
<text x="617.3" y="445" font-size="9.3" fill="#000" text-anchor="start" font-weight="normal" stroke="#000" stroke-width="0.1">VBV169</text>
<rect x="618" y="452.3" width="11" height="11" fill="#4ee2b0"/>
<text x="634.9" y="461.9" font-size="6.7" fill="#111" text-anchor="start" font-weight="normal" stroke="#111" stroke-width="0.15">100% identity</text>
<rect x="618" y="469.2" width="11" height="11" fill="#a6e0cc"/>
<text x="634.9" y="478.8" font-size="6.7" fill="#111" text-anchor="start" font-weight="normal" stroke="#111" stroke-width="0.15">70% identity</text>
<rect x="618" y="486.2" width="11" height="11" fill="#e0e0e0"/>
<text x="634.9" y="495.8" font-size="6.7" fill="#111" text-anchor="start" font-weight="normal" stroke="#111" stroke-width="0.15">50% identity</text>
<rect x="516" y="537.6" width="7" height="6.6" fill="#000"/>
<text x="526" y="543.5" font-size="5.1" fill="#111" text-anchor="start" font-weight="normal" textLength="26.9" lengthAdjust="spacingAndGlyphs" stroke="#111" stroke-width="0.08">GC content</text>
<text x="516" y="553.4" font-size="5.45" fill="#000" text-anchor="start" font-weight="normal" stroke="#000" stroke-width="0.16">GC skew</text>
<rect x="516" y="557.5" width="7" height="6.6" fill="#8e0096"/>
<text x="526" y="563.3" font-size="3.95" fill="#000" text-anchor="start" font-weight="normal" stroke="#000" stroke-width="0.22">GC skew(-)</text>
<rect x="516" y="567.5" width="7" height="6.6" fill="#009000"/>
<text x="526" y="573.3" font-size="3.95" fill="#000" text-anchor="start" font-weight="normal" stroke="#000" stroke-width="0.22">GC skew(+)</text>
<text x="516" y="583.3" font-size="5.45" fill="#000" text-anchor="start" font-weight="normal" stroke="#000" stroke-width="0.16">10A874</text>
<rect x="516" y="587.5" width="7" height="6.6" fill="#e0aee0"/>
<text x="526" y="593.3" font-size="3.95" fill="#000" text-anchor="start" font-weight="normal" stroke="#000" stroke-width="0.22">100% identity</text>
<rect x="516" y="597.4" width="7" height="6.6" fill="#dcc4dc"/>
<text x="526" y="603.2" font-size="3.95" fill="#000" text-anchor="start" font-weight="normal" stroke="#000" stroke-width="0.22">70% identity</text>
<rect x="516" y="607.4" width="7" height="6.6" fill="#e0e0e0"/>
<text x="526" y="613.2" font-size="3.95" fill="#000" text-anchor="start" font-weight="normal" stroke="#000" stroke-width="0.22">50% identity</text>
<text x="516" y="623.2" font-size="5.45" fill="#000" text-anchor="start" font-weight="normal" stroke="#000" stroke-width="0.16">21343</text>
<rect x="516" y="627.4" width="7" height="6.6" fill="#b0e0e0"/>
<text x="526" y="633.2" font-size="3.95" fill="#000" text-anchor="start" font-weight="normal" stroke="#000" stroke-width="0.22">100% identity</text>
<rect x="516" y="637.3" width="7" height="6.6" fill="#cde0e0"/>
<text x="526" y="643.1" font-size="3.95" fill="#000" text-anchor="start" font-weight="normal" stroke="#000" stroke-width="0.22">70% identity</text>
<rect x="516" y="647.3" width="7" height="6.6" fill="#e0e0e0"/>
<text x="526" y="653.1" font-size="3.95" fill="#000" text-anchor="start" font-weight="normal" stroke="#000" stroke-width="0.22">50% identity</text>
<text x="516" y="663.1" font-size="5.45" fill="#000" text-anchor="start" font-weight="normal" stroke="#000" stroke-width="0.16">MRS 3</text>
<rect x="516" y="667.3" width="7" height="6.6" fill="#4a4adf"/>
<text x="526" y="673.1" font-size="3.95" fill="#000" text-anchor="start" font-weight="normal" stroke="#000" stroke-width="0.22">100% identity</text>
<rect x="516" y="677.2" width="7" height="6.6" fill="#a6a6e2"/>
<text x="526" y="683" font-size="3.95" fill="#000" text-anchor="start" font-weight="normal" stroke="#000" stroke-width="0.22">70% identity</text>
<rect x="516" y="687.2" width="7" height="6.6" fill="#e0e0e0"/>
<text x="526" y="693" font-size="3.95" fill="#000" text-anchor="start" font-weight="normal" stroke="#000" stroke-width="0.22">50% identity</text>
<text x="516" y="703" font-size="5.45" fill="#000" text-anchor="start" font-weight="normal" stroke="#000" stroke-width="0.16">BUG0201t8</text>
<rect x="516" y="707.2" width="7" height="6.6" fill="#7caede"/>
<text x="526" y="713" font-size="3.95" fill="#000" text-anchor="start" font-weight="normal" stroke="#000" stroke-width="0.22">100% identity</text>
<rect x="516" y="717.1" width="7" height="6.6" fill="#b8cce4"/>
<text x="526" y="722.9" font-size="3.95" fill="#000" text-anchor="start" font-weight="normal" stroke="#000" stroke-width="0.22">70% identity</text>
<rect x="516" y="727.1" width="7" height="6.6" fill="#e0e0e0"/>
<text x="526" y="732.9" font-size="3.95" fill="#000" text-anchor="start" font-weight="normal" stroke="#000" stroke-width="0.22">50% identity</text>
<text x="516" y="742.9" font-size="5.45" fill="#000" text-anchor="start" font-weight="normal" stroke="#000" stroke-width="0.16">BUG0202t2</text>
<rect x="516" y="747.1" width="7" height="6.6" fill="#e0e04c"/>
<text x="526" y="752.9" font-size="3.95" fill="#000" text-anchor="start" font-weight="normal" stroke="#000" stroke-width="0.22">100% identity</text>
<rect x="516" y="757" width="7" height="6.6" fill="#e2e0a6"/>
<text x="526" y="762.8" font-size="3.95" fill="#000" text-anchor="start" font-weight="normal" stroke="#000" stroke-width="0.22">70% identity</text>
<rect x="516" y="767" width="7" height="6.6" fill="#e0e0e0"/>
<text x="526" y="772.8" font-size="3.95" fill="#000" text-anchor="start" font-weight="normal" stroke="#000" stroke-width="0.22">50% identity</text>
<text x="516" y="782.8" font-size="5.45" fill="#000" text-anchor="start" font-weight="normal" stroke="#000" stroke-width="0.16">BUW13t1</text>
<rect x="575" y="537.1" width="7" height="6.6" fill="#4ee2b0"/>
<text x="585" y="542.9" font-size="3.95" fill="#000" text-anchor="start" font-weight="normal" stroke="#000" stroke-width="0.22">100% identity</text>
<rect x="575" y="547.1" width="7" height="6.6" fill="#a6e0cc"/>
<text x="585" y="552.9" font-size="3.95" fill="#000" text-anchor="start" font-weight="normal" stroke="#000" stroke-width="0.22">70% identity</text>
<rect x="575" y="557" width="7" height="6.6" fill="#e0e0e0"/>
<text x="585" y="562.8" font-size="3.95" fill="#000" text-anchor="start" font-weight="normal" stroke="#000" stroke-width="0.22">50% identity</text>
<text x="575" y="572.8" font-size="5.45" fill="#000" text-anchor="start" font-weight="normal" stroke="#000" stroke-width="0.16">CFSA16</text>
<rect x="575" y="577" width="7" height="6.6" fill="#b0e2ae"/>
<text x="585" y="582.8" font-size="3.95" fill="#000" text-anchor="start" font-weight="normal" stroke="#000" stroke-width="0.22">100% identity</text>
<rect x="575" y="587" width="7" height="6.6" fill="#cce0cc"/>
<text x="585" y="592.8" font-size="3.95" fill="#000" text-anchor="start" font-weight="normal" stroke="#000" stroke-width="0.22">70% identity</text>
<rect x="575" y="596.9" width="7" height="6.6" fill="#e0e0e0"/>
<text x="585" y="602.7" font-size="3.95" fill="#000" text-anchor="start" font-weight="normal" stroke="#000" stroke-width="0.22">50% identity</text>
<text x="575" y="612.7" font-size="5.45" fill="#000" text-anchor="start" font-weight="normal" stroke="#000" stroke-width="0.16">CM101</text>
<rect x="575" y="616.9" width="7" height="6.6" fill="#e24a7c"/>
<text x="585" y="622.7" font-size="3.95" fill="#000" text-anchor="start" font-weight="normal" stroke="#000" stroke-width="0.22">100% identity</text>
<rect x="575" y="626.9" width="7" height="6.6" fill="#e0a6b8"/>
<text x="585" y="632.7" font-size="3.95" fill="#000" text-anchor="start" font-weight="normal" stroke="#000" stroke-width="0.22">70% identity</text>
<rect x="575" y="636.8" width="7" height="6.6" fill="#e0e0e0"/>
<text x="585" y="642.6" font-size="3.95" fill="#000" text-anchor="start" font-weight="normal" stroke="#000" stroke-width="0.22">50% identity</text>
<text x="575" y="652.6" font-size="5.45" fill="#000" text-anchor="start" font-weight="normal" stroke="#000" stroke-width="0.16">H1808</text>
<rect x="575" y="656.8" width="7" height="6.6" fill="#e21a1a"/>
<text x="585" y="662.6" font-size="3.95" fill="#000" text-anchor="start" font-weight="normal" stroke="#000" stroke-width="0.22">100% identity</text>
<rect x="575" y="666.8" width="7" height="6.6" fill="#e29a9a"/>
<text x="585" y="672.6" font-size="3.95" fill="#000" text-anchor="start" font-weight="normal" stroke="#000" stroke-width="0.22">70% identity</text>
<rect x="575" y="676.7" width="7" height="6.6" fill="#e0e0e0"/>
<text x="585" y="682.5" font-size="3.95" fill="#000" text-anchor="start" font-weight="normal" stroke="#000" stroke-width="0.22">50% identity</text>
<text x="575" y="692.5" font-size="5.45" fill="#000" text-anchor="start" font-weight="normal" stroke="#000" stroke-width="0.16">HST105</text>
<rect x="575" y="696.7" width="7" height="6.6" fill="#b01ae0"/>
<text x="585" y="702.5" font-size="3.95" fill="#000" text-anchor="start" font-weight="normal" stroke="#000" stroke-width="0.22">100% identity</text>
<rect x="575" y="706.7" width="7" height="6.6" fill="#c890e0"/>
<text x="585" y="712.5" font-size="3.95" fill="#000" text-anchor="start" font-weight="normal" stroke="#000" stroke-width="0.22">70% identity</text>
<rect x="575" y="716.6" width="7" height="6.6" fill="#e0e0e0"/>
<text x="585" y="722.4" font-size="3.95" fill="#000" text-anchor="start" font-weight="normal" stroke="#000" stroke-width="0.22">50% identity</text>
<text x="575" y="732.4" font-size="5.45" fill="#000" text-anchor="start" font-weight="normal" stroke="#000" stroke-width="0.16">M3017</text>
<rect x="575" y="736.6" width="7" height="6.6" fill="#e2ace2"/>
<text x="585" y="742.4" font-size="3.95" fill="#000" text-anchor="start" font-weight="normal" stroke="#000" stroke-width="0.22">100% identity</text>
<rect x="575" y="746.6" width="7" height="6.6" fill="#e0cce0"/>
<text x="585" y="752.4" font-size="3.95" fill="#000" text-anchor="start" font-weight="normal" stroke="#000" stroke-width="0.22">70% identity</text>
<rect x="575" y="756.5" width="7" height="6.6" fill="#e0e0e0"/>
<text x="585" y="762.3" font-size="3.95" fill="#000" text-anchor="start" font-weight="normal" stroke="#000" stroke-width="0.22">50% identity</text>
<text x="575" y="772.3" font-size="5.45" fill="#000" text-anchor="start" font-weight="normal" stroke="#000" stroke-width="0.16">M3487</text>
<rect x="632" y="537.1" width="7" height="6.6" fill="#b0e0e0"/>
<text x="642" y="542.9" font-size="3.95" fill="#000" text-anchor="start" font-weight="normal" stroke="#000" stroke-width="0.22">100% identity</text>
<rect x="632" y="547.1" width="7" height="6.6" fill="#cde0e0"/>
<text x="642" y="552.9" font-size="3.95" fill="#000" text-anchor="start" font-weight="normal" stroke="#000" stroke-width="0.22">70% identity</text>
<rect x="632" y="557" width="7" height="6.6" fill="#e0e0e0"/>
<text x="642" y="562.8" font-size="3.95" fill="#000" text-anchor="start" font-weight="normal" stroke="#000" stroke-width="0.22">50% identity</text>
<text x="632" y="572.8" font-size="5.45" fill="#000" text-anchor="start" font-weight="normal" stroke="#000" stroke-width="0.16">M3493</text>
<rect x="632" y="577" width="7" height="6.6" fill="#4a4adf"/>
<text x="642" y="582.8" font-size="3.95" fill="#000" text-anchor="start" font-weight="normal" stroke="#000" stroke-width="0.22">100% identity</text>
<rect x="632" y="587" width="7" height="6.6" fill="#a6a6e2"/>
<text x="642" y="592.8" font-size="3.95" fill="#000" text-anchor="start" font-weight="normal" stroke="#000" stroke-width="0.22">70% identity</text>
<rect x="632" y="596.9" width="7" height="6.6" fill="#e0e0e0"/>
<text x="642" y="602.7" font-size="3.95" fill="#000" text-anchor="start" font-weight="normal" stroke="#000" stroke-width="0.22">50% identity</text>
<text x="632" y="612.7" font-size="5.45" fill="#000" text-anchor="start" font-weight="normal" stroke="#000" stroke-width="0.16">MRSA040T</text>
<rect x="632" y="616.9" width="7" height="6.6" fill="#7caede"/>
<text x="642" y="622.7" font-size="3.95" fill="#000" text-anchor="start" font-weight="normal" stroke="#000" stroke-width="0.22">100% identity</text>
<rect x="632" y="626.9" width="7" height="6.6" fill="#b8cce4"/>
<text x="642" y="632.7" font-size="3.95" fill="#000" text-anchor="start" font-weight="normal" stroke="#000" stroke-width="0.22">70% identity</text>
<rect x="632" y="636.8" width="7" height="6.6" fill="#e0e0e0"/>
<text x="642" y="642.6" font-size="3.95" fill="#000" text-anchor="start" font-weight="normal" stroke="#000" stroke-width="0.22">50% identity</text>
<text x="632" y="652.6" font-size="5.45" fill="#000" text-anchor="start" font-weight="normal" stroke="#000" stroke-width="0.16">MRSA280T</text>
<rect x="632" y="656.8" width="7" height="6.6" fill="#e0e04c"/>
<text x="642" y="662.6" font-size="3.95" fill="#000" text-anchor="start" font-weight="normal" stroke="#000" stroke-width="0.22">100% identity</text>
<rect x="632" y="666.8" width="7" height="6.6" fill="#e2e0a6"/>
<text x="642" y="672.6" font-size="3.95" fill="#000" text-anchor="start" font-weight="normal" stroke="#000" stroke-width="0.22">70% identity</text>
<rect x="632" y="676.7" width="7" height="6.6" fill="#e0e0e0"/>
<text x="642" y="682.5" font-size="3.95" fill="#000" text-anchor="start" font-weight="normal" stroke="#000" stroke-width="0.22">50% identity</text>
<text x="632" y="692.5" font-size="5.45" fill="#000" text-anchor="start" font-weight="normal" stroke="#000" stroke-width="0.16">UC54</text>
<rect x="632" y="696.7" width="7" height="6.6" fill="#4ee2b0"/>
<text x="642" y="702.5" font-size="3.95" fill="#000" text-anchor="start" font-weight="normal" stroke="#000" stroke-width="0.22">100% identity</text>
<rect x="632" y="706.7" width="7" height="6.6" fill="#a6e0cc"/>
<text x="642" y="712.5" font-size="3.95" fill="#000" text-anchor="start" font-weight="normal" stroke="#000" stroke-width="0.22">70% identity</text>
<rect x="632" y="716.6" width="7" height="6.6" fill="#e0e0e0"/>
<text x="642" y="722.4" font-size="3.95" fill="#000" text-anchor="start" font-weight="normal" stroke="#000" stroke-width="0.22">50% identity</text>
</svg>
</body></html>
